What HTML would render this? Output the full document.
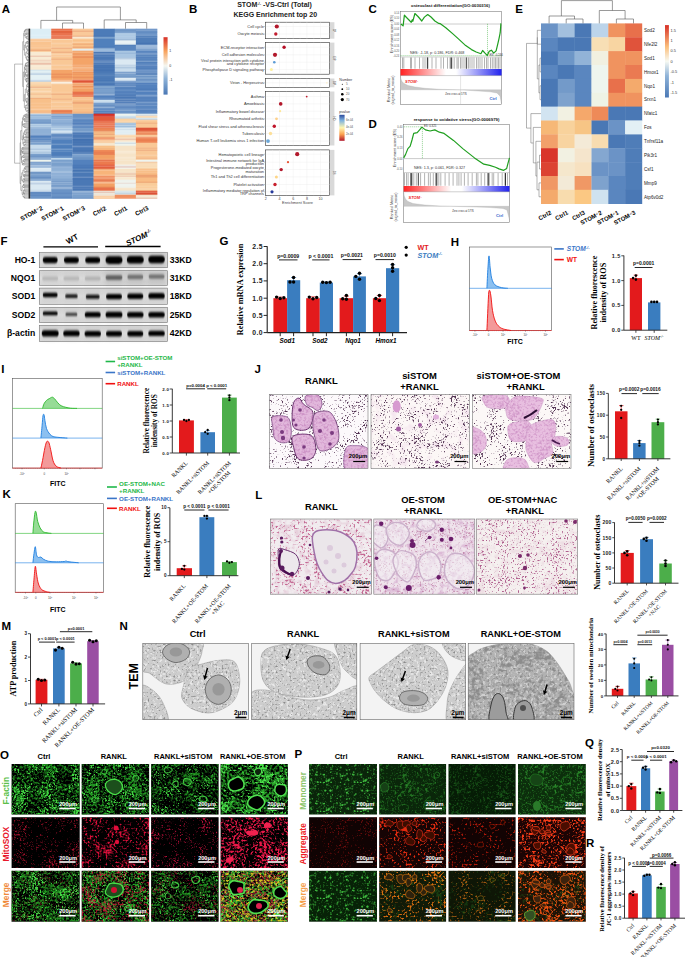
<!DOCTYPE html>
<html><head><meta charset="utf-8"><style>
html,body{margin:0;padding:0;background:#fff;width:685px;height:957px;overflow:hidden}
svg{display:block}
.S{font-family:"Liberation Sans",sans-serif}
.R{font-family:"Liberation Serif",serif}
</style></head><body>
<svg width="685" height="957" viewBox="0 0 685 957">
<rect width="685" height="957" fill="#fff"/>
<rect x="30.2" y="28.7" width="21.4" height="6.3" fill="#dceef6" />
<rect x="30.2" y="34.7" width="21.4" height="1.3" fill="#e3f1f8" />
<rect x="30.2" y="35.7" width="21.4" height="2.3" fill="#dceef6" />
<rect x="30.2" y="37.7" width="21.4" height="1.3" fill="#e1f0f7" />
<rect x="30.2" y="38.7" width="21.4" height="1.3" fill="#fbd2ac" />
<rect x="30.2" y="39.7" width="21.4" height="1.3" fill="#f9c38f" />
<rect x="30.2" y="40.7" width="21.4" height="1.3" fill="#fbd5b0" />
<rect x="30.2" y="41.7" width="21.4" height="3.3" fill="#f9c38f" />
<rect x="30.2" y="44.7" width="21.4" height="1.3" fill="#f9c898" />
<rect x="30.2" y="45.7" width="21.4" height="1.3" fill="#f9c38f" />
<rect x="30.2" y="46.7" width="21.4" height="1.3" fill="#faca9d" />
<rect x="30.2" y="47.7" width="21.4" height="1.3" fill="#fac899" />
<rect x="30.2" y="48.7" width="21.4" height="1.3" fill="#f9c38f" />
<rect x="30.2" y="49.7" width="21.4" height="1.3" fill="#eca479" />
<rect x="30.2" y="50.7" width="21.4" height="1.3" fill="#f9c38f" />
<rect x="30.2" y="51.7" width="21.4" height="4.3" fill="#f8ead3" />
<rect x="30.2" y="55.7" width="21.4" height="1.3" fill="#eabea9" />
<rect x="30.2" y="56.7" width="21.4" height="3.3" fill="#f8ead3" />
<rect x="30.2" y="59.7" width="21.4" height="1.3" fill="#f1d5bf" />
<rect x="30.2" y="60.7" width="21.4" height="1.3" fill="#f3dac4" />
<rect x="30.2" y="61.7" width="21.4" height="1.3" fill="#f8ead3" />
<rect x="30.2" y="62.7" width="21.4" height="1.3" fill="#ebc2ad" />
<rect x="30.2" y="63.7" width="21.4" height="1.3" fill="#eabfaa" />
<rect x="30.2" y="64.7" width="21.4" height="1.3" fill="#f8ead3" />
<rect x="30.2" y="65.7" width="21.4" height="1.3" fill="#f9edd9" />
<rect x="30.2" y="66.7" width="21.4" height="3.3" fill="#f8ead3" />
<rect x="30.2" y="69.7" width="21.4" height="1.3" fill="#d1e2ec" />
<rect x="30.2" y="70.7" width="21.4" height="2.3" fill="#e2f0f4" />
<rect x="30.2" y="72.7" width="21.4" height="1.3" fill="#d1e2ec" />
<rect x="30.2" y="73.7" width="21.4" height="1.3" fill="#b6cbe0" />
<rect x="30.2" y="74.7" width="21.4" height="1.3" fill="#e2f0f4" />
<rect x="30.2" y="75.7" width="21.4" height="1.3" fill="#e6f2f5" />
<rect x="30.2" y="76.7" width="21.4" height="1.3" fill="#e5f1f5" />
<rect x="30.2" y="77.7" width="21.4" height="1.3" fill="#e2f0f4" />
<rect x="30.2" y="78.7" width="21.4" height="1.3" fill="#e8f3f6" />
<rect x="30.2" y="79.7" width="21.4" height="1.3" fill="#cedfeb" />
<rect x="30.2" y="80.7" width="21.4" height="1.3" fill="#b8d2e8" />
<rect x="30.2" y="81.7" width="21.4" height="1.3" fill="#fadbb7" />
<rect x="30.2" y="82.7" width="21.4" height="1.3" fill="#fad9b2" />
<rect x="30.2" y="83.7" width="21.4" height="1.3" fill="#fad7af" />
<rect x="30.2" y="84.7" width="21.4" height="2.3" fill="#f9d1a2" />
<rect x="30.2" y="86.7" width="21.4" height="1.3" fill="#ecae87" />
<rect x="30.2" y="87.7" width="21.4" height="1.3" fill="#fad9b2" />
<rect x="30.2" y="88.7" width="21.4" height="2.3" fill="#f9d1a2" />
<rect x="30.2" y="90.7" width="21.4" height="1.3" fill="#fbdfbe" />
<rect x="30.2" y="91.7" width="21.4" height="1.3" fill="#fad7af" />
<rect x="30.2" y="92.7" width="21.4" height="1.3" fill="#f9d1a2" />
<rect x="30.2" y="93.7" width="21.4" height="1.3" fill="#f2bd92" />
<rect x="30.2" y="94.7" width="21.4" height="1.3" fill="#fad6ab" />
<rect x="30.2" y="95.7" width="21.4" height="1.3" fill="#f9d1a2" />
<rect x="30.2" y="96.7" width="21.4" height="1.3" fill="#fadbb6" />
<rect x="30.2" y="97.7" width="21.4" height="1.3" fill="#efab7b" />
<rect x="30.2" y="98.7" width="21.4" height="4.3" fill="#f8c08a" />
<rect x="30.2" y="102.7" width="21.4" height="1.3" fill="#f9c797" />
<rect x="30.2" y="103.7" width="21.4" height="2.3" fill="#f8c08a" />
<rect x="30.2" y="105.7" width="21.4" height="1.3" fill="#f9c898" />
<rect x="30.2" y="106.7" width="21.4" height="2.3" fill="#f8c08a" />
<rect x="30.2" y="108.7" width="21.4" height="1.3" fill="#fad2ac" />
<rect x="30.2" y="109.7" width="21.4" height="2.3" fill="#f8c08a" />
<rect x="30.2" y="111.7" width="21.4" height="1.3" fill="#f3b381" />
<rect x="30.2" y="112.7" width="21.4" height="1.3" fill="#fad2ac" />
<rect x="30.2" y="113.7" width="21.4" height="1.3" fill="#bdd3e9" />
<rect x="30.2" y="114.7" width="21.4" height="1.3" fill="#8daed3" />
<rect x="30.2" y="115.7" width="21.4" height="1.3" fill="#a9c6e2" />
<rect x="30.2" y="116.7" width="21.4" height="1.3" fill="#9bbadb" />
<rect x="30.2" y="117.7" width="21.4" height="1.3" fill="#a9c6e2" />
<rect x="30.2" y="118.7" width="21.4" height="1.3" fill="#8bacd3" />
<rect x="30.2" y="119.7" width="21.4" height="3.3" fill="#7aa0cc" />
<rect x="30.2" y="122.7" width="21.4" height="1.3" fill="#688fc2" />
<rect x="30.2" y="123.7" width="21.4" height="1.3" fill="#bed6ea" />
<rect x="30.2" y="124.7" width="21.4" height="1.3" fill="#a2bfdd" />
<rect x="30.2" y="125.7" width="21.4" height="1.3" fill="#c0d7eb" />
<rect x="30.2" y="126.7" width="21.4" height="1.3" fill="#9fbddb" />
<rect x="30.2" y="127.7" width="21.4" height="1.3" fill="#a1bddd" />
<rect x="30.2" y="128.7" width="21.4" height="5.3" fill="#8fb0d6" />
<rect x="30.2" y="133.7" width="21.4" height="1.3" fill="#99b7da" />
<rect x="30.2" y="134.7" width="21.4" height="1.3" fill="#83a4cf" />
<rect x="30.2" y="135.7" width="21.4" height="2.3" fill="#5381bd" />
<rect x="30.2" y="137.7" width="21.4" height="1.3" fill="#799dcc" />
<rect x="30.2" y="138.7" width="21.4" height="1.3" fill="#5381bd" />
<rect x="30.2" y="139.7" width="21.4" height="1.3" fill="#7aa0cc" />
<rect x="30.2" y="140.7" width="21.4" height="1.3" fill="#678fc1" />
<rect x="30.2" y="141.7" width="21.4" height="1.3" fill="#95b3d6" />
<rect x="30.2" y="142.7" width="21.4" height="2.3" fill="#7aa0cc" />
<rect x="30.2" y="144.7" width="21.4" height="4.3" fill="#c8dcec" />
<rect x="30.2" y="148.7" width="21.4" height="1.3" fill="#a9c2dd" />
<rect x="30.2" y="149.7" width="21.4" height="2.3" fill="#c8dcec" />
<rect x="30.2" y="151.7" width="21.4" height="1.3" fill="#a7c0dc" />
<rect x="30.2" y="152.7" width="21.4" height="1.3" fill="#c8dcec" />
<rect x="30.2" y="153.7" width="21.4" height="2.3" fill="#7aa0cc" />
<rect x="30.2" y="155.7" width="21.4" height="1.3" fill="#6c93c4" />
<rect x="30.2" y="156.7" width="21.4" height="1.3" fill="#7aa0cc" />
<rect x="30.2" y="157.7" width="21.4" height="1.3" fill="#97b5d7" />
<rect x="30.2" y="158.7" width="21.4" height="1.3" fill="#7aa0cc" />
<rect x="30.2" y="159.7" width="21.4" height="2.3" fill="#eef4ee" />
<rect x="30.2" y="161.7" width="21.4" height="1.3" fill="#7b9ecb" />
<rect x="30.2" y="162.7" width="21.4" height="1.3" fill="#8fb0d6" />
<rect x="30.2" y="163.7" width="21.4" height="1.3" fill="#799dca" />
<rect x="30.2" y="164.7" width="21.4" height="1.3" fill="#aac3e0" />
<rect x="30.2" y="165.7" width="21.4" height="1.3" fill="#a7c1df" />
<rect x="30.2" y="166.7" width="21.4" height="1.3" fill="#8fb0d6" />
<rect x="30.2" y="167.7" width="21.4" height="1.3" fill="#e3eef5" />
<rect x="30.2" y="168.7" width="21.4" height="3.3" fill="#dbe9f2" />
<rect x="30.2" y="171.7" width="21.4" height="1.3" fill="#749ac8" />
<rect x="30.2" y="172.7" width="21.4" height="1.3" fill="#6b92c3" />
<rect x="30.2" y="173.7" width="21.4" height="1.3" fill="#8aabd2" />
<rect x="30.2" y="174.7" width="21.4" height="2.3" fill="#7aa0cc" />
<rect x="30.2" y="176.7" width="21.4" height="1.3" fill="#6890c2" />
<rect x="30.2" y="177.7" width="21.4" height="1.3" fill="#6b92c3" />
<rect x="30.2" y="178.7" width="21.4" height="1.3" fill="#91b1d5" />
<rect x="30.2" y="179.7" width="21.4" height="1.3" fill="#7aa0cc" />
<rect x="30.2" y="180.7" width="21.4" height="2.3" fill="#dbe9f2" />
<rect x="30.2" y="182.7" width="21.4" height="1.3" fill="#bccfe3" />
<rect x="30.2" y="183.7" width="21.4" height="1.3" fill="#c9daea" />
<rect x="30.2" y="184.7" width="21.4" height="5.3" fill="#dbe9f2" />
<rect x="30.2" y="189.7" width="21.4" height="1.3" fill="#c8d9e9" />
<rect x="30.2" y="190.7" width="21.4" height="1.3" fill="#dbe9f2" />
<rect x="30.2" y="191.7" width="21.4" height="1.3" fill="#638cc2" />
<rect x="30.2" y="192.7" width="21.4" height="1.3" fill="#5e88bf" />
<rect x="30.2" y="193.7" width="21.4" height="1.3" fill="#6a93c6" />
<rect x="30.2" y="194.7" width="21.4" height="1.3" fill="#5c86be" />
<rect x="30.2" y="195.7" width="21.4" height="2.3" fill="#6a93c6" />
<rect x="30.2" y="197.7" width="21.4" height="1.1" fill="#779ccb" />
<rect x="51.3" y="28.7" width="21.4" height="1.3" fill="#e8673f" />
<rect x="51.3" y="29.7" width="21.4" height="1.3" fill="#ed8b6c" />
<rect x="51.3" y="30.7" width="21.4" height="1.3" fill="#e8673f" />
<rect x="51.3" y="31.7" width="21.4" height="1.3" fill="#df5d3b" />
<rect x="51.3" y="32.7" width="21.4" height="1.3" fill="#eb7854" />
<rect x="51.3" y="33.7" width="21.4" height="1.3" fill="#e8673f" />
<rect x="51.3" y="34.7" width="21.4" height="1.3" fill="#ee8f71" />
<rect x="51.3" y="35.7" width="21.4" height="1.3" fill="#eb7854" />
<rect x="51.3" y="36.7" width="21.4" height="1.3" fill="#ed8869" />
<rect x="51.3" y="37.7" width="21.4" height="1.3" fill="#e15e3b" />
<rect x="51.3" y="38.7" width="21.4" height="1.3" fill="#f9e0bf" />
<rect x="51.3" y="39.7" width="21.4" height="3.3" fill="#f9c896" />
<rect x="51.3" y="42.7" width="21.4" height="1.3" fill="#fad2a9" />
<rect x="51.3" y="43.7" width="21.4" height="1.3" fill="#f9cd9f" />
<rect x="51.3" y="44.7" width="21.4" height="2.3" fill="#f9c896" />
<rect x="51.3" y="46.7" width="21.4" height="1.3" fill="#fad0a5" />
<rect x="51.3" y="47.7" width="21.4" height="1.3" fill="#eeac81" />
<rect x="51.3" y="48.7" width="21.4" height="3.3" fill="#f9c896" />
<rect x="51.3" y="51.7" width="21.4" height="1.3" fill="#eda97f" />
<rect x="51.3" y="52.7" width="21.4" height="1.3" fill="#f9c896" />
<rect x="51.3" y="53.7" width="21.4" height="1.3" fill="#fbd8b4" />
<rect x="51.3" y="54.7" width="21.4" height="1.3" fill="#f9c896" />
<rect x="51.3" y="55.7" width="21.4" height="1.3" fill="#fad2a9" />
<rect x="51.3" y="56.7" width="21.4" height="2.3" fill="#f9c896" />
<rect x="51.3" y="58.7" width="21.4" height="1.3" fill="#efaf83" />
<rect x="51.3" y="59.7" width="21.4" height="5.3" fill="#f9c896" />
<rect x="51.3" y="64.7" width="21.4" height="1.3" fill="#fad5af" />
<rect x="51.3" y="65.7" width="21.4" height="3.3" fill="#f9c896" />
<rect x="51.3" y="68.7" width="21.4" height="1.3" fill="#fbd7b3" />
<rect x="51.3" y="69.7" width="21.4" height="4.3" fill="#f4a468" />
<rect x="51.3" y="73.7" width="21.4" height="1.3" fill="#e88b5a" />
<rect x="51.3" y="74.7" width="21.4" height="1.3" fill="#f4a468" />
<rect x="51.3" y="75.7" width="21.4" height="1.3" fill="#ef9a62" />
<rect x="51.3" y="76.7" width="21.4" height="1.3" fill="#eb915d" />
<rect x="51.3" y="77.7" width="21.4" height="2.3" fill="#f4a468" />
<rect x="51.3" y="79.7" width="21.4" height="2.3" fill="#f7bb8f" />
<rect x="51.3" y="81.7" width="21.4" height="1.3" fill="#f9f0e1" />
<rect x="51.3" y="82.7" width="21.4" height="1.3" fill="#f8eddc" />
<rect x="51.3" y="83.7" width="21.4" height="1.3" fill="#facea2" />
<rect x="51.3" y="84.7" width="21.4" height="7.3" fill="#f9c896" />
<rect x="51.3" y="91.7" width="21.4" height="1.3" fill="#facfa4" />
<rect x="51.3" y="92.7" width="21.4" height="1.3" fill="#f9c896" />
<rect x="51.3" y="93.7" width="21.4" height="1.3" fill="#edab80" />
<rect x="51.3" y="94.7" width="21.4" height="4.3" fill="#f9c896" />
<rect x="51.3" y="98.7" width="21.4" height="1.3" fill="#f1b387" />
<rect x="51.3" y="99.7" width="21.4" height="2.3" fill="#f9c896" />
<rect x="51.3" y="101.7" width="21.4" height="1.3" fill="#fbd7b2" />
<rect x="51.3" y="102.7" width="21.4" height="3.3" fill="#f9c896" />
<rect x="51.3" y="105.7" width="21.4" height="1.3" fill="#fad3ab" />
<rect x="51.3" y="106.7" width="21.4" height="2.3" fill="#f9c896" />
<rect x="51.3" y="108.7" width="21.4" height="1.3" fill="#fbd8b5" />
<rect x="51.3" y="109.7" width="21.4" height="1.3" fill="#ef8a58" />
<rect x="51.3" y="110.7" width="21.4" height="1.3" fill="#e5784e" />
<rect x="51.3" y="111.7" width="21.4" height="2.3" fill="#ef8a58" />
<rect x="51.3" y="113.7" width="21.4" height="1.3" fill="#8fb0d6" />
<rect x="51.3" y="114.7" width="21.4" height="1.3" fill="#a5c0de" />
<rect x="51.3" y="115.7" width="21.4" height="1.3" fill="#779bc9" />
<rect x="51.3" y="116.7" width="21.4" height="1.3" fill="#8fb0d6" />
<rect x="51.3" y="117.7" width="21.4" height="1.3" fill="#7fa2cd" />
<rect x="51.3" y="118.7" width="21.4" height="1.3" fill="#a3bedd" />
<rect x="51.3" y="119.7" width="21.4" height="3.3" fill="#8fb0d6" />
<rect x="51.3" y="122.7" width="21.4" height="1.3" fill="#84a6d0" />
<rect x="51.3" y="123.7" width="21.4" height="2.3" fill="#8fb0d6" />
<rect x="51.3" y="125.7" width="21.4" height="1.3" fill="#abc4e0" />
<rect x="51.3" y="126.7" width="21.4" height="1.3" fill="#9dbadb" />
<rect x="51.3" y="127.7" width="21.4" height="1.3" fill="#c8dced" />
<rect x="51.3" y="128.7" width="21.4" height="1.3" fill="#a4c1de" />
<rect x="51.3" y="129.7" width="21.4" height="1.3" fill="#b8d2e8" />
<rect x="51.3" y="130.7" width="21.4" height="1.3" fill="#d5e4f1" />
<rect x="51.3" y="131.7" width="21.4" height="1.3" fill="#d3e3f0" />
<rect x="51.3" y="132.7" width="21.4" height="1.3" fill="#b6cde3" />
<rect x="51.3" y="133.7" width="21.4" height="1.3" fill="#6a93c6" />
<rect x="51.3" y="134.7" width="21.4" height="1.3" fill="#618bc1" />
<rect x="51.3" y="135.7" width="21.4" height="1.3" fill="#5f89c0" />
<rect x="51.3" y="136.7" width="21.4" height="1.3" fill="#7da0cd" />
<rect x="51.3" y="137.7" width="21.4" height="2.3" fill="#6a93c6" />
<rect x="51.3" y="139.7" width="21.4" height="4.3" fill="#5080bc" />
<rect x="51.3" y="143.7" width="21.4" height="1.3" fill="#7b9fcc" />
<rect x="51.3" y="144.7" width="21.4" height="2.3" fill="#5080bc" />
<rect x="51.3" y="146.7" width="21.4" height="1.3" fill="#4b7bb8" />
<rect x="51.3" y="147.7" width="21.4" height="1.3" fill="#5080bc" />
<rect x="51.3" y="148.7" width="21.4" height="1.3" fill="#84a6d0" />
<rect x="51.3" y="149.7" width="21.4" height="1.3" fill="#5080bc" />
<rect x="51.3" y="150.7" width="21.4" height="1.3" fill="#6791c5" />
<rect x="51.3" y="151.7" width="21.4" height="1.3" fill="#5080bc" />
<rect x="51.3" y="152.7" width="21.4" height="1.3" fill="#4d7cb9" />
<rect x="51.3" y="153.7" width="21.4" height="1.3" fill="#5080bc" />
<rect x="51.3" y="154.7" width="21.4" height="1.3" fill="#4878b6" />
<rect x="51.3" y="155.7" width="21.4" height="1.3" fill="#6e95c7" />
<rect x="51.3" y="156.7" width="21.4" height="1.3" fill="#5080bc" />
<rect x="51.3" y="157.7" width="21.4" height="1.3" fill="#c1d8eb" />
<rect x="51.3" y="158.7" width="21.4" height="1.3" fill="#b8d2e8" />
<rect x="51.3" y="159.7" width="21.4" height="2.3" fill="#7aa0cc" />
<rect x="51.3" y="161.7" width="21.4" height="1.3" fill="#93b2d6" />
<rect x="51.3" y="162.7" width="21.4" height="3.3" fill="#7aa0cc" />
<rect x="51.3" y="165.7" width="21.4" height="1.3" fill="#87a9d1" />
<rect x="51.3" y="166.7" width="21.4" height="1.3" fill="#99b7da" />
<rect x="51.3" y="167.7" width="21.4" height="3.3" fill="#8fb0d6" />
<rect x="51.3" y="170.7" width="21.4" height="1.3" fill="#9dbadb" />
<rect x="51.3" y="171.7" width="21.4" height="1.3" fill="#adc5e1" />
<rect x="51.3" y="172.7" width="21.4" height="2.3" fill="#8fb0d6" />
<rect x="51.3" y="174.7" width="21.4" height="1.3" fill="#99b7da" />
<rect x="51.3" y="175.7" width="21.4" height="3.3" fill="#8fb0d6" />
<rect x="51.3" y="178.7" width="21.4" height="1.3" fill="#7fa2cd" />
<rect x="51.3" y="179.7" width="21.4" height="1.3" fill="#8fb0d6" />
<rect x="51.3" y="180.7" width="21.4" height="1.3" fill="#6c93c4" />
<rect x="51.3" y="181.7" width="21.4" height="1.3" fill="#99b6d8" />
<rect x="51.3" y="182.7" width="21.4" height="1.3" fill="#7aa0cc" />
<rect x="51.3" y="183.7" width="21.4" height="1.3" fill="#92b1d5" />
<rect x="51.3" y="184.7" width="21.4" height="1.3" fill="#7aa0cc" />
<rect x="51.3" y="185.7" width="21.4" height="1.3" fill="#7198c7" />
<rect x="51.3" y="186.7" width="21.4" height="1.3" fill="#94b2d6" />
<rect x="51.3" y="187.7" width="21.4" height="1.3" fill="#9fbada" />
<rect x="51.3" y="188.7" width="21.4" height="1.3" fill="#7aa0cc" />
<rect x="51.3" y="189.7" width="21.4" height="3.3" fill="#6a93c6" />
<rect x="51.3" y="192.7" width="21.4" height="1.3" fill="#5f89bf" />
<rect x="51.3" y="193.7" width="21.4" height="3.3" fill="#6a93c6" />
<rect x="51.3" y="196.7" width="21.4" height="1.3" fill="#5b86bd" />
<rect x="51.3" y="197.7" width="21.4" height="1.1" fill="#6a93c6" />
<rect x="72.5" y="28.7" width="21.4" height="2.3" fill="#f9c99a" />
<rect x="72.5" y="30.7" width="21.4" height="1.3" fill="#eca880" />
<rect x="72.5" y="31.7" width="21.4" height="4.3" fill="#f9c99a" />
<rect x="72.5" y="35.7" width="21.4" height="1.3" fill="#edac83" />
<rect x="72.5" y="36.7" width="21.4" height="1.3" fill="#f9ead4" />
<rect x="72.5" y="37.7" width="21.4" height="1.3" fill="#f8e6cc" />
<rect x="72.5" y="38.7" width="21.4" height="1.3" fill="#facc9d" />
<rect x="72.5" y="39.7" width="21.4" height="2.3" fill="#f9c28a" />
<rect x="72.5" y="41.7" width="21.4" height="1.3" fill="#fbd4ac" />
<rect x="72.5" y="42.7" width="21.4" height="1.3" fill="#f9c28a" />
<rect x="72.5" y="43.7" width="21.4" height="1.3" fill="#eea878" />
<rect x="72.5" y="44.7" width="21.4" height="2.3" fill="#f9c28a" />
<rect x="72.5" y="46.7" width="21.4" height="1.3" fill="#eba072" />
<rect x="72.5" y="47.7" width="21.4" height="1.3" fill="#f9c28a" />
<rect x="72.5" y="48.7" width="21.4" height="2.3" fill="#e6eef0" />
<rect x="72.5" y="50.7" width="21.4" height="1.3" fill="#f4a468" />
<rect x="72.5" y="51.7" width="21.4" height="1.3" fill="#f6b889" />
<rect x="72.5" y="52.7" width="21.4" height="1.3" fill="#f4a468" />
<rect x="72.5" y="53.7" width="21.4" height="1.3" fill="#ec945f" />
<rect x="72.5" y="54.7" width="21.4" height="1.3" fill="#f5af7b" />
<rect x="72.5" y="55.7" width="21.4" height="1.3" fill="#ef9a62" />
<rect x="72.5" y="56.7" width="21.4" height="1.3" fill="#e88b5a" />
<rect x="72.5" y="57.7" width="21.4" height="7.3" fill="#f4a468" />
<rect x="72.5" y="64.7" width="21.4" height="1.3" fill="#f6b788" />
<rect x="72.5" y="65.7" width="21.4" height="1.3" fill="#f4a468" />
<rect x="72.5" y="66.7" width="21.4" height="1.3" fill="#f7be93" />
<rect x="72.5" y="67.7" width="21.4" height="1.3" fill="#f6b584" />
<rect x="72.5" y="68.7" width="21.4" height="1.3" fill="#f6b585" />
<rect x="72.5" y="69.7" width="21.4" height="1.3" fill="#f4a468" />
<rect x="72.5" y="70.7" width="21.4" height="1.3" fill="#f7be93" />
<rect x="72.5" y="71.7" width="21.4" height="1.3" fill="#eb925e" />
<rect x="72.5" y="72.7" width="21.4" height="1.3" fill="#f4a468" />
<rect x="72.5" y="73.7" width="21.4" height="1.3" fill="#ed9660" />
<rect x="72.5" y="74.7" width="21.4" height="2.3" fill="#f4a468" />
<rect x="72.5" y="76.7" width="21.4" height="1.3" fill="#ea8e5c" />
<rect x="72.5" y="77.7" width="21.4" height="1.3" fill="#f09b63" />
<rect x="72.5" y="78.7" width="21.4" height="1.3" fill="#f5ac76" />
<rect x="72.5" y="79.7" width="21.4" height="1.3" fill="#ea836a" />
<rect x="72.5" y="80.7" width="21.4" height="1.3" fill="#db5237" />
<rect x="72.5" y="81.7" width="21.4" height="1.3" fill="#e35a3a" />
<rect x="72.5" y="82.7" width="21.4" height="1.3" fill="#f7bc92" />
<rect x="72.5" y="83.7" width="21.4" height="1.3" fill="#f3a064" />
<rect x="72.5" y="84.7" width="21.4" height="1.3" fill="#f6bb8f" />
<rect x="72.5" y="85.7" width="21.4" height="1.3" fill="#eb8f5b" />
<rect x="72.5" y="86.7" width="21.4" height="1.3" fill="#f3a064" />
<rect x="72.5" y="87.7" width="21.4" height="1.3" fill="#f5b382" />
<rect x="72.5" y="88.7" width="21.4" height="3.3" fill="#f3a064" />
<rect x="72.5" y="91.7" width="21.4" height="3.3" fill="#e8704a" />
<rect x="72.5" y="94.7" width="21.4" height="1.3" fill="#ed8f71" />
<rect x="72.5" y="95.7" width="21.4" height="1.3" fill="#e8704a" />
<rect x="72.5" y="96.7" width="21.4" height="1.3" fill="#f9c695" />
<rect x="72.5" y="97.7" width="21.4" height="1.3" fill="#f8c08a" />
<rect x="72.5" y="98.7" width="21.4" height="1.3" fill="#f9cb9f" />
<rect x="72.5" y="99.7" width="21.4" height="2.3" fill="#f8c08a" />
<rect x="72.5" y="101.7" width="21.4" height="1.3" fill="#eea879" />
<rect x="72.5" y="102.7" width="21.4" height="1.3" fill="#eca376" />
<rect x="72.5" y="103.7" width="21.4" height="4.3" fill="#f8c08a" />
<rect x="72.5" y="107.7" width="21.4" height="1.3" fill="#f9c796" />
<rect x="72.5" y="108.7" width="21.4" height="3.3" fill="#f8c08a" />
<rect x="72.5" y="111.7" width="21.4" height="1.3" fill="#f1af7e" />
<rect x="72.5" y="112.7" width="21.4" height="1.3" fill="#f8c08a" />
<rect x="72.5" y="113.7" width="21.4" height="4.3" fill="#6a93c6" />
<rect x="72.5" y="117.7" width="21.4" height="1.3" fill="#7ea2ce" />
<rect x="72.5" y="118.7" width="21.4" height="1.3" fill="#6a93c6" />
<rect x="72.5" y="119.7" width="21.4" height="2.3" fill="#5a86bf" />
<rect x="72.5" y="121.7" width="21.4" height="1.3" fill="#6991c5" />
<rect x="72.5" y="122.7" width="21.4" height="1.3" fill="#537fba" />
<rect x="72.5" y="123.7" width="21.4" height="1.3" fill="#5a86bf" />
<rect x="72.5" y="124.7" width="21.4" height="1.3" fill="#7b9ecc" />
<rect x="72.5" y="125.7" width="21.4" height="1.3" fill="#6a92c5" />
<rect x="72.5" y="126.7" width="21.4" height="1.3" fill="#5a86bf" />
<rect x="72.5" y="127.7" width="21.4" height="2.3" fill="#7aa0cc" />
<rect x="72.5" y="129.7" width="21.4" height="1.3" fill="#6d95c5" />
<rect x="72.5" y="130.7" width="21.4" height="1.3" fill="#8fafd4" />
<rect x="72.5" y="131.7" width="21.4" height="1.3" fill="#7aa0cc" />
<rect x="72.5" y="132.7" width="21.4" height="1.3" fill="#4a78b5" />
<rect x="72.5" y="133.7" width="21.4" height="1.3" fill="#5d86bd" />
<rect x="72.5" y="134.7" width="21.4" height="3.3" fill="#4a78b5" />
<rect x="72.5" y="137.7" width="21.4" height="1.3" fill="#698fc2" />
<rect x="72.5" y="138.7" width="21.4" height="1.3" fill="#4371b0" />
<rect x="72.5" y="139.7" width="21.4" height="1.3" fill="#4472b1" />
<rect x="72.5" y="140.7" width="21.4" height="1.3" fill="#4a78b5" />
<rect x="72.5" y="141.7" width="21.4" height="1.3" fill="#4573b1" />
<rect x="72.5" y="142.7" width="21.4" height="2.3" fill="#4a78b5" />
<rect x="72.5" y="144.7" width="21.4" height="1.3" fill="#4674b2" />
<rect x="72.5" y="145.7" width="21.4" height="1.3" fill="#7b9dc9" />
<rect x="72.5" y="146.7" width="21.4" height="1.3" fill="#5c85bc" />
<rect x="72.5" y="147.7" width="21.4" height="3.3" fill="#4a78b5" />
<rect x="72.5" y="150.7" width="21.4" height="1.3" fill="#4472b1" />
<rect x="72.5" y="151.7" width="21.4" height="1.3" fill="#6189be" />
<rect x="72.5" y="152.7" width="21.4" height="1.3" fill="#4a78b5" />
<rect x="72.5" y="153.7" width="21.4" height="1.3" fill="#8eaed3" />
<rect x="72.5" y="154.7" width="21.4" height="2.3" fill="#7aa0cc" />
<rect x="72.5" y="156.7" width="21.4" height="1.3" fill="#7299c7" />
<rect x="72.5" y="157.7" width="21.4" height="1.3" fill="#6a92c3" />
<rect x="72.5" y="158.7" width="21.4" height="1.3" fill="#7299c8" />
<rect x="72.5" y="159.7" width="21.4" height="5.3" fill="#5381bd" />
<rect x="72.5" y="164.7" width="21.4" height="1.3" fill="#4b79b7" />
<rect x="72.5" y="165.7" width="21.4" height="1.3" fill="#4e7cb9" />
<rect x="72.5" y="166.7" width="21.4" height="1.3" fill="#4a78b6" />
<rect x="72.5" y="167.7" width="21.4" height="1.3" fill="#4a78b5" />
<rect x="72.5" y="168.7" width="21.4" height="1.3" fill="#678ec1" />
<rect x="72.5" y="169.7" width="21.4" height="2.3" fill="#4674b2" />
<rect x="72.5" y="171.7" width="21.4" height="1.3" fill="#6f94c4" />
<rect x="72.5" y="172.7" width="21.4" height="4.3" fill="#4a78b5" />
<rect x="72.5" y="176.7" width="21.4" height="1.3" fill="#7799c7" />
<rect x="72.5" y="177.7" width="21.4" height="1.3" fill="#4a78b5" />
<rect x="72.5" y="178.7" width="21.4" height="1.3" fill="#4775b3" />
<rect x="72.5" y="179.7" width="21.4" height="6.3" fill="#4a78b5" />
<rect x="72.5" y="185.7" width="21.4" height="1.3" fill="#6e93c4" />
<rect x="72.5" y="186.7" width="21.4" height="1.3" fill="#4a78b5" />
<rect x="72.5" y="187.7" width="21.4" height="1.3" fill="#5c85bc" />
<rect x="72.5" y="188.7" width="21.4" height="2.3" fill="#4a78b5" />
<rect x="72.5" y="190.7" width="21.4" height="1.3" fill="#97b5d7" />
<rect x="72.5" y="191.7" width="21.4" height="1.3" fill="#9ab7d8" />
<rect x="72.5" y="192.7" width="21.4" height="1.3" fill="#7aa0cc" />
<rect x="72.5" y="193.7" width="21.4" height="1.3" fill="#8bacd3" />
<rect x="72.5" y="194.7" width="21.4" height="3.3" fill="#7aa0cc" />
<rect x="72.5" y="197.7" width="21.4" height="1.1" fill="#6f96c6" />
<rect x="93.6" y="28.7" width="21.4" height="7.3" fill="#4c7bb8" />
<rect x="93.6" y="35.7" width="21.4" height="1.3" fill="#4574b3" />
<rect x="93.6" y="36.7" width="21.4" height="2.3" fill="#7aa0cc" />
<rect x="93.6" y="38.7" width="21.4" height="8.3" fill="#5080bc" />
<rect x="93.6" y="46.7" width="21.4" height="1.3" fill="#4b7ab8" />
<rect x="93.6" y="47.7" width="21.4" height="1.3" fill="#7b9fcc" />
<rect x="93.6" y="48.7" width="21.4" height="1.3" fill="#a0bfdf" />
<rect x="93.6" y="49.7" width="21.4" height="1.3" fill="#93b4d8" />
<rect x="93.6" y="50.7" width="21.4" height="1.3" fill="#b0cae5" />
<rect x="93.6" y="51.7" width="21.4" height="1.3" fill="#4371b0" />
<rect x="93.6" y="52.7" width="21.4" height="1.3" fill="#658cc0" />
<rect x="93.6" y="53.7" width="21.4" height="1.3" fill="#7296c5" />
<rect x="93.6" y="54.7" width="21.4" height="1.3" fill="#4a78b5" />
<rect x="93.6" y="55.7" width="21.4" height="1.3" fill="#5b85bc" />
<rect x="93.6" y="56.7" width="21.4" height="3.3" fill="#4a78b5" />
<rect x="93.6" y="59.7" width="21.4" height="1.3" fill="#5d86bd" />
<rect x="93.6" y="60.7" width="21.4" height="1.3" fill="#6189be" />
<rect x="93.6" y="61.7" width="21.4" height="1.3" fill="#7598c7" />
<rect x="93.6" y="62.7" width="21.4" height="1.3" fill="#4a78b5" />
<rect x="93.6" y="63.7" width="21.4" height="1.3" fill="#6088be" />
<rect x="93.6" y="64.7" width="21.4" height="1.3" fill="#4775b3" />
<rect x="93.6" y="65.7" width="21.4" height="1.3" fill="#4a78b5" />
<rect x="93.6" y="66.7" width="21.4" height="1.3" fill="#4573b1" />
<rect x="93.6" y="67.7" width="21.4" height="2.3" fill="#4a78b5" />
<rect x="93.6" y="69.7" width="21.4" height="1.3" fill="#4371b0" />
<rect x="93.6" y="70.7" width="21.4" height="1.3" fill="#4a78b5" />
<rect x="93.6" y="71.7" width="21.4" height="1.3" fill="#4977b4" />
<rect x="93.6" y="72.7" width="21.4" height="2.3" fill="#4f7db8" />
<rect x="93.6" y="74.7" width="21.4" height="1.3" fill="#5f89be" />
<rect x="93.6" y="75.7" width="21.4" height="2.3" fill="#4f7db8" />
<rect x="93.6" y="77.7" width="21.4" height="1.3" fill="#4977b4" />
<rect x="93.6" y="78.7" width="21.4" height="1.3" fill="#4f7db8" />
<rect x="93.6" y="79.7" width="21.4" height="1.3" fill="#4674b2" />
<rect x="93.6" y="80.7" width="21.4" height="1.3" fill="#4f7db8" />
<rect x="93.6" y="81.7" width="21.4" height="1.3" fill="#5e88be" />
<rect x="93.6" y="82.7" width="21.4" height="1.3" fill="#4f7db8" />
<rect x="93.6" y="83.7" width="21.4" height="1.3" fill="#4775b3" />
<rect x="93.6" y="84.7" width="21.4" height="1.3" fill="#4f7db8" />
<rect x="93.6" y="85.7" width="21.4" height="1.3" fill="#7aa0cc" />
<rect x="93.6" y="86.7" width="21.4" height="1.3" fill="#89abd2" />
<rect x="93.6" y="87.7" width="21.4" height="1.3" fill="#7097c7" />
<rect x="93.6" y="88.7" width="21.4" height="4.3" fill="#7aa0cc" />
<rect x="93.6" y="92.7" width="21.4" height="1.3" fill="#6d94c4" />
<rect x="93.6" y="93.7" width="21.4" height="1.3" fill="#9bb8d9" />
<rect x="93.6" y="94.7" width="21.4" height="1.3" fill="#80a2ce" />
<rect x="93.6" y="95.7" width="21.4" height="2.3" fill="#5381bd" />
<rect x="93.6" y="97.7" width="21.4" height="1.3" fill="#6b93c6" />
<rect x="93.6" y="98.7" width="21.4" height="1.3" fill="#5381bd" />
<rect x="93.6" y="99.7" width="21.4" height="1.3" fill="#d2e2f0" />
<rect x="93.6" y="100.7" width="21.4" height="2.3" fill="#c8dcec" />
<rect x="93.6" y="102.7" width="21.4" height="2.3" fill="#7aa0cc" />
<rect x="93.6" y="104.7" width="21.4" height="1.3" fill="#6991c3" />
<rect x="93.6" y="105.7" width="21.4" height="1.3" fill="#688fc2" />
<rect x="93.6" y="106.7" width="21.4" height="1.3" fill="#9db9d9" />
<rect x="93.6" y="107.7" width="21.4" height="1.3" fill="#759aca" />
<rect x="93.6" y="108.7" width="21.4" height="1.3" fill="#5381bd" />
<rect x="93.6" y="109.7" width="21.4" height="1.3" fill="#80a2ce" />
<rect x="93.6" y="110.7" width="21.4" height="1.3" fill="#4e7cb9" />
<rect x="93.6" y="111.7" width="21.4" height="1.3" fill="#6c94c7" />
<rect x="93.6" y="112.7" width="21.4" height="1.3" fill="#5381bd" />
<rect x="93.6" y="113.7" width="21.4" height="1.3" fill="#d73027" />
<rect x="93.6" y="114.7" width="21.4" height="1.3" fill="#d23228" />
<rect x="93.6" y="115.7" width="21.4" height="1.3" fill="#de534b" />
<rect x="93.6" y="116.7" width="21.4" height="4.3" fill="#e35a3a" />
<rect x="93.6" y="120.7" width="21.4" height="1.3" fill="#e8755a" />
<rect x="93.6" y="121.7" width="21.4" height="1.3" fill="#e8704a" />
<rect x="93.6" y="122.7" width="21.4" height="1.3" fill="#ed8d6f" />
<rect x="93.6" y="123.7" width="21.4" height="1.3" fill="#e8704a" />
<rect x="93.6" y="124.7" width="21.4" height="1.3" fill="#ef9b80" />
<rect x="93.6" y="125.7" width="21.4" height="1.3" fill="#e8704a" />
<rect x="93.6" y="126.7" width="21.4" height="1.3" fill="#ed8f71" />
<rect x="93.6" y="127.7" width="21.4" height="1.3" fill="#e87e52" />
<rect x="93.6" y="128.7" width="21.4" height="1.3" fill="#ef8a58" />
<rect x="93.6" y="129.7" width="21.4" height="1.3" fill="#e97f52" />
<rect x="93.6" y="130.7" width="21.4" height="1.3" fill="#eea879" />
<rect x="93.6" y="131.7" width="21.4" height="1.3" fill="#f3b381" />
<rect x="93.6" y="132.7" width="21.4" height="1.3" fill="#f9c38c" />
<rect x="93.6" y="133.7" width="21.4" height="1.3" fill="#eba275" />
<rect x="93.6" y="134.7" width="21.4" height="2.3" fill="#f9c38c" />
<rect x="93.6" y="136.7" width="21.4" height="1.3" fill="#eca577" />
<rect x="93.6" y="137.7" width="21.4" height="1.3" fill="#f1976b" />
<rect x="93.6" y="138.7" width="21.4" height="1.3" fill="#f3a57e" />
<rect x="93.6" y="139.7" width="21.4" height="1.3" fill="#f9c898" />
<rect x="93.6" y="140.7" width="21.4" height="1.3" fill="#fad1a9" />
<rect x="93.6" y="141.7" width="21.4" height="1.3" fill="#f9c898" />
<rect x="93.6" y="142.7" width="21.4" height="1.3" fill="#f6e4c8" />
<rect x="93.6" y="143.7" width="21.4" height="1.3" fill="#f7e8cf" />
<rect x="93.6" y="144.7" width="21.4" height="1.3" fill="#f7e7ce" />
<rect x="93.6" y="145.7" width="21.4" height="1.3" fill="#f6bc85" />
<rect x="93.6" y="146.7" width="21.4" height="1.3" fill="#fbc98e" />
<rect x="93.6" y="147.7" width="21.4" height="1.3" fill="#f1b17d" />
<rect x="93.6" y="148.7" width="21.4" height="1.3" fill="#fbc98e" />
<rect x="93.6" y="149.7" width="21.4" height="2.3" fill="#ef8a58" />
<rect x="93.6" y="151.7" width="21.4" height="1.3" fill="#e97f52" />
<rect x="93.6" y="152.7" width="21.4" height="1.3" fill="#eb8354" />
<rect x="93.6" y="153.7" width="21.4" height="1.3" fill="#e67a4f" />
<rect x="93.6" y="154.7" width="21.4" height="4.3" fill="#f3a064" />
<rect x="93.6" y="158.7" width="21.4" height="1.3" fill="#f5af7c" />
<rect x="93.6" y="159.7" width="21.4" height="1.3" fill="#e46e47" />
<rect x="93.6" y="160.7" width="21.4" height="1.3" fill="#ef906b" />
<rect x="93.6" y="161.7" width="21.4" height="3.3" fill="#ec7a4e" />
<rect x="93.6" y="164.7" width="21.4" height="1.3" fill="#e35e3e" />
<rect x="93.6" y="165.7" width="21.4" height="1.3" fill="#ea866e" />
<rect x="93.6" y="166.7" width="21.4" height="2.3" fill="#e35e3e" />
<rect x="93.6" y="168.7" width="21.4" height="1.3" fill="#efa06d" />
<rect x="93.6" y="169.7" width="21.4" height="1.3" fill="#fac69a" />
<rect x="93.6" y="170.7" width="21.4" height="4.3" fill="#f8b47a" />
<rect x="93.6" y="174.7" width="21.4" height="1.3" fill="#facaa0" />
<rect x="93.6" y="175.7" width="21.4" height="1.3" fill="#f09060" />
<rect x="93.6" y="176.7" width="21.4" height="1.3" fill="#f19b70" />
<rect x="93.6" y="177.7" width="21.4" height="1.3" fill="#f3a781" />
<rect x="93.6" y="178.7" width="21.4" height="1.3" fill="#f09060" />
<rect x="93.6" y="179.7" width="21.4" height="1.3" fill="#e57b53" />
<rect x="93.6" y="180.7" width="21.4" height="1.3" fill="#e88258" />
<rect x="93.6" y="181.7" width="21.4" height="1.3" fill="#f7bc92" />
<rect x="93.6" y="182.7" width="21.4" height="1.3" fill="#f6ba8f" />
<rect x="93.6" y="183.7" width="21.4" height="3.3" fill="#f3a064" />
<rect x="93.6" y="186.7" width="21.4" height="1.3" fill="#e78857" />
<rect x="93.6" y="187.7" width="21.4" height="3.3" fill="#e8704a" />
<rect x="93.6" y="190.7" width="21.4" height="1.3" fill="#f1ebdf" />
<rect x="93.6" y="191.7" width="21.4" height="1.3" fill="#e2bcad" />
<rect x="93.6" y="192.7" width="21.4" height="1.3" fill="#f0eadd" />
<rect x="93.6" y="193.7" width="21.4" height="1.3" fill="#ece4d4" />
<rect x="93.6" y="194.7" width="21.4" height="1.3" fill="#f0e9dd" />
<rect x="93.6" y="195.7" width="21.4" height="1.3" fill="#facd9f" />
<rect x="93.6" y="196.7" width="21.4" height="1.3" fill="#fbd8b5" />
<rect x="93.6" y="197.7" width="21.4" height="1.1" fill="#f9c896" />
<rect x="114.8" y="28.7" width="21.4" height="1.3" fill="#7aa0cc" />
<rect x="114.8" y="29.7" width="21.4" height="1.3" fill="#6b92c3" />
<rect x="114.8" y="30.7" width="21.4" height="1.3" fill="#7aa0cc" />
<rect x="114.8" y="31.7" width="21.4" height="1.3" fill="#6c93c4" />
<rect x="114.8" y="32.7" width="21.4" height="1.3" fill="#a9c6e2" />
<rect x="114.8" y="33.7" width="21.4" height="1.3" fill="#b4cde6" />
<rect x="114.8" y="34.7" width="21.4" height="1.3" fill="#a9c6e2" />
<rect x="114.8" y="35.7" width="21.4" height="1.3" fill="#b7cfe7" />
<rect x="114.8" y="36.7" width="21.4" height="1.3" fill="#a9c6e2" />
<rect x="114.8" y="37.7" width="21.4" height="1.3" fill="#bad1e8" />
<rect x="114.8" y="38.7" width="21.4" height="1.3" fill="#93b3d6" />
<rect x="114.8" y="39.7" width="21.4" height="1.3" fill="#c1d2e2" />
<rect x="114.8" y="40.7" width="21.4" height="1.3" fill="#eaf2f5" />
<rect x="114.8" y="41.7" width="21.4" height="1.3" fill="#ecf3f6" />
<rect x="114.8" y="42.7" width="21.4" height="2.3" fill="#e4eef2" />
<rect x="114.8" y="44.7" width="21.4" height="1.3" fill="#517eb9" />
<rect x="114.8" y="45.7" width="21.4" height="5.3" fill="#5a86bf" />
<rect x="114.8" y="50.7" width="21.4" height="2.3" fill="#a9c6e2" />
<rect x="114.8" y="52.7" width="21.4" height="1.3" fill="#96b5d8" />
<rect x="114.8" y="53.7" width="21.4" height="4.3" fill="#a9c6e2" />
<rect x="114.8" y="57.7" width="21.4" height="1.3" fill="#b2c8df" />
<rect x="114.8" y="58.7" width="21.4" height="1.3" fill="#cbdceb" />
<rect x="114.8" y="59.7" width="21.4" height="5.3" fill="#dbe9f2" />
<rect x="114.8" y="64.7" width="21.4" height="1.3" fill="#bbcfe3" />
<rect x="114.8" y="65.7" width="21.4" height="1.3" fill="#cee0ee" />
<rect x="114.8" y="66.7" width="21.4" height="1.3" fill="#aec6df" />
<rect x="114.8" y="67.7" width="21.4" height="1.3" fill="#bad0e5" />
<rect x="114.8" y="68.7" width="21.4" height="2.3" fill="#c8dcec" />
<rect x="114.8" y="70.7" width="21.4" height="1.3" fill="#d0e1ef" />
<rect x="114.8" y="71.7" width="21.4" height="1.3" fill="#7198c7" />
<rect x="114.8" y="72.7" width="21.4" height="1.3" fill="#9fbbda" />
<rect x="114.8" y="73.7" width="21.4" height="3.3" fill="#7aa0cc" />
<rect x="114.8" y="76.7" width="21.4" height="1.3" fill="#6991c2" />
<rect x="114.8" y="77.7" width="21.4" height="1.3" fill="#e4eef5" />
<rect x="114.8" y="78.7" width="21.4" height="2.3" fill="#dbe9f2" />
<rect x="114.8" y="80.7" width="21.4" height="1.3" fill="#84a5cf" />
<rect x="114.8" y="81.7" width="21.4" height="1.3" fill="#7b9ecc" />
<rect x="114.8" y="82.7" width="21.4" height="1.3" fill="#5a86bf" />
<rect x="114.8" y="83.7" width="21.4" height="1.3" fill="#7096c8" />
<rect x="114.8" y="84.7" width="21.4" height="1.3" fill="#5480bb" />
<rect x="114.8" y="85.7" width="21.4" height="1.3" fill="#88a8d1" />
<rect x="114.8" y="86.7" width="21.4" height="1.3" fill="#5a86bf" />
<rect x="114.8" y="87.7" width="21.4" height="1.3" fill="#5480bb" />
<rect x="114.8" y="88.7" width="21.4" height="1.3" fill="#5a86bf" />
<rect x="114.8" y="89.7" width="21.4" height="1.3" fill="#6891c5" />
<rect x="114.8" y="90.7" width="21.4" height="1.3" fill="#5a86bf" />
<rect x="114.8" y="91.7" width="21.4" height="1.3" fill="#527fba" />
<rect x="114.8" y="92.7" width="21.4" height="2.3" fill="#5a86bf" />
<rect x="114.8" y="94.7" width="21.4" height="1.3" fill="#4a78b5" />
<rect x="114.8" y="95.7" width="21.4" height="1.3" fill="#648cc0" />
<rect x="114.8" y="96.7" width="21.4" height="2.3" fill="#4a78b5" />
<rect x="114.8" y="98.7" width="21.4" height="1.3" fill="#7a9cc9" />
<rect x="114.8" y="99.7" width="21.4" height="1.3" fill="#4573b2" />
<rect x="114.8" y="100.7" width="21.4" height="1.3" fill="#7c9dc9" />
<rect x="114.8" y="101.7" width="21.4" height="1.3" fill="#4a78b5" />
<rect x="114.8" y="102.7" width="21.4" height="1.3" fill="#7296c5" />
<rect x="114.8" y="103.7" width="21.4" height="1.3" fill="#7c9dc9" />
<rect x="114.8" y="104.7" width="21.4" height="1.3" fill="#799ecc" />
<rect x="114.8" y="105.7" width="21.4" height="1.3" fill="#6a93c6" />
<rect x="114.8" y="106.7" width="21.4" height="1.3" fill="#5c86bd" />
<rect x="114.8" y="107.7" width="21.4" height="2.3" fill="#6a93c6" />
<rect x="114.8" y="109.7" width="21.4" height="1.3" fill="#8dacd3" />
<rect x="114.8" y="110.7" width="21.4" height="1.3" fill="#6a93c6" />
<rect x="114.8" y="111.7" width="21.4" height="1.3" fill="#648ec2" />
<rect x="114.8" y="112.7" width="21.4" height="1.3" fill="#80a3ce" />
<rect x="114.8" y="113.7" width="21.4" height="1.3" fill="#eef4ee" />
<rect x="114.8" y="114.7" width="21.4" height="1.3" fill="#f0f5f0" />
<rect x="114.8" y="115.7" width="21.4" height="1.3" fill="#d4e4f0" />
<rect x="114.8" y="116.7" width="21.4" height="1.3" fill="#c8dcec" />
<rect x="114.8" y="117.7" width="21.4" height="1.3" fill="#c9d6df" />
<rect x="114.8" y="118.7" width="21.4" height="2.3" fill="#fad2a2" />
<rect x="114.8" y="120.7" width="21.4" height="1.3" fill="#fbd9b0" />
<rect x="114.8" y="121.7" width="21.4" height="1.3" fill="#fad2a2" />
<rect x="114.8" y="122.7" width="21.4" height="1.3" fill="#b0cce4" />
<rect x="114.8" y="123.7" width="21.4" height="1.3" fill="#97b6d7" />
<rect x="114.8" y="124.7" width="21.4" height="1.3" fill="#c7dbec" />
<rect x="114.8" y="125.7" width="21.4" height="1.3" fill="#9ab9d8" />
<rect x="114.8" y="126.7" width="21.4" height="1.3" fill="#b0cce4" />
<rect x="114.8" y="127.7" width="21.4" height="1.3" fill="#e7f1f5" />
<rect x="114.8" y="128.7" width="21.4" height="1.3" fill="#cadbe8" />
<rect x="114.8" y="129.7" width="21.4" height="1.3" fill="#e0edf2" />
<rect x="114.8" y="130.7" width="21.4" height="1.3" fill="#e4f0f4" />
<rect x="114.8" y="131.7" width="21.4" height="1.3" fill="#e0edf2" />
<rect x="114.8" y="132.7" width="21.4" height="1.3" fill="#e4f0f4" />
<rect x="114.8" y="133.7" width="21.4" height="1.3" fill="#e0edf2" />
<rect x="114.8" y="134.7" width="21.4" height="1.3" fill="#fbe0c0" />
<rect x="114.8" y="135.7" width="21.4" height="1.3" fill="#f9d4a8" />
<rect x="114.8" y="136.7" width="21.4" height="1.3" fill="#fadcb8" />
<rect x="114.8" y="137.7" width="21.4" height="1.3" fill="#f8e4c8" />
<rect x="114.8" y="138.7" width="21.4" height="1.3" fill="#ebbba3" />
<rect x="114.8" y="139.7" width="21.4" height="1.3" fill="#f8e4c8" />
<rect x="114.8" y="140.7" width="21.4" height="1.3" fill="#f9e9d3" />
<rect x="114.8" y="141.7" width="21.4" height="1.3" fill="#eef4ee" />
<rect x="114.8" y="142.7" width="21.4" height="1.3" fill="#c9d6df" />
<rect x="114.8" y="143.7" width="21.4" height="2.3" fill="#eef4ee" />
<rect x="114.8" y="145.7" width="21.4" height="5.3" fill="#f6e4c8" />
<rect x="114.8" y="150.7" width="21.4" height="1.3" fill="#f8ebd6" />
<rect x="114.8" y="151.7" width="21.4" height="1.3" fill="#f8ead4" />
<rect x="114.8" y="152.7" width="21.4" height="1.3" fill="#f8e9d2" />
<rect x="114.8" y="153.7" width="21.4" height="3.3" fill="#f6e4c8" />
<rect x="114.8" y="156.7" width="21.4" height="1.3" fill="#f8e9d2" />
<rect x="114.8" y="157.7" width="21.4" height="1.3" fill="#f8ead3" />
<rect x="114.8" y="158.7" width="21.4" height="1.3" fill="#f6e4c8" />
<rect x="114.8" y="159.7" width="21.4" height="1.3" fill="#f8ead4" />
<rect x="114.8" y="160.7" width="21.4" height="3.3" fill="#f6e4c8" />
<rect x="114.8" y="163.7" width="21.4" height="1.3" fill="#f7e7ce" />
<rect x="114.8" y="164.7" width="21.4" height="1.3" fill="#f3f6f1" />
<rect x="114.8" y="165.7" width="21.4" height="1.3" fill="#e9d7d0" />
<rect x="114.8" y="166.7" width="21.4" height="1.3" fill="#e6ccc4" />
<rect x="114.8" y="167.7" width="21.4" height="1.3" fill="#f4f7f3" />
<rect x="114.8" y="168.7" width="21.4" height="3.3" fill="#f6e4c8" />
<rect x="114.8" y="171.7" width="21.4" height="1.3" fill="#f7e7ce" />
<rect x="114.8" y="172.7" width="21.4" height="1.3" fill="#f1d5ba" />
<rect x="114.8" y="173.7" width="21.4" height="1.3" fill="#ecc4ab" />
<rect x="114.8" y="174.7" width="21.4" height="1.3" fill="#f6e4c8" />
<rect x="114.8" y="175.7" width="21.4" height="1.3" fill="#ecc5ac" />
<rect x="114.8" y="176.7" width="21.4" height="1.3" fill="#f8ebd6" />
<rect x="114.8" y="177.7" width="21.4" height="1.3" fill="#f7e8cf" />
<rect x="114.8" y="178.7" width="21.4" height="1.3" fill="#f8ead5" />
<rect x="114.8" y="179.7" width="21.4" height="2.3" fill="#eef2ec" />
<rect x="114.8" y="181.7" width="21.4" height="1.3" fill="#f1f4ef" />
<rect x="114.8" y="182.7" width="21.4" height="1.3" fill="#e9dcd5" />
<rect x="114.8" y="183.7" width="21.4" height="1.3" fill="#eef2ec" />
<rect x="114.8" y="184.7" width="21.4" height="1.3" fill="#f1f4f0" />
<rect x="114.8" y="185.7" width="21.4" height="2.3" fill="#eef2ec" />
<rect x="114.8" y="187.7" width="21.4" height="1.3" fill="#f8e9d2" />
<rect x="114.8" y="188.7" width="21.4" height="1.3" fill="#f6e4c8" />
<rect x="114.8" y="189.7" width="21.4" height="1.3" fill="#f7e8cf" />
<rect x="114.8" y="190.7" width="21.4" height="1.3" fill="#d8e6ea" />
<rect x="114.8" y="191.7" width="21.4" height="1.3" fill="#deeaed" />
<rect x="114.8" y="192.7" width="21.4" height="1.3" fill="#bed1df" />
<rect x="114.8" y="193.7" width="21.4" height="1.3" fill="#dbe8ec" />
<rect x="114.8" y="194.7" width="21.4" height="3.3" fill="#f09060" />
<rect x="114.8" y="197.7" width="21.4" height="1.1" fill="#f29f76" />
<rect x="135.9" y="28.7" width="21.4" height="1.3" fill="#6a93c6" />
<rect x="135.9" y="29.7" width="21.4" height="1.3" fill="#85a7d0" />
<rect x="135.9" y="30.7" width="21.4" height="1.3" fill="#6a93c6" />
<rect x="135.9" y="31.7" width="21.4" height="1.3" fill="#618bc1" />
<rect x="135.9" y="32.7" width="21.4" height="2.3" fill="#6a93c6" />
<rect x="135.9" y="34.7" width="21.4" height="1.3" fill="#83a5d0" />
<rect x="135.9" y="35.7" width="21.4" height="1.3" fill="#4f7db8" />
<rect x="135.9" y="36.7" width="21.4" height="1.3" fill="#6a91c3" />
<rect x="135.9" y="37.7" width="21.4" height="5.3" fill="#4f7db8" />
<rect x="135.9" y="42.7" width="21.4" height="1.3" fill="#4775b3" />
<rect x="135.9" y="43.7" width="21.4" height="1.3" fill="#4876b3" />
<rect x="135.9" y="44.7" width="21.4" height="1.3" fill="#9bb8da" />
<rect x="135.9" y="45.7" width="21.4" height="1.3" fill="#a1bcdc" />
<rect x="135.9" y="46.7" width="21.4" height="1.3" fill="#98b5d8" />
<rect x="135.9" y="47.7" width="21.4" height="1.3" fill="#9fbadb" />
<rect x="135.9" y="48.7" width="21.4" height="1.3" fill="#7a9ecb" />
<rect x="135.9" y="49.7" width="21.4" height="1.3" fill="#89abd3" />
<rect x="135.9" y="50.7" width="21.4" height="2.3" fill="#5a86bf" />
<rect x="135.9" y="52.7" width="21.4" height="1.3" fill="#759aca" />
<rect x="135.9" y="53.7" width="21.4" height="1.3" fill="#80a2ce" />
<rect x="135.9" y="54.7" width="21.4" height="1.3" fill="#5480bb" />
<rect x="135.9" y="55.7" width="21.4" height="1.3" fill="#6e95c7" />
<rect x="135.9" y="56.7" width="21.4" height="1.3" fill="#5380ba" />
<rect x="135.9" y="57.7" width="21.4" height="2.3" fill="#5a86bf" />
<rect x="135.9" y="59.7" width="21.4" height="1.3" fill="#5380bb" />
<rect x="135.9" y="60.7" width="21.4" height="1.3" fill="#89a9d1" />
<rect x="135.9" y="61.7" width="21.4" height="1.3" fill="#507db8" />
<rect x="135.9" y="62.7" width="21.4" height="2.3" fill="#5a86bf" />
<rect x="135.9" y="64.7" width="21.4" height="1.3" fill="#7398c9" />
<rect x="135.9" y="65.7" width="21.4" height="1.3" fill="#5682bc" />
<rect x="135.9" y="66.7" width="21.4" height="1.3" fill="#5a86bf" />
<rect x="135.9" y="67.7" width="21.4" height="1.3" fill="#507db8" />
<rect x="135.9" y="68.7" width="21.4" height="1.3" fill="#5a86bf" />
<rect x="135.9" y="69.7" width="21.4" height="1.3" fill="#769aca" />
<rect x="135.9" y="70.7" width="21.4" height="1.3" fill="#6991c5" />
<rect x="135.9" y="71.7" width="21.4" height="1.3" fill="#7498c7" />
<rect x="135.9" y="72.7" width="21.4" height="1.3" fill="#6990c3" />
<rect x="135.9" y="73.7" width="21.4" height="1.3" fill="#4977b4" />
<rect x="135.9" y="74.7" width="21.4" height="1.3" fill="#99b6d8" />
<rect x="135.9" y="75.7" width="21.4" height="1.3" fill="#6a92c3" />
<rect x="135.9" y="76.7" width="21.4" height="1.3" fill="#7aa0cc" />
<rect x="135.9" y="77.7" width="21.4" height="1.3" fill="#8bacd2" />
<rect x="135.9" y="78.7" width="21.4" height="1.3" fill="#6a92c3" />
<rect x="135.9" y="79.7" width="21.4" height="1.3" fill="#6f96c6" />
<rect x="135.9" y="80.7" width="21.4" height="1.3" fill="#7aa0cc" />
<rect x="135.9" y="81.7" width="21.4" height="1.3" fill="#8daed3" />
<rect x="135.9" y="82.7" width="21.4" height="1.3" fill="#4e7cba" />
<rect x="135.9" y="83.7" width="21.4" height="1.3" fill="#628cc3" />
<rect x="135.9" y="84.7" width="21.4" height="4.3" fill="#5381bd" />
<rect x="135.9" y="88.7" width="21.4" height="1.3" fill="#4b79b7" />
<rect x="135.9" y="89.7" width="21.4" height="1.3" fill="#5381bd" />
<rect x="135.9" y="90.7" width="21.4" height="1.3" fill="#7b9ecc" />
<rect x="135.9" y="91.7" width="21.4" height="3.3" fill="#5381bd" />
<rect x="135.9" y="94.7" width="21.4" height="1.3" fill="#7ea1cd" />
<rect x="135.9" y="95.7" width="21.4" height="1.3" fill="#779bca" />
<rect x="135.9" y="96.7" width="21.4" height="1.3" fill="#5682bc" />
<rect x="135.9" y="97.7" width="21.4" height="1.3" fill="#5480bb" />
<rect x="135.9" y="98.7" width="21.4" height="1.3" fill="#5a86bf" />
<rect x="135.9" y="99.7" width="21.4" height="1.3" fill="#5581bc" />
<rect x="135.9" y="100.7" width="21.4" height="1.3" fill="#537fba" />
<rect x="135.9" y="101.7" width="21.4" height="1.3" fill="#7fa1cd" />
<rect x="135.9" y="102.7" width="21.4" height="1.3" fill="#6b92c5" />
<rect x="135.9" y="103.7" width="21.4" height="1.3" fill="#537fba" />
<rect x="135.9" y="104.7" width="21.4" height="1.3" fill="#7c9fcc" />
<rect x="135.9" y="105.7" width="21.4" height="3.3" fill="#5a86bf" />
<rect x="135.9" y="108.7" width="21.4" height="1.3" fill="#759aca" />
<rect x="135.9" y="109.7" width="21.4" height="2.3" fill="#5682bc" />
<rect x="135.9" y="111.7" width="21.4" height="2.3" fill="#5a86bf" />
<rect x="135.9" y="113.7" width="21.4" height="1.3" fill="#e2ecf0" />
<rect x="135.9" y="114.7" width="21.4" height="1.3" fill="#ccdae6" />
<rect x="135.9" y="115.7" width="21.4" height="1.3" fill="#fbdebc" />
<rect x="135.9" y="116.7" width="21.4" height="1.3" fill="#fad8b0" />
<rect x="135.9" y="117.7" width="21.4" height="1.3" fill="#e0edf2" />
<rect x="135.9" y="118.7" width="21.4" height="1.3" fill="#bdd1e2" />
<rect x="135.9" y="119.7" width="21.4" height="1.3" fill="#fad2a9" />
<rect x="135.9" y="120.7" width="21.4" height="2.3" fill="#f9c896" />
<rect x="135.9" y="122.7" width="21.4" height="1.3" fill="#efaf83" />
<rect x="135.9" y="123.7" width="21.4" height="4.3" fill="#f9c896" />
<rect x="135.9" y="127.7" width="21.4" height="1.3" fill="#de5538" />
<rect x="135.9" y="128.7" width="21.4" height="1.3" fill="#db5337" />
<rect x="135.9" y="129.7" width="21.4" height="1.3" fill="#e35a3a" />
<rect x="135.9" y="130.7" width="21.4" height="1.3" fill="#e57c54" />
<rect x="135.9" y="131.7" width="21.4" height="1.3" fill="#f29c71" />
<rect x="135.9" y="132.7" width="21.4" height="1.3" fill="#f09060" />
<rect x="135.9" y="133.7" width="21.4" height="1.3" fill="#e98459" />
<rect x="135.9" y="134.7" width="21.4" height="1.3" fill="#f9c896" />
<rect x="135.9" y="135.7" width="21.4" height="1.3" fill="#facfa3" />
<rect x="135.9" y="136.7" width="21.4" height="1.3" fill="#f2a17c" />
<rect x="135.9" y="137.7" width="21.4" height="1.3" fill="#ef8f63" />
<rect x="135.9" y="138.7" width="21.4" height="1.3" fill="#ee8555" />
<rect x="135.9" y="139.7" width="21.4" height="1.3" fill="#e87c50" />
<rect x="135.9" y="140.7" width="21.4" height="2.3" fill="#ee8555" />
<rect x="135.9" y="142.7" width="21.4" height="5.3" fill="#f9c896" />
<rect x="135.9" y="147.7" width="21.4" height="1.3" fill="#f1b487" />
<rect x="135.9" y="148.7" width="21.4" height="1.3" fill="#f9c896" />
<rect x="135.9" y="149.7" width="21.4" height="1.3" fill="#eeab80" />
<rect x="135.9" y="150.7" width="21.4" height="4.3" fill="#f9c896" />
<rect x="135.9" y="154.7" width="21.4" height="1.3" fill="#fad4ad" />
<rect x="135.9" y="155.7" width="21.4" height="2.3" fill="#f9c896" />
<rect x="135.9" y="157.7" width="21.4" height="1.3" fill="#f2b688" />
<rect x="135.9" y="158.7" width="21.4" height="1.3" fill="#f9c896" />
<rect x="135.9" y="159.7" width="21.4" height="1.3" fill="#eef4ee" />
<rect x="135.9" y="160.7" width="21.4" height="1.3" fill="#f0f5f0" />
<rect x="135.9" y="161.7" width="21.4" height="1.3" fill="#f2c8a5" />
<rect x="135.9" y="162.7" width="21.4" height="1.3" fill="#f8dab4" />
<rect x="135.9" y="163.7" width="21.4" height="1.3" fill="#f9ddbb" />
<rect x="135.9" y="164.7" width="21.4" height="1.3" fill="#f9debc" />
<rect x="135.9" y="165.7" width="21.4" height="1.3" fill="#f8dab4" />
<rect x="135.9" y="166.7" width="21.4" height="1.3" fill="#f9e1c1" />
<rect x="135.9" y="167.7" width="21.4" height="1.3" fill="#f8dab4" />
<rect x="135.9" y="168.7" width="21.4" height="1.3" fill="#f8bc84" />
<rect x="135.9" y="169.7" width="21.4" height="1.3" fill="#facea5" />
<rect x="135.9" y="170.7" width="21.4" height="1.3" fill="#f8bc84" />
<rect x="135.9" y="171.7" width="21.4" height="1.3" fill="#f9c595" />
<rect x="135.9" y="172.7" width="21.4" height="2.3" fill="#f8bc84" />
<rect x="135.9" y="174.7" width="21.4" height="2.3" fill="#eda272" />
<rect x="135.9" y="176.7" width="21.4" height="1.3" fill="#f0aa78" />
<rect x="135.9" y="177.7" width="21.4" height="4.3" fill="#f8bc84" />
<rect x="135.9" y="181.7" width="21.4" height="1.3" fill="#eda272" />
<rect x="135.9" y="182.7" width="21.4" height="3.3" fill="#f9cc9a" />
<rect x="135.9" y="185.7" width="21.4" height="1.3" fill="#fad4aa" />
<rect x="135.9" y="186.7" width="21.4" height="1.3" fill="#f9cc9a" />
<rect x="135.9" y="187.7" width="21.4" height="1.3" fill="#fad2a6" />
<rect x="135.9" y="188.7" width="21.4" height="1.3" fill="#fad7af" />
<rect x="135.9" y="189.7" width="21.4" height="1.3" fill="#f9cc9a" />
<rect x="135.9" y="190.7" width="21.4" height="1.3" fill="#e35a3a" />
<rect x="135.9" y="191.7" width="21.4" height="1.3" fill="#e98068" />
<rect x="135.9" y="192.7" width="21.4" height="1.3" fill="#dc5437" />
<rect x="135.9" y="193.7" width="21.4" height="1.3" fill="#db5236" />
<rect x="135.9" y="194.7" width="21.4" height="1.3" fill="#f3e4cc" />
<rect x="135.9" y="195.7" width="21.4" height="1.3" fill="#f6ead8" />
<rect x="135.9" y="196.7" width="21.4" height="1.3" fill="#f4e6d1" />
<rect x="135.9" y="197.7" width="21.4" height="1.1" fill="#e9c1ab" />
<path d="M40.9 28.7V20.4H72.7V23M62.5 28.7V23H83.5V28.7M56.6 20.4V7H120.4V19.9M104.2 28.7V19.9H136.2V22.5M125.5 28.7V22.5H146.7V28.7" fill="none" stroke="#555" stroke-width="0.6"/>
<path d="M26.3 29.1H30M26.3 29.8H30M26.3 29.1V29.8M25.5 29.4H26.3M25.5 30.8H30M25.5 29.4V30.8M24.7 30.1H25.5M24.7 32H30M24.7 30.1V32M24.2 31.1H24.7M25.9 33.1H30M26.4 33.8H30M26.4 34.8H30M26.4 33.8V34.8M25.9 34.3H26.4M25.9 33.1V34.3M25.3 33.7H25.9M27 36H30M27 37.1H30M27 36V37.1M26.5 36.5H27M27.8 38.2H30M28.8 39H30M28.8 39.8H30M28.8 39V39.8M27.8 39.4H28.8M27.8 38.2V39.4M26.5 38.8H27.8M26.5 36.5V38.8M25.3 37.7H26.5M25.3 33.7V37.7M24.2 35.7H25.3M24.2 31.1V35.7M23.7 33.4H24.2M27.5 41H30M27.5 42H30M27.5 41V42M26.6 41.5H27.5M26.9 42.8H30M26.9 43.8H30M26.9 42.8V43.8M26.6 43.3H26.9M26.6 41.5V43.3M25.6 42.4H26.6M27.7 45.2H30M28.7 46.5H30M28.7 47.7H30M28.7 46.5V47.7M27.7 47.1H28.7M27.7 45.2V47.1M26.4 46.1H27.7M27 48.8H30M27 49.7H30M27 48.8V49.7M26.4 49.2H27M26.4 46.1V49.2M25.6 47.7H26.4M25.6 42.4V47.7M24.6 45H25.6M27.9 50.3H30M27.9 51.2H30M27.9 50.3V51.2M26.9 50.7H27.9M28.8 52.4H30M28.8 53.4H30M28.8 52.4V53.4M28.1 52.9H28.8M28.6 54H30M28.6 54.7H30M28.6 54V54.7M28.1 54.4H28.6M28.1 52.9V54.4M26.9 53.7H28.1M26.9 50.7V53.7M25.8 52.2H26.9M27.8 55.7H30M28.8 56.9H30M28.8 58H30M28.8 56.9V58M27.8 57.4H28.8M27.8 55.7V57.4M26.6 56.6H27.8M27.2 59.2H30M27.8 60.1H30M27.8 61.1H30M27.8 60.1V61.1M27.2 60.6H27.8M27.2 59.2V60.6M26.6 59.9H27.2M26.6 56.6V59.9M25.8 58.2H26.6M25.8 52.2V58.2M24.6 55.2H25.8M24.6 45V55.2M23.7 50.1H24.6M23.7 33.4V50.1M22.7 41.7H23.7M27.8 62.1H30M27.8 62.9H30M27.8 62.1V62.9M26.7 62.5H27.8M26.7 64H30M26.7 62.5V64M25.5 63.2H26.7M26.4 65H30M26.4 65.7H30M26.4 65V65.7M25.8 65.4H26.4M26.5 66.4H30M26.5 67.3H30M26.5 66.4V67.3M25.8 66.9H26.5M25.8 65.4V66.9M25.5 66.1H25.8M25.5 63.2V66.1M25 64.7H25.5M25.7 68.6H30M26.4 69.7H30M26.4 70.7H30M26.4 69.7V70.7M25.7 70.2H26.4M25.7 68.6V70.2M25 69.4H25.7M25 64.7V69.4M24.5 67H25M26.3 71.6H30M26.3 72.6H30M26.3 71.6V72.6M25.5 72.1H26.3M27.6 73.7H30M27.6 74.6H30M27.6 73.7V74.6M26.6 74.2H27.6M27.4 75.3H30M27.4 76.1H30M27.4 75.3V76.1M27 75.7H27.4M27 77H30M27 75.7V77M26.6 76.4H27M26.6 74.2V76.4M25.5 75.3H26.6M25.5 72.1V75.3M25.1 73.7H25.5M26.9 77.9H30M26.9 78.6H30M26.9 77.9V78.6M26.6 78.2H26.9M26.6 79.3H30M26.6 78.2V79.3M26 78.8H26.6M26.8 80.4H30M26.8 81.3H30M26.8 80.4V81.3M26.5 80.9H26.8M26.5 82.2H30M26.5 80.9V82.2M26 81.5H26.5M26 78.8V81.5M25.1 80.1H26M25.1 73.7V80.1M24.5 76.9H25.1M24.5 67V76.9M23.4 72H24.5M28.2 83.1H30M28.2 83.8H30M28.2 83.1V83.8M27.8 83.4H28.2M27.8 84.7H30M27.8 83.4V84.7M27 84.1H27.8M27.9 85.8H30M28.3 86.7H30M28.3 87.7H30M28.3 86.7V87.7M27.9 87.2H28.3M27.9 85.8V87.2M27 86.5H27.9M27 84.1V86.5M26.6 85.3H27M28.8 88.7H30M28.8 90H30M28.8 88.7V90M28.4 89.4H28.8M28.8 91.1H30M28.8 92H30M28.8 91.1V92M28.4 91.5H28.8M28.4 89.4V91.5M27.6 90.4H28.4M28.8 93.2H30M28.8 94.3H30M28.8 93.2V94.3M28 93.8H28.8M28.4 95.5H30M28.4 96.8H30M28.4 95.5V96.8M28 96.1H28.4M28 93.8V96.1M27.6 94.9H28M27.6 90.4V94.9M26.6 92.7H27.6M26.6 85.3V92.7M25.3 89H26.6M27.3 97.8H30M28.1 98.9H30M28.1 99.8H30M28.1 98.9V99.8M27.3 99.3H28.1M27.3 97.8V99.3M26.1 98.6H27.3M27.4 100.6H30M27.4 101.6H30M27.4 100.6V101.6M26.6 101.1H27.4M27.5 102.7H30M27.5 103.4H30M27.5 102.7V103.4M26.6 103H27.5M26.6 101.1V103M26.1 102.1H26.6M26.1 98.6V102.1M25.3 100.3H26.1M25.3 89V100.3M24.4 94.6H25.3M27.7 104.3H30M27.7 105.3H30M27.7 104.3V105.3M26.4 104.8H27.7M26.4 106.1H30M26.4 104.8V106.1M25.4 105.5H26.4M27.2 107.3H30M27.2 108.6H30M27.2 107.3V108.6M26 107.9H27.2M28 109.8H30M28 110.7H30M28 109.8V110.7M27.2 110.3H28M28.5 111.7H30M28.5 112.8H30M28.5 111.7V112.8M27.2 112.2H28.5M27.2 110.3V112.2M26 111.2H27.2M26 107.9V111.2M25.4 109.6H26M25.4 105.5V109.6M24.4 107.5H25.4M24.4 94.6V107.5M23.4 101.1H24.4M23.4 72V101.1M22.7 86.5H23.4M22.7 41.7V86.5M21.4 64.1H22.7M26.3 113.8H30M26.3 114.7H30M26.3 113.8V114.7M25.4 114.3H26.3M25.4 115.4H30M25.4 114.3V115.4M24.4 114.8H25.4M25.1 116.2H30M25.1 116.9H30M25.1 116.2V116.9M24.4 116.5H25.1M24.4 114.8V116.5M23.4 115.7H24.4M25.8 117.6H30M25.8 118.4H30M25.8 117.6V118.4M24.8 118H25.8M24.8 119.5H30M24.8 118V119.5M24.2 118.8H24.8M24.9 120.6H30M26.1 121.5H30M26.1 122.3H30M26.1 121.5V122.3M24.9 121.9H26.1M24.9 120.6V121.9M24.2 121.2H24.9M24.2 118.8V121.2M23.4 120H24.2M23.4 115.7V120M22.5 117.8H23.4M23.9 123.5H30M23.9 124.6H30M23.9 123.5V124.6M23.1 124.1H23.9M24.2 125.7H30M24.9 126.8H30M24.9 127.7H30M24.9 126.8V127.7M24.2 127.3H24.9M24.2 125.7V127.3M23.1 126.5H24.2M23.1 124.1V126.5M22.5 125.3H23.1M22.5 117.8V125.3M21.9 121.6H22.5M27.1 128.7H30M27.1 129.6H30M27.1 128.7V129.6M26.1 129.1H27.1M26.1 130.7H30M26.1 129.1V130.7M25.1 129.9H26.1M26.3 131.8H30M26.3 132.6H30M26.3 131.8V132.6M25.1 132.2H26.3M25.1 129.9V132.2M24.4 131H25.1M26.4 133.3H30M26.4 134.3H30M26.4 133.3V134.3M25.5 133.8H26.4M25.5 135.3H30M25.5 133.8V135.3M24.4 134.6H25.5M24.4 131V134.6M23.5 132.8H24.4M26.3 136.3H30M26.3 137H30M26.3 136.3V137M25 136.6H26.3M26 137.5H30M26 138.2H30M26 137.5V138.2M25 137.8H26M25 136.6V137.8M23.9 137.2H25M24.8 139.4H30M24.8 140.5H30M24.8 139.4V140.5M23.9 140H24.8M23.9 137.2V140M23.5 138.6H23.9M23.5 132.8V138.6M22.9 135.7H23.5M25.1 141.3H30M25.1 142.2H30M25.1 141.3V142.2M24.4 141.8H25.1M24.4 142.9H30M24.4 141.8V142.9M23.3 142.3H24.4M25.3 144H30M25.3 145H30M25.3 144V145M24.4 144.5H25.3M24.4 146H30M24.4 144.5V146M23.3 145.3H24.4M23.3 142.3V145.3M22.9 143.8H23.3M22.9 135.7V143.8M21.9 139.8H22.9M21.9 121.6V139.8M20.6 130.7H21.9M22.9 147.2H30M22.9 148.1H30M22.9 147.2V148.1M22.2 147.6H22.9M22.8 148.8H30M22.8 149.7H30M22.8 148.8V149.7M22.2 149.2H22.8M22.2 147.6V149.2M21.8 148.4H22.2M22.9 150.9H30M22.9 151.9H30M22.9 150.9V151.9M22.5 151.4H22.9M23.1 152.8H30M24.2 153.5H30M24.2 154.3H30M24.2 153.5V154.3M23.1 153.9H24.2M23.1 152.8V153.9M22.5 153.3H23.1M22.5 151.4V153.3M21.8 152.4H22.5M21.8 148.4V152.4M21.2 150.4H21.8M23.4 155.3H30M23.4 156.3H30M23.4 155.3V156.3M22.6 155.8H23.4M23.8 157.1H30M23.8 157.9H30M23.8 157.1V157.9M22.6 157.5H23.8M22.6 155.8V157.5M21.5 156.7H22.6M25.4 158.7H30M25.4 159.5H30M25.4 158.7V159.5M24.8 159.1H25.4M24.8 160.3H30M24.8 159.1V160.3M23.6 159.7H24.8M24 161.1H30M24 162.1H30M24 161.1V162.1M23.6 161.6H24M23.6 159.7V161.6M22.3 160.7H23.6M23.6 163.2H30M23.6 164.1H30M23.6 163.2V164.1M22.7 163.7H23.6M22.7 165H30M22.7 163.7V165M22.3 164.3H22.7M22.3 160.7V164.3M21.5 162.5H22.3M21.5 156.7V162.5M21.2 159.6H21.5M21.2 150.4V159.6M20.6 155H21.2M20.6 130.7V155M20.1 142.8H20.6M26.7 165.9H30M26.7 166.6H30M26.7 165.9V166.6M25.7 166.2H26.7M25.7 167.4H30M25.7 166.2V167.4M24.9 166.8H25.7M25.3 168.4H30M25.3 169.6H30M25.3 168.4V169.6M24.9 169H25.3M24.9 166.8V169M24.2 167.9H24.9M26.4 170.7H30M26.4 171.4H30M26.4 170.7V171.4M25.8 171H26.4M25.8 172H30M25.8 171V172M25 171.5H25.8M25 172.9H30M25 171.5V172.9M24.2 172.2H25M24.2 167.9V172.2M22.9 170.1H24.2M24.9 174H30M24.9 174.8H30M24.9 174V174.8M23.7 174.4H24.9M24.5 175.5H30M24.5 176.2H30M24.5 175.5V176.2M24.2 175.8H24.5M24.2 177.1H30M24.2 175.8V177.1M23.7 176.5H24.2M23.7 174.4V176.5M22.9 175.4H23.7M22.9 170.1V175.4M21.7 172.8H22.9M23.9 178.3H30M24.4 179.2H30M24.4 180H30M24.4 179.2V180M23.9 179.6H24.4M23.9 178.3V179.6M22.9 178.9H23.9M24.2 180.6H30M24.2 181.6H30M24.2 180.6V181.6M23.3 181.1H24.2M23.3 182.8H30M23.3 181.1V182.8M22.9 182H23.3M22.9 178.9V182M21.7 180.5H22.9M21.7 172.8V180.5M20.8 176.6H21.7M23.8 184.1H30M23.8 185H30M23.8 184.1V185M23.4 184.5H23.8M23.4 185.6H30M23.4 184.5V185.6M23 185.1H23.4M24.6 186.5H30M24.6 187.3H30M24.6 186.5V187.3M24 186.9H24.6M24 188.1H30M24 186.9V188.1M23 187.5H24M23 185.1V187.5M22.1 186.3H23M24.2 189.4H30M24.8 190.5H30M24.8 191.5H30M24.8 190.5V191.5M24.2 191H24.8M24.2 189.4V191M23.5 190.2H24.2M24.5 192.6H30M24.5 193.6H30M24.5 192.6V193.6M24.2 193.1H24.5M24.2 194.7H30M24.2 193.1V194.7M23.5 193.9H24.2M23.5 190.2V193.9M23 192.1H23.5M24 195.9H30M24.6 197.1H30M24.6 198.2H30M24.6 197.1V198.2M24 197.7H24.6M24 195.9V197.7M23 196.8H24M23 192.1V196.8M22.1 194.4H23M22.1 186.3V194.4M20.8 190.4H22.1M20.8 176.6V190.4M20.1 183.5H20.8M20.1 142.8V183.5M19.5 163.2H20.1M14.6 64.1V163.2M14.6 64.1H21.4M14.6 163.2H19.5" fill="none" stroke="#555" stroke-width="0.4"/>
<rect x="28.6" y="28.7" width="1.6" height="169.8" fill="#222" />
<defs><linearGradient id="gA" x1="0" y1="0" x2="0" y2="1"><stop offset="0" stop-color="#d73027"/><stop offset="0.25" stop-color="#f8a560"/><stop offset="0.5" stop-color="#f4f7f2"/><stop offset="0.72" stop-color="#8fb3d8"/><stop offset="1" stop-color="#4a78b5"/></linearGradient></defs>
<rect x="163.5" y="37.2" width="4.1" height="57.4" fill="url(#gA)" />
<text class="S" x="169.3" y="52.3" font-size="3.5" fill="#333" >1</text>
<text class="S" x="169.3" y="67" font-size="3.5" fill="#333" >0</text>
<text class="S" x="169.3" y="81.3" font-size="3.5" fill="#333" >-1</text>
<text class="S" x="43.3" y="209.5" font-size="6.2" font-weight="bold" text-anchor="end" transform="rotate(-28 43.3 209.5)">STOM<tspan font-size="3.4" dy="-2">-/-</tspan><tspan dy="2">2</tspan></text>
<text class="S" x="64.4" y="209.5" font-size="6.2" font-weight="bold" text-anchor="end" transform="rotate(-28 64.4 209.5)">STOM<tspan font-size="3.4" dy="-2">-/-</tspan><tspan dy="2">1</tspan></text>
<text class="S" x="85.6" y="209.5" font-size="6.2" font-weight="bold" text-anchor="end" transform="rotate(-28 85.6 209.5)">STOM<tspan font-size="3.4" dy="-2">-/-</tspan><tspan dy="2">3</tspan></text>
<text class="S" x="106.7" y="209.5" font-size="6.2" font-weight="bold" text-anchor="end" transform="rotate(-28 106.7 209.5)">Ctrl2</text>
<text class="S" x="127.9" y="209.5" font-size="6.2" font-weight="bold" text-anchor="end" transform="rotate(-28 127.9 209.5)">Ctrl1</text>
<text class="S" x="149" y="209.5" font-size="6.2" font-weight="bold" text-anchor="end" transform="rotate(-28 149 209.5)">Ctrl3</text>
<text class="S" x="1.8" y="12.8" font-size="11.5" font-weight="bold" >A</text>
<text class="S" x="189" y="12.8" font-size="11.5" font-weight="bold" >B</text>
<text class="S" x="274.5" y="7" font-size="7" fill="#222" font-weight="bold" text-anchor="middle" >STOM<tspan font-size="4" dy="-2.5">-/-</tspan><tspan dy="2.5"> -VS-Ctrl (Total)</tspan></text>
<text class="S" x="275.3" y="16.6" font-size="7" fill="#222" font-weight="bold" text-anchor="middle" >KEGG Enrichment top 20</text>
<rect x="265.4" y="22.2" width="64.2" height="16.5" fill="#fff" stroke="#333" stroke-width="0.6"/>
<line x1="279.5" y1="22.2" x2="279.5" y2="38.7" stroke="#ececec" stroke-width="0.4" />
<line x1="293.2" y1="22.2" x2="293.2" y2="38.7" stroke="#ececec" stroke-width="0.4" />
<line x1="306.9" y1="22.2" x2="306.9" y2="38.7" stroke="#ececec" stroke-width="0.4" />
<line x1="320.6" y1="22.2" x2="320.6" y2="38.7" stroke="#ececec" stroke-width="0.4" />
<line x1="272.7" y1="22.2" x2="272.7" y2="38.7" stroke="#f4f4f4" stroke-width="0.3" />
<line x1="286.4" y1="22.2" x2="286.4" y2="38.7" stroke="#f4f4f4" stroke-width="0.3" />
<line x1="300.1" y1="22.2" x2="300.1" y2="38.7" stroke="#f4f4f4" stroke-width="0.3" />
<line x1="313.8" y1="22.2" x2="313.8" y2="38.7" stroke="#f4f4f4" stroke-width="0.3" />
<line x1="265.4" y1="26.5" x2="329.6" y2="26.5" stroke="#ececec" stroke-width="0.4" />
<line x1="264.4" y1="26.5" x2="265.4" y2="26.5" stroke="#333" stroke-width="0.4" />
<line x1="265.4" y1="34" x2="329.6" y2="34" stroke="#ececec" stroke-width="0.4" />
<line x1="264.4" y1="34" x2="265.4" y2="34" stroke="#333" stroke-width="0.4" />
<rect x="330" y="22.2" width="4.4" height="16.5" fill="#d9d9d9" />
<text class="S" x="333.2" y="30.5" font-size="2.6" fill="#444" text-anchor="middle" transform="rotate(90 333.2 30.5)">CP</text>
<text class="S" x="264" y="27.8" font-size="3.9" fill="#333" text-anchor="end" >Cell cycle</text>
<text class="S" x="264" y="35.3" font-size="3.9" fill="#333" text-anchor="end" >Oocyte meiosis</text>
<rect x="265.4" y="42.6" width="64.2" height="31.6" fill="#fff" stroke="#333" stroke-width="0.6"/>
<line x1="279.5" y1="42.6" x2="279.5" y2="74.2" stroke="#ececec" stroke-width="0.4" />
<line x1="293.2" y1="42.6" x2="293.2" y2="74.2" stroke="#ececec" stroke-width="0.4" />
<line x1="306.9" y1="42.6" x2="306.9" y2="74.2" stroke="#ececec" stroke-width="0.4" />
<line x1="320.6" y1="42.6" x2="320.6" y2="74.2" stroke="#ececec" stroke-width="0.4" />
<line x1="272.7" y1="42.6" x2="272.7" y2="74.2" stroke="#f4f4f4" stroke-width="0.3" />
<line x1="286.4" y1="42.6" x2="286.4" y2="74.2" stroke="#f4f4f4" stroke-width="0.3" />
<line x1="300.1" y1="42.6" x2="300.1" y2="74.2" stroke="#f4f4f4" stroke-width="0.3" />
<line x1="313.8" y1="42.6" x2="313.8" y2="74.2" stroke="#f4f4f4" stroke-width="0.3" />
<line x1="265.4" y1="47.2" x2="329.6" y2="47.2" stroke="#ececec" stroke-width="0.4" />
<line x1="264.4" y1="47.2" x2="265.4" y2="47.2" stroke="#333" stroke-width="0.4" />
<line x1="265.4" y1="54.8" x2="329.6" y2="54.8" stroke="#ececec" stroke-width="0.4" />
<line x1="264.4" y1="54.8" x2="265.4" y2="54.8" stroke="#333" stroke-width="0.4" />
<line x1="265.4" y1="62.2" x2="329.6" y2="62.2" stroke="#ececec" stroke-width="0.4" />
<line x1="264.4" y1="62.2" x2="265.4" y2="62.2" stroke="#333" stroke-width="0.4" />
<line x1="265.4" y1="69.6" x2="329.6" y2="69.6" stroke="#ececec" stroke-width="0.4" />
<line x1="264.4" y1="69.6" x2="265.4" y2="69.6" stroke="#333" stroke-width="0.4" />
<rect x="330" y="42.6" width="4.4" height="31.6" fill="#d9d9d9" />
<text class="S" x="333.2" y="58.4" font-size="2.6" fill="#444" text-anchor="middle" transform="rotate(90 333.2 58.4)">EIP</text>
<text class="S" x="264" y="48.5" font-size="3.9" fill="#333" text-anchor="end" >ECM-receptor interaction</text>
<text class="S" x="264" y="56.1" font-size="3.9" fill="#333" text-anchor="end" >Cell adhesion molecules</text>
<text class="S" x="264" y="61.9" font-size="3.9" fill="#333" text-anchor="end" >Viral protein interaction with cytokine</text>
<text class="S" x="264" y="65.1" font-size="3.9" fill="#333" text-anchor="end" >and cytokine receptor</text>
<text class="S" x="264" y="70.9" font-size="3.9" fill="#333" text-anchor="end" >Phospholipase D signaling pathway</text>
<rect x="265.4" y="78.5" width="64.2" height="8.8" fill="#fff" stroke="#333" stroke-width="0.6"/>
<line x1="279.5" y1="78.5" x2="279.5" y2="87.3" stroke="#ececec" stroke-width="0.4" />
<line x1="293.2" y1="78.5" x2="293.2" y2="87.3" stroke="#ececec" stroke-width="0.4" />
<line x1="306.9" y1="78.5" x2="306.9" y2="87.3" stroke="#ececec" stroke-width="0.4" />
<line x1="320.6" y1="78.5" x2="320.6" y2="87.3" stroke="#ececec" stroke-width="0.4" />
<line x1="272.7" y1="78.5" x2="272.7" y2="87.3" stroke="#f4f4f4" stroke-width="0.3" />
<line x1="286.4" y1="78.5" x2="286.4" y2="87.3" stroke="#f4f4f4" stroke-width="0.3" />
<line x1="300.1" y1="78.5" x2="300.1" y2="87.3" stroke="#f4f4f4" stroke-width="0.3" />
<line x1="313.8" y1="78.5" x2="313.8" y2="87.3" stroke="#f4f4f4" stroke-width="0.3" />
<line x1="265.4" y1="82.8" x2="329.6" y2="82.8" stroke="#ececec" stroke-width="0.4" />
<line x1="264.4" y1="82.8" x2="265.4" y2="82.8" stroke="#333" stroke-width="0.4" />
<rect x="330" y="78.5" width="4.4" height="8.8" fill="#d9d9d9" />
<text class="S" x="333.2" y="82.9" font-size="2.6" fill="#444" text-anchor="middle" transform="rotate(90 333.2 82.9)">GIP</text>
<text class="S" x="264" y="84.1" font-size="3.9" fill="#333" text-anchor="end" >Virion - Herpesvirus</text>
<rect x="265.4" y="91.5" width="64.2" height="54" fill="#fff" stroke="#333" stroke-width="0.6"/>
<line x1="279.5" y1="91.5" x2="279.5" y2="145.5" stroke="#ececec" stroke-width="0.4" />
<line x1="293.2" y1="91.5" x2="293.2" y2="145.5" stroke="#ececec" stroke-width="0.4" />
<line x1="306.9" y1="91.5" x2="306.9" y2="145.5" stroke="#ececec" stroke-width="0.4" />
<line x1="320.6" y1="91.5" x2="320.6" y2="145.5" stroke="#ececec" stroke-width="0.4" />
<line x1="272.7" y1="91.5" x2="272.7" y2="145.5" stroke="#f4f4f4" stroke-width="0.3" />
<line x1="286.4" y1="91.5" x2="286.4" y2="145.5" stroke="#f4f4f4" stroke-width="0.3" />
<line x1="300.1" y1="91.5" x2="300.1" y2="145.5" stroke="#f4f4f4" stroke-width="0.3" />
<line x1="313.8" y1="91.5" x2="313.8" y2="145.5" stroke="#f4f4f4" stroke-width="0.3" />
<line x1="265.4" y1="96.6" x2="329.6" y2="96.6" stroke="#ececec" stroke-width="0.4" />
<line x1="264.4" y1="96.6" x2="265.4" y2="96.6" stroke="#333" stroke-width="0.4" />
<line x1="265.4" y1="103.9" x2="329.6" y2="103.9" stroke="#ececec" stroke-width="0.4" />
<line x1="264.4" y1="103.9" x2="265.4" y2="103.9" stroke="#333" stroke-width="0.4" />
<line x1="265.4" y1="111.2" x2="329.6" y2="111.2" stroke="#ececec" stroke-width="0.4" />
<line x1="264.4" y1="111.2" x2="265.4" y2="111.2" stroke="#333" stroke-width="0.4" />
<line x1="265.4" y1="118.8" x2="329.6" y2="118.8" stroke="#ececec" stroke-width="0.4" />
<line x1="264.4" y1="118.8" x2="265.4" y2="118.8" stroke="#333" stroke-width="0.4" />
<line x1="265.4" y1="126.2" x2="329.6" y2="126.2" stroke="#ececec" stroke-width="0.4" />
<line x1="264.4" y1="126.2" x2="265.4" y2="126.2" stroke="#333" stroke-width="0.4" />
<line x1="265.4" y1="133.5" x2="329.6" y2="133.5" stroke="#ececec" stroke-width="0.4" />
<line x1="264.4" y1="133.5" x2="265.4" y2="133.5" stroke="#333" stroke-width="0.4" />
<line x1="265.4" y1="141.1" x2="329.6" y2="141.1" stroke="#ececec" stroke-width="0.4" />
<line x1="264.4" y1="141.1" x2="265.4" y2="141.1" stroke="#333" stroke-width="0.4" />
<rect x="330" y="91.5" width="4.4" height="54" fill="#d9d9d9" />
<text class="S" x="333.2" y="118.5" font-size="2.6" fill="#444" text-anchor="middle" transform="rotate(90 333.2 118.5)">HD</text>
<text class="S" x="264" y="97.9" font-size="3.9" fill="#333" text-anchor="end" >Asthma</text>
<text class="S" x="264" y="105.2" font-size="3.9" fill="#333" text-anchor="end" >Amoebiasis</text>
<text class="S" x="264" y="112.5" font-size="3.9" fill="#333" text-anchor="end" >Inflammatory bowel disease</text>
<text class="S" x="264" y="120.1" font-size="3.9" fill="#333" text-anchor="end" >Rheumatoid arthritis</text>
<text class="S" x="264" y="127.5" font-size="3.9" fill="#333" text-anchor="end" >Fluid shear stress and atherosclerosis</text>
<text class="S" x="264" y="134.8" font-size="3.9" fill="#333" text-anchor="end" >Tuberculosis</text>
<text class="S" x="264" y="142.4" font-size="3.9" fill="#333" text-anchor="end" >Human T-cell leukemia virus 1 infection</text>
<rect x="265.4" y="149.9" width="64.2" height="45.5" fill="#fff" stroke="#333" stroke-width="0.6"/>
<line x1="279.5" y1="149.9" x2="279.5" y2="195.4" stroke="#ececec" stroke-width="0.4" />
<line x1="293.2" y1="149.9" x2="293.2" y2="195.4" stroke="#ececec" stroke-width="0.4" />
<line x1="306.9" y1="149.9" x2="306.9" y2="195.4" stroke="#ececec" stroke-width="0.4" />
<line x1="320.6" y1="149.9" x2="320.6" y2="195.4" stroke="#ececec" stroke-width="0.4" />
<line x1="272.7" y1="149.9" x2="272.7" y2="195.4" stroke="#f4f4f4" stroke-width="0.3" />
<line x1="286.4" y1="149.9" x2="286.4" y2="195.4" stroke="#f4f4f4" stroke-width="0.3" />
<line x1="300.1" y1="149.9" x2="300.1" y2="195.4" stroke="#f4f4f4" stroke-width="0.3" />
<line x1="313.8" y1="149.9" x2="313.8" y2="195.4" stroke="#f4f4f4" stroke-width="0.3" />
<line x1="265.4" y1="154.2" x2="329.6" y2="154.2" stroke="#ececec" stroke-width="0.4" />
<line x1="264.4" y1="154.2" x2="265.4" y2="154.2" stroke="#333" stroke-width="0.4" />
<line x1="265.4" y1="162.2" x2="329.6" y2="162.2" stroke="#ececec" stroke-width="0.4" />
<line x1="264.4" y1="162.2" x2="265.4" y2="162.2" stroke="#333" stroke-width="0.4" />
<line x1="265.4" y1="169.6" x2="329.6" y2="169.6" stroke="#ececec" stroke-width="0.4" />
<line x1="264.4" y1="169.6" x2="265.4" y2="169.6" stroke="#333" stroke-width="0.4" />
<line x1="265.4" y1="176.9" x2="329.6" y2="176.9" stroke="#ececec" stroke-width="0.4" />
<line x1="264.4" y1="176.9" x2="265.4" y2="176.9" stroke="#333" stroke-width="0.4" />
<line x1="265.4" y1="184.5" x2="329.6" y2="184.5" stroke="#ececec" stroke-width="0.4" />
<line x1="264.4" y1="184.5" x2="265.4" y2="184.5" stroke="#333" stroke-width="0.4" />
<line x1="265.4" y1="191.8" x2="329.6" y2="191.8" stroke="#ececec" stroke-width="0.4" />
<line x1="264.4" y1="191.8" x2="265.4" y2="191.8" stroke="#333" stroke-width="0.4" />
<rect x="330" y="149.9" width="4.4" height="45.5" fill="#d9d9d9" />
<text class="S" x="333.2" y="172.7" font-size="2.6" fill="#444" text-anchor="middle" transform="rotate(90 333.2 172.7)">OS</text>
<text class="S" x="264" y="155.5" font-size="3.9" fill="#333" text-anchor="end" >Hematopoietic cell lineage</text>
<text class="S" x="264" y="161.9" font-size="3.9" fill="#333" text-anchor="end" >Intestinal immune network for IgA</text>
<text class="S" x="264" y="165.1" font-size="3.9" fill="#333" text-anchor="end" >production</text>
<text class="S" x="264" y="169.3" font-size="3.9" fill="#333" text-anchor="end" >Progesterone-mediated oocyte</text>
<text class="S" x="264" y="172.5" font-size="3.9" fill="#333" text-anchor="end" >maturation</text>
<text class="S" x="264" y="178.2" font-size="3.9" fill="#333" text-anchor="end" >Th1 and Th2 cell differentiation</text>
<text class="S" x="264" y="185.8" font-size="3.9" fill="#333" text-anchor="end" >Platelet activation</text>
<text class="S" x="264" y="191.5" font-size="3.9" fill="#333" text-anchor="end" >Inflammatory mediator regulation of</text>
<text class="S" x="264" y="194.7" font-size="3.9" fill="#333" text-anchor="end" >TRP channels</text>
<circle cx="276.8" cy="26.5" r="2.1" fill="#b2182b"/>
<circle cx="275.8" cy="34" r="1.7" fill="#c21d2e"/>
<circle cx="284.1" cy="47.2" r="1.7" fill="#b50f26"/>
<circle cx="275" cy="54.8" r="2.1" fill="#b2182b"/>
<circle cx="274.3" cy="62.2" r="1.3" fill="#5b9bd5"/>
<circle cx="271.4" cy="69.6" r="1.5" fill="#fdf0a0"/>
<circle cx="326.9" cy="82.8" r="0.6" fill="#fee8a0"/>
<circle cx="306.7" cy="96.6" r="0.9" fill="#c01a2c"/>
<circle cx="280.7" cy="103.9" r="1.8" fill="#b2182b"/>
<circle cx="280.1" cy="111.2" r="1.1" fill="#fee79b"/>
<circle cx="276.5" cy="118.8" r="1.4" fill="#fdd08a"/>
<circle cx="274.3" cy="126.2" r="1.7" fill="#c0152a"/>
<circle cx="270.5" cy="133.5" r="1.7" fill="#fde09a"/>
<circle cx="268" cy="141.1" r="1.9" fill="#6aa6d8"/>
<circle cx="297.2" cy="154.2" r="2.1" fill="#b2182b"/>
<circle cx="288" cy="162.2" r="1.1" fill="#e8502e"/>
<circle cx="281.2" cy="169.6" r="1.7" fill="#b2182b"/>
<circle cx="276.4" cy="176.9" r="1.5" fill="#fdd586"/>
<circle cx="275" cy="184.5" r="1.7" fill="#c8202d"/>
<circle cx="272" cy="191.8" r="1.6" fill="#25389a"/>
<line x1="265.8" y1="195.4" x2="265.8" y2="196.4" stroke="#333" stroke-width="0.4" />
<text class="S" x="265.8" y="199.6" font-size="3.6" fill="#444" text-anchor="middle" >2</text>
<line x1="279.5" y1="195.4" x2="279.5" y2="196.4" stroke="#333" stroke-width="0.4" />
<text class="S" x="279.5" y="199.6" font-size="3.6" fill="#444" text-anchor="middle" >4</text>
<line x1="293.2" y1="195.4" x2="293.2" y2="196.4" stroke="#333" stroke-width="0.4" />
<text class="S" x="293.2" y="199.6" font-size="3.6" fill="#444" text-anchor="middle" >6</text>
<line x1="306.9" y1="195.4" x2="306.9" y2="196.4" stroke="#333" stroke-width="0.4" />
<text class="S" x="306.9" y="199.6" font-size="3.6" fill="#444" text-anchor="middle" >8</text>
<line x1="320.6" y1="195.4" x2="320.6" y2="196.4" stroke="#333" stroke-width="0.4" />
<text class="S" x="320.6" y="199.6" font-size="3.6" fill="#444" text-anchor="middle" >10</text>
<text class="S" x="297.5" y="204.3" font-size="3.9" fill="#444" text-anchor="middle" >Enrichment Score</text>
<text class="S" x="339.3" y="80.5" font-size="3.6" fill="#333" >Number</text>
<circle cx="342.3" cy="84.3" r="0.5" fill="#000"/>
<text class="S" x="346" y="85.4" font-size="3" fill="#555" >5</text>
<circle cx="342.3" cy="89.2" r="0.9" fill="#000"/>
<text class="S" x="346" y="90.3" font-size="3" fill="#555" >10</text>
<circle cx="342.3" cy="94.3" r="1.3" fill="#000"/>
<text class="S" x="346" y="95.4" font-size="3" fill="#555" >20</text>
<circle cx="342.3" cy="99.6" r="1.6" fill="#000"/>
<text class="S" x="346" y="100.7" font-size="3" fill="#555" >70</text>
<text class="S" x="339.3" y="112.5" font-size="3.6" fill="#333" >pvalue</text>
<defs><linearGradient id="gB" x1="0" y1="0" x2="0" y2="1"><stop offset="0" stop-color="#2c4a9e"/><stop offset="0.22" stop-color="#7fb3de"/><stop offset="0.5" stop-color="#fff7b0"/><stop offset="0.75" stop-color="#fba04e"/><stop offset="1" stop-color="#b2182b"/></linearGradient></defs>
<rect x="339.3" y="114.8" width="5.3" height="26" fill="url(#gB)" />
<text class="S" x="346" y="121.3" font-size="2.8" fill="#555" >6e-04</text>
<text class="S" x="346" y="128.2" font-size="2.8" fill="#555" >4e-04</text>
<text class="S" x="346" y="135.1" font-size="2.8" fill="#555" >2e-04</text>
<text class="S" x="368.6" y="13.2" font-size="11.5" font-weight="bold" >C</text>
<text class="S" x="450.5" y="7.3" font-size="4.3" fill="#111" font-weight="bold" text-anchor="middle" >osteoclast differentiation(GO:0030316)</text>
<rect x="400.5" y="11.4" width="101.1" height="93.2" fill="#fff" stroke="#666" stroke-width="0.5"/>
<line x1="400.5" y1="24" x2="501.6" y2="24" stroke="#ccc" stroke-width="1.0" />
<path d="M487.5 23.8V55.7" fill="none" stroke="#3a3" stroke-width="0.45" stroke-dasharray="1.2 0.8"/>
<path d="M400.5 55.7H501.6" fill="none" stroke="#3a3" stroke-width="0.45" stroke-dasharray="1.2 0.8"/>
<polyline points="400.8,24 403.1,25.9 404.4,15.1 406.5,17.5 409,20 411.2,22.3 412.3,19.7 412.8,21.3 414.9,13.5 418,16.5 421.8,21 424.4,17.1 427.7,14.5 431,17 434.9,21 438.8,23.4 440,23.6 445.8,27.7 452.9,33.9 458.7,39.1 465.7,45.6 471.5,49.6 476.2,52 480.9,53.7 482.6,50.5 485,53.2 487.3,55.5 489.1,51.4 491.4,50.2 493.7,53.2 496.1,50.8 497.8,43.8 499,38.6 500.2,32.7 500.9,23.4" fill="none" stroke="#1f9f1f" stroke-width="1.2" stroke-linejoin="round"/>
<line x1="400.5" y1="57" x2="501.6" y2="57" stroke="#888" stroke-width="0.4" />
<text class="S" x="410" y="53.8" font-size="3.7" fill="#333" >NES: -1.18, p: 0.186, FDR: 0.468</text>
<path d="M402.5 57.5V68.7M403.8 57.5V68.7M410.5 57.5V68.7M411.5 57.5V68.7M415 57.5V68.7M419.5 57.5V68.7M423 57.5V68.7M425 57.5V68.7M427.5 57.5V68.7M432 57.5V68.7M436 57.5V68.7M441 57.5V68.7M443.5 57.5V68.7M447.5 57.5V68.7M450 57.5V68.7M452 57.5V68.7M454.2 57.5V68.7M457 57.5V68.7M458.3 57.5V68.7M460.5 57.5V68.7M462 57.5V68.7M464 57.5V68.7M466 57.5V68.7M468.5 57.5V68.7M470 57.5V68.7M472 57.5V68.7M474 57.5V68.7M476.5 57.5V68.7M478.2 57.5V68.7M480 57.5V68.7M482 57.5V68.7M484.5 57.5V68.7M486.5 57.5V68.7M488 57.5V68.7M490.5 57.5V68.7M492.3 57.5V68.7M494 57.5V68.7M495.5 57.5V68.7M497 57.5V68.7M498.5 57.5V68.7M500 57.5V68.7M427.2 57.5V68.7M450.8 57.5V68.7M466.4 57.5V68.7" stroke="#222" stroke-width="0.35" fill="none"/>
<rect x="427.2" y="57.5" width="1" height="11.2" fill="#333" />
<rect x="450.8" y="57.5" width="1" height="11.2" fill="#333" />
<rect x="466.4" y="57.5" width="0.7" height="11.2" fill="#333" />
<defs><linearGradient id="rb400" x1="0" x2="1" y1="0" y2="0"><stop offset="0" stop-color="#f22"/><stop offset="0.45" stop-color="#fff"/><stop offset="0.55" stop-color="#fff"/><stop offset="1" stop-color="#22e"/></linearGradient></defs>
<rect x="400.5" y="69" width="101.1" height="6.6" fill="url(#rb400)" />
<line x1="400.5" y1="75.6" x2="501.6" y2="75.6" stroke="#888" stroke-width="0.4" />
<polygon points="400.5,76.5 401,79 402,81.5 404,83.5 408,85.5 415,87 425,88.3 440,89.3 460.6,89.8 475,90.8 490,91.8 497,93 500,96 501.4,103 501.4,89.8 400.5,89.8" fill="#c8c8c8" stroke="#aaa" stroke-width="0.3"/>
<line x1="460.6" y1="75.6" x2="460.6" y2="104.6" stroke="#bbb" stroke-width="0.4" />
<text class="S" x="405" y="83.3" font-size="4" fill="#e22" font-weight="bold" font-style="italic" >STOM<tspan font-size="2.4" dy="-1.5">-/-</tspan></text>
<text class="S" x="489.5" y="100" font-size="4.2" fill="#3366cc" font-weight="bold" >Ctrl</text>
<text class="S" x="456" y="95" font-size="2.6" fill="#333" text-anchor="middle" >Zero cross at 5776</text>
<text class="S" x="399.2" y="14" font-size="2.6" fill="#555" text-anchor="end" >0.14</text>
<text class="S" x="399.2" y="19.4" font-size="2.6" fill="#555" text-anchor="end" >0.10</text>
<text class="S" x="399.2" y="24.9" font-size="2.6" fill="#555" text-anchor="end" >0.00</text>
<text class="S" x="399.2" y="30.3" font-size="2.6" fill="#555" text-anchor="end" >-0.04</text>
<text class="S" x="399.2" y="35.7" font-size="2.6" fill="#555" text-anchor="end" >-0.08</text>
<text class="S" x="399.2" y="41.1" font-size="2.6" fill="#555" text-anchor="end" >-0.12</text>
<text class="S" x="399.2" y="46.5" font-size="2.6" fill="#555" text-anchor="end" >-0.16</text>
<text class="S" x="399.2" y="51.9" font-size="2.6" fill="#555" text-anchor="end" >-0.20</text>
<text class="S" x="399.2" y="57.1" font-size="2.6" fill="#555" text-anchor="end" >-0.24</text>
<text class="S" x="393" y="34" font-size="3.8" fill="#333" text-anchor="middle" transform="rotate(-90 393 34)">Enrichment score (ES)</text>
<text class="S" x="389.5" y="90" font-size="3.8" fill="#333" text-anchor="middle" transform="rotate(-90 389.5 90)">Ranked Metric</text>
<text class="S" x="393.5" y="90" font-size="3.8" fill="#333" text-anchor="middle" transform="rotate(-90 393.5 90)">(signal_to_noise)</text>
<text class="S" x="489.5" y="55.5" font-size="2.8" fill="#333" >ES: -0.246</text>
<text class="S" x="368.6" y="128.3" font-size="11.5" font-weight="bold" >D</text>
<text class="S" x="456.5" y="120.5" font-size="4.3" fill="#111" font-weight="bold" text-anchor="middle" >response to oxidative stress(GO:0006979)</text>
<rect x="403.7" y="124.5" width="105.8" height="98.1" fill="#fff" stroke="#666" stroke-width="0.5"/>
<line x1="403.7" y1="158.6" x2="509.5" y2="158.6" stroke="#ccc" stroke-width="1.0" />
<path d="M422.4 127V158.6" fill="none" stroke="#3a3" stroke-width="0.45" stroke-dasharray="1.2 0.8"/>
<path d="M403.7 126.8H422.4" fill="none" stroke="#3a3" stroke-width="0.45" stroke-dasharray="1.2 0.8"/>
<polyline points="403.7,157.9 405.6,154.4 407.9,148.6 410.2,146.2 412,140 413.7,133.4 417.2,132.7 419.6,129.9 421.9,127.1 425.4,129.9 430.1,131 434.8,129.9 439.4,132.2 444.1,133.4 453.5,140.4 462.8,148.6 474.5,157.9 483.8,164.2 489.7,165.4 495.5,167.2 499,168.9 503.7,170.3 506.7,168.4 507.9,163.7 509.5,157.9" fill="none" stroke="#1f9f1f" stroke-width="1.2" stroke-linejoin="round"/>
<line x1="403.7" y1="172.6" x2="509.5" y2="172.6" stroke="#888" stroke-width="0.4" />
<text class="S" x="414" y="168.5" font-size="3.7" fill="#333" >NES: 1.3, p: 0.061, FDR: 0.327</text>
<path d="M404.5 173.1V185.7M406.5 173.1V185.7M408.1 173.1V185.7M410.6 173.1V185.7M412.3 173.1V185.7M413.8 173.1V185.7M416.3 173.1V185.7M420.6 173.1V185.7M424.6 173.1V185.7M428.4 173.1V185.7M430.3 173.1V185.7M433.3 173.1V185.7M435.5 173.1V185.7M437.3 173.1V185.7M438.8 173.1V185.7M440.8 173.1V185.7M445.1 173.1V185.7M449.1 173.1V185.7M453.1 173.1V185.7M457 173.1V185.7M458.9 173.1V185.7M461.1 173.1V185.7M464.4 173.1V185.7M468.1 173.1V185.7M472.2 173.1V185.7M476.4 173.1V185.7M477.9 173.1V185.7M481.2 173.1V185.7M484.7 173.1V185.7M487.6 173.1V185.7M489.4 173.1V185.7M492.2 173.1V185.7M493.7 173.1V185.7M498.1 173.1V185.7M502.2 173.1V185.7M505.3 173.1V185.7M507.5 173.1V185.7M410.8 173.1V185.7M418 173.1V185.7M436.3 173.1V185.7M488 173.1V185.7M505 173.1V185.7" stroke="#222" stroke-width="0.35" fill="none"/>
<rect x="410.8" y="173.1" width="1" height="12.6" fill="#333" />
<rect x="418" y="173.1" width="0.7" height="12.6" fill="#333" />
<rect x="436.3" y="173.1" width="0.7" height="12.6" fill="#333" />
<rect x="488" y="173.1" width="0.7" height="12.6" fill="#333" />
<rect x="505" y="173.1" width="1" height="12.6" fill="#333" />
<defs><linearGradient id="rb403" x1="0" x2="1" y1="0" y2="0"><stop offset="0" stop-color="#f22"/><stop offset="0.45" stop-color="#fff"/><stop offset="0.55" stop-color="#fff"/><stop offset="1" stop-color="#22e"/></linearGradient></defs>
<rect x="403.7" y="186" width="105.8" height="5.8" fill="url(#rb403)" />
<line x1="403.7" y1="191.8" x2="509.5" y2="191.8" stroke="#888" stroke-width="0.4" />
<polygon points="403.7,193 404.2,196 405.5,199 408,201.5 413,203.5 425,205 440,206 470,206.8 490,207.5 503,208.5 507,210 509.5,220 509.5,206.3 403.7,206.3" fill="#c8c8c8" stroke="#aaa" stroke-width="0.3"/>
<text class="S" x="408.5" y="199.3" font-size="4" fill="#e22" font-weight="bold" font-style="italic" >STOM<tspan font-size="2.4" dy="-1.5">-/-</tspan></text>
<text class="S" x="496" y="217.3" font-size="4.2" fill="#3366cc" font-weight="bold" >Ctrl</text>
<text class="S" x="463" y="212" font-size="2.6" fill="#333" text-anchor="middle" >Zero cross at 5776</text>
<text class="S" x="402.4" y="127.9" font-size="2.6" fill="#555" text-anchor="end" >0.40</text>
<text class="S" x="402.4" y="138.4" font-size="2.6" fill="#555" text-anchor="end" >0.26</text>
<text class="S" x="402.4" y="148.9" font-size="2.6" fill="#555" text-anchor="end" >0.13</text>
<text class="S" x="402.4" y="159.5" font-size="2.6" fill="#555" text-anchor="end" >0.00</text>
<text class="S" x="402.4" y="169.7" font-size="2.6" fill="#555" text-anchor="end" >-0.10</text>
<text class="S" x="396.2" y="148" font-size="3.8" fill="#333" text-anchor="middle" transform="rotate(-90 396.2 148)">Enrichment score (ES)</text>
<text class="S" x="392.7" y="207" font-size="3.8" fill="#333" text-anchor="middle" transform="rotate(-90 392.7 207)">Ranked Metric</text>
<text class="S" x="396.7" y="207" font-size="3.8" fill="#333" text-anchor="middle" transform="rotate(-90 396.7 207)">(signal_to_noise)</text>
<text class="S" x="424" y="127.3" font-size="2.8" fill="#333" >ES: 0.325</text>
<rect x="541" y="23.4" width="17.1" height="14.2" fill="#6b93c6" />
<rect x="557.8" y="23.4" width="17.1" height="14.2" fill="#a3c0de" />
<rect x="574.6" y="23.4" width="17.1" height="14.2" fill="#4a78b5" />
<rect x="591.5" y="23.4" width="17.1" height="14.2" fill="#bcd4ea" />
<rect x="608.3" y="23.4" width="17.1" height="14.2" fill="#f0935f" />
<rect x="625.1" y="23.4" width="17.1" height="14.2" fill="#e8704b" />
<rect x="541" y="37.3" width="17.1" height="14.2" fill="#5a86bf" />
<rect x="557.8" y="37.3" width="17.1" height="14.2" fill="#4a78b5" />
<rect x="574.6" y="37.3" width="17.1" height="14.2" fill="#4a78b5" />
<rect x="591.5" y="37.3" width="17.1" height="14.2" fill="#f7dfb5" />
<rect x="608.3" y="37.3" width="17.1" height="14.2" fill="#f8d5a2" />
<rect x="625.1" y="37.3" width="17.1" height="14.2" fill="#e0533b" />
<rect x="541" y="51.1" width="17.1" height="14.2" fill="#4a78b5" />
<rect x="557.8" y="51.1" width="17.1" height="14.2" fill="#6d96c7" />
<rect x="574.6" y="51.1" width="17.1" height="14.2" fill="#92b3d7" />
<rect x="591.5" y="51.1" width="17.1" height="14.2" fill="#f1f0e0" />
<rect x="608.3" y="51.1" width="17.1" height="14.2" fill="#f0935f" />
<rect x="625.1" y="51.1" width="17.1" height="14.2" fill="#f0935f" />
<rect x="541" y="65" width="17.1" height="14.2" fill="#5a86bf" />
<rect x="557.8" y="65" width="17.1" height="14.2" fill="#4a78b5" />
<rect x="574.6" y="65" width="17.1" height="14.2" fill="#5a86bf" />
<rect x="591.5" y="65" width="17.1" height="14.2" fill="#eef5ee" />
<rect x="608.3" y="65" width="17.1" height="14.2" fill="#f0935f" />
<rect x="625.1" y="65" width="17.1" height="14.2" fill="#ea7a52" />
<rect x="541" y="78.9" width="17.1" height="14.2" fill="#4a78b5" />
<rect x="557.8" y="78.9" width="17.1" height="14.2" fill="#739ac9" />
<rect x="574.6" y="78.9" width="17.1" height="14.2" fill="#5a86bf" />
<rect x="591.5" y="78.9" width="17.1" height="14.2" fill="#eef5ee" />
<rect x="608.3" y="78.9" width="17.1" height="14.2" fill="#e8704b" />
<rect x="625.1" y="78.9" width="17.1" height="14.2" fill="#f4aa6c" />
<rect x="541" y="92.8" width="17.1" height="14.2" fill="#4a78b5" />
<rect x="557.8" y="92.8" width="17.1" height="14.2" fill="#7ea2cd" />
<rect x="574.6" y="92.8" width="17.1" height="14.2" fill="#5a86bf" />
<rect x="591.5" y="92.8" width="17.1" height="14.2" fill="#eef3e5" />
<rect x="608.3" y="92.8" width="17.1" height="14.2" fill="#f0935f" />
<rect x="625.1" y="92.8" width="17.1" height="14.2" fill="#f0935f" />
<rect x="541" y="106.6" width="17.1" height="14.2" fill="#d2e4f1" />
<rect x="557.8" y="106.6" width="17.1" height="14.2" fill="#f2f1e2" />
<rect x="574.6" y="106.6" width="17.1" height="14.2" fill="#f5a86b" />
<rect x="591.5" y="106.6" width="17.1" height="14.2" fill="#ee8a58" />
<rect x="608.3" y="106.6" width="17.1" height="14.2" fill="#4a78b5" />
<rect x="625.1" y="106.6" width="17.1" height="14.2" fill="#4a78b5" />
<rect x="541" y="120.5" width="17.1" height="14.2" fill="#f6b877" />
<rect x="557.8" y="120.5" width="17.1" height="14.2" fill="#f8d29c" />
<rect x="574.6" y="120.5" width="17.1" height="14.2" fill="#f7c585" />
<rect x="591.5" y="120.5" width="17.1" height="14.2" fill="#4a78b5" />
<rect x="608.3" y="120.5" width="17.1" height="14.2" fill="#6b93c6" />
<rect x="625.1" y="120.5" width="17.1" height="14.2" fill="#e3f0f5" />
<rect x="541" y="134.4" width="17.1" height="14.2" fill="#f2a06b" />
<rect x="557.8" y="134.4" width="17.1" height="14.2" fill="#f8d4a1" />
<rect x="574.6" y="134.4" width="17.1" height="14.2" fill="#f4ead7" />
<rect x="591.5" y="134.4" width="17.1" height="14.2" fill="#f8dcb0" />
<rect x="608.3" y="134.4" width="17.1" height="14.2" fill="#4a78b5" />
<rect x="625.1" y="134.4" width="17.1" height="14.2" fill="#4f7db8" />
<rect x="541" y="148.2" width="17.1" height="14.2" fill="#d9352a" />
<rect x="557.8" y="148.2" width="17.1" height="14.2" fill="#f2f1e2" />
<rect x="574.6" y="148.2" width="17.1" height="14.2" fill="#f5e5cc" />
<rect x="591.5" y="148.2" width="17.1" height="14.2" fill="#84a7d0" />
<rect x="608.3" y="148.2" width="17.1" height="14.2" fill="#6b93c6" />
<rect x="625.1" y="148.2" width="17.1" height="14.2" fill="#4f7db8" />
<rect x="541" y="162.1" width="17.1" height="14.2" fill="#dc4332" />
<rect x="557.8" y="162.1" width="17.1" height="14.2" fill="#f5e7cc" />
<rect x="574.6" y="162.1" width="17.1" height="14.2" fill="#f7e1c0" />
<rect x="591.5" y="162.1" width="17.1" height="14.2" fill="#6b93c6" />
<rect x="608.3" y="162.1" width="17.1" height="14.2" fill="#6b93c6" />
<rect x="625.1" y="162.1" width="17.1" height="14.2" fill="#4f7db8" />
<rect x="541" y="176" width="17.1" height="14.2" fill="#f09865" />
<rect x="557.8" y="176" width="17.1" height="14.2" fill="#f3ead7" />
<rect x="574.6" y="176" width="17.1" height="14.2" fill="#f09865" />
<rect x="591.5" y="176" width="17.1" height="14.2" fill="#7ea2cd" />
<rect x="608.3" y="176" width="17.1" height="14.2" fill="#5a86bf" />
<rect x="625.1" y="176" width="17.1" height="14.2" fill="#4f7db8" />
<rect x="541" y="189.8" width="17.1" height="14.2" fill="#f4aa6c" />
<rect x="557.8" y="189.8" width="17.1" height="14.2" fill="#f8dcae" />
<rect x="574.6" y="189.8" width="17.1" height="14.2" fill="#fbc883" />
<rect x="591.5" y="189.8" width="17.1" height="14.2" fill="#cfe2ef" />
<rect x="608.3" y="189.8" width="17.1" height="14.2" fill="#5a86bf" />
<rect x="625.1" y="189.8" width="17.1" height="14.2" fill="#4a78b5" />
<text class="S" x="644" y="32" font-size="4.6" fill="#222" >Sod2</text>
<text class="S" x="644" y="45.9" font-size="4.6" fill="#222" >Nfe2l2</text>
<text class="S" x="644" y="59.8" font-size="4.6" fill="#222" >Sod1</text>
<text class="S" x="644" y="73.6" font-size="4.6" fill="#222" >Hmox1</text>
<text class="S" x="644" y="87.5" font-size="4.6" fill="#222" >Nqo1</text>
<text class="S" x="644" y="101.4" font-size="4.6" fill="#222" >Srxn1</text>
<text class="S" x="644" y="115.3" font-size="4.6" fill="#222" >Nfatc1</text>
<text class="S" x="644" y="129.1" font-size="4.6" fill="#222" >Fos</text>
<text class="S" x="644" y="143" font-size="4.6" fill="#222" >Tnfrsf11a</text>
<text class="S" x="644" y="156.9" font-size="4.6" fill="#222" >Pik3r1</text>
<text class="S" x="644" y="170.7" font-size="4.6" fill="#222" >Csf1</text>
<text class="S" x="644" y="184.6" font-size="4.6" fill="#222" >Mmp9</text>
<text class="S" x="644" y="198.5" font-size="4.6" fill="#222" >Atp6v0d2</text>
<path d="M561.4 16V0.6H612.4V10.5M549.1 23.4V16H574.5V19M566.2 23.4V19H583V23.4M599.3 23.4V10.5H625.1V19M616.4 23.4V19H633.5V23.4" fill="none" stroke="#555" stroke-width="0.6"/>
<path d="M541 30.3H537.3V44.2H541M541 58.1H540V71.9H541M541 85.8H540V99.7H541M540 65H538.9V92.8H540M538.9 78.9H537.3M537.3 37.3V78.9M537.3 43.4H526.5V128.1H530.9M530.9 113.6V143H533.3M530.9 113.6H541M533.3 127.4V162.9H535.9M533.3 127.4H541M535.9 141.3V176M535.9 141.3H541M535.9 176H537M537 162.1V189.8M539.5 155.2V169M539.5 155.2H541M539.5 169H541M537 162.1H539.5M539 182.9V196.8M539 182.9H541M539 196.8H541M537 189.8H539" fill="none" stroke="#666" stroke-width="0.5"/>
<defs><linearGradient id="gE" x1="0" y1="0" x2="0" y2="1"><stop offset="0" stop-color="#d73027"/><stop offset="0.3" stop-color="#fbbf7c"/><stop offset="0.5" stop-color="#f7f9f2"/><stop offset="0.7" stop-color="#8fb3d8"/><stop offset="1" stop-color="#4a78b5"/></linearGradient></defs>
<rect x="665" y="25.1" width="3.9" height="72.4" fill="url(#gE)" />
<text class="S" x="670.5" y="31.6" font-size="3.9" fill="#333" >1.5</text>
<text class="S" x="670.5" y="41.8" font-size="3.9" fill="#333" >1</text>
<text class="S" x="670.5" y="52.2" font-size="3.9" fill="#333" >0.5</text>
<text class="S" x="670.5" y="62.7" font-size="3.9" fill="#333" >0</text>
<text class="S" x="670.5" y="72.9" font-size="3.9" fill="#333" >-0.5</text>
<text class="S" x="670.5" y="83.6" font-size="3.9" fill="#333" >-1</text>
<text class="S" x="670.5" y="93.8" font-size="3.9" fill="#333" >-1.5</text>
<text class="S" x="551.9" y="214" font-size="6.0" font-weight="bold" text-anchor="end" transform="rotate(-28 551.9 214)">Ctrl2</text>
<text class="S" x="568.7" y="214" font-size="6.0" font-weight="bold" text-anchor="end" transform="rotate(-28 568.7 214)">Ctrl1</text>
<text class="S" x="585.5" y="214" font-size="6.0" font-weight="bold" text-anchor="end" transform="rotate(-28 585.5 214)">Ctrl3</text>
<text class="S" x="602.4" y="214" font-size="6.0" font-weight="bold" text-anchor="end" transform="rotate(-28 602.4 214)">STOM<tspan font-size="3" dy="-1.6">-/-</tspan><tspan dy="1.6">2</tspan></text>
<text class="S" x="619.2" y="214" font-size="6.0" font-weight="bold" text-anchor="end" transform="rotate(-28 619.2 214)">STOM<tspan font-size="3" dy="-1.6">-/-</tspan><tspan dy="1.6">1</tspan></text>
<text class="S" x="636" y="214" font-size="6.0" font-weight="bold" text-anchor="end" transform="rotate(-28 636 214)">STOM<tspan font-size="3" dy="-1.6">-/-</tspan><tspan dy="1.6">3</tspan></text>
<text class="S" x="515.3" y="13" font-size="11.5" font-weight="bold" >E</text>
<defs><filter id="bl1" x="-30%" y="-80%" width="160%" height="260%"><feGaussianBlur stdDeviation="0.7 0.8"/></filter><filter id="bl2" x="-20%" y="-20%" width="140%" height="140%"><feGaussianBlur stdDeviation="2"/></filter><linearGradient id="gF" x1="0" x2="0" y1="0" y2="1"><stop offset="0" stop-color="#d8d8d8"/><stop offset="0.5" stop-color="#e6e6e6"/><stop offset="1" stop-color="#dcdcdc"/></linearGradient></defs>
<text class="S" x="0.5" y="244.5" font-size="11.5" font-weight="bold" >F</text>
<rect x="39.4" y="252.6" width="128.1" height="15.1" fill="url(#gF)" stroke="#777" stroke-width="0.6"/>
<rect x="40.2" y="253.1" width="20" height="14.1" fill="#000" opacity="0.06" filter="url(#bl2)"/>
<rect x="61.4" y="253.1" width="20" height="14.1" fill="#000" opacity="0.06" filter="url(#bl2)"/>
<rect x="82.7" y="253.1" width="20" height="14.1" fill="#000" opacity="0.06" filter="url(#bl2)"/>
<rect x="104" y="253.1" width="20" height="14.1" fill="#000" opacity="0.12" filter="url(#bl2)"/>
<rect x="125.3" y="253.1" width="20" height="14.1" fill="#000" opacity="0.12" filter="url(#bl2)"/>
<rect x="146.6" y="253.1" width="20" height="14.1" fill="#000" opacity="0.12" filter="url(#bl2)"/>
<rect x="42.7" y="257" width="15" height="6.2" rx="3.1" fill="#000000" filter="url(#bl1)"/>
<rect x="63.9" y="257" width="15" height="6.2" rx="3.1" fill="#000000" filter="url(#bl1)"/>
<rect x="85.2" y="256.9" width="15" height="6.4" rx="3.2" fill="#000000" filter="url(#bl1)"/>
<rect x="105.5" y="256.3" width="17" height="7.6" rx="3.8" fill="#000000" filter="url(#bl1)"/>
<rect x="126.8" y="256" width="17" height="7.6" rx="3.8" fill="#000000" filter="url(#bl1)"/>
<rect x="148.3" y="255.8" width="16.5" height="7.4" rx="3.7" fill="#000000" filter="url(#bl1)"/>
<text class="S" x="35.2" y="263.1" font-size="8.6" font-weight="bold" text-anchor="end" >HO-1</text>
<text class="S" x="169.8" y="263.1" font-size="8.6" font-weight="bold" >33KD</text>
<rect x="39.4" y="270.7" width="128.1" height="14.7" fill="url(#gF)" stroke="#777" stroke-width="0.6"/>
<rect x="40.2" y="271.2" width="20" height="13.7" fill="#000" opacity="0.06" filter="url(#bl2)"/>
<rect x="61.4" y="271.2" width="20" height="13.7" fill="#000" opacity="0.06" filter="url(#bl2)"/>
<rect x="82.7" y="271.2" width="20" height="13.7" fill="#000" opacity="0.06" filter="url(#bl2)"/>
<rect x="104" y="271.2" width="20" height="13.7" fill="#000" opacity="0.12" filter="url(#bl2)"/>
<rect x="125.3" y="271.2" width="20" height="13.7" fill="#000" opacity="0.12" filter="url(#bl2)"/>
<rect x="146.6" y="271.2" width="20" height="13.7" fill="#000" opacity="0.12" filter="url(#bl2)"/>
<rect x="42.2" y="276.4" width="16" height="4" rx="2" fill="#b7b7b7" filter="url(#bl1)"/>
<rect x="63.4" y="276.4" width="16" height="4" rx="2" fill="#b7b7b7" filter="url(#bl1)"/>
<rect x="84.7" y="276.4" width="16" height="4" rx="2" fill="#b2b2b2" filter="url(#bl1)"/>
<rect x="105.5" y="275.3" width="17" height="4.6" rx="2.3" fill="#606060" filter="url(#bl1)"/>
<rect x="127.3" y="274.8" width="16" height="4.4" rx="2.2" fill="#727272" filter="url(#bl1)"/>
<rect x="148.6" y="274.4" width="16" height="4.4" rx="2.2" fill="#727272" filter="url(#bl1)"/>
<text class="S" x="35.2" y="281" font-size="8.6" font-weight="bold" text-anchor="end" >NQO1</text>
<text class="S" x="169.8" y="281" font-size="8.6" font-weight="bold" >31KD</text>
<rect x="39.4" y="288.1" width="128.1" height="16.2" fill="url(#gF)" stroke="#777" stroke-width="0.6"/>
<rect x="40.2" y="288.6" width="20" height="15.2" fill="#000" opacity="0.06" filter="url(#bl2)"/>
<rect x="61.4" y="288.6" width="20" height="15.2" fill="#000" opacity="0.06" filter="url(#bl2)"/>
<rect x="82.7" y="288.6" width="20" height="15.2" fill="#000" opacity="0.06" filter="url(#bl2)"/>
<rect x="104" y="288.6" width="20" height="15.2" fill="#000" opacity="0.06" filter="url(#bl2)"/>
<rect x="125.3" y="288.6" width="20" height="15.2" fill="#000" opacity="0.06" filter="url(#bl2)"/>
<rect x="146.6" y="288.6" width="20" height="15.2" fill="#000" opacity="0.06" filter="url(#bl2)"/>
<rect x="42.7" y="292.7" width="15" height="4.6" rx="2.3" fill="#000000" filter="url(#bl1)"/>
<rect x="65.2" y="294.3" width="12.5" height="3.8" rx="1.9" fill="#191919" filter="url(#bl1)"/>
<rect x="85.7" y="294.8" width="14" height="4" rx="2" fill="#0c0c0c" filter="url(#bl1)"/>
<rect x="106" y="294" width="16" height="5.2" rx="2.6" fill="#000000" filter="url(#bl1)"/>
<rect x="127.3" y="293.5" width="16" height="5.4" rx="2.7" fill="#000000" filter="url(#bl1)"/>
<rect x="148.3" y="293" width="16.5" height="5.8" rx="2.9" fill="#000000" filter="url(#bl1)"/>
<text class="S" x="35.2" y="299.2" font-size="8.6" font-weight="bold" text-anchor="end" >SOD1</text>
<text class="S" x="169.8" y="299.2" font-size="8.6" font-weight="bold" >18KD</text>
<rect x="39.4" y="307.3" width="128.1" height="15.4" fill="url(#gF)" stroke="#777" stroke-width="0.6"/>
<rect x="40.2" y="307.8" width="20" height="14.4" fill="#000" opacity="0.06" filter="url(#bl2)"/>
<rect x="61.4" y="307.8" width="20" height="14.4" fill="#000" opacity="0.06" filter="url(#bl2)"/>
<rect x="82.7" y="307.8" width="20" height="14.4" fill="#000" opacity="0.06" filter="url(#bl2)"/>
<rect x="104" y="307.8" width="20" height="14.4" fill="#000" opacity="0.06" filter="url(#bl2)"/>
<rect x="125.3" y="307.8" width="20" height="14.4" fill="#000" opacity="0.06" filter="url(#bl2)"/>
<rect x="146.6" y="307.8" width="20" height="14.4" fill="#000" opacity="0.06" filter="url(#bl2)"/>
<rect x="42.7" y="311.5" width="15" height="3.8" rx="1.9" fill="#000000" filter="url(#bl1)"/>
<rect x="65.4" y="312.8" width="12" height="3.2" rx="1.6" fill="#3f3f3f" filter="url(#bl1)"/>
<rect x="84.7" y="312.1" width="16" height="5.2" rx="2.6" fill="#000000" filter="url(#bl1)"/>
<rect x="105.5" y="311.8" width="17" height="5.8" rx="2.9" fill="#000000" filter="url(#bl1)"/>
<rect x="127.1" y="311.9" width="16.5" height="5.6" rx="2.8" fill="#000000" filter="url(#bl1)"/>
<rect x="148.3" y="311.9" width="16.5" height="5.6" rx="2.8" fill="#000000" filter="url(#bl1)"/>
<text class="S" x="35.2" y="318" font-size="8.6" font-weight="bold" text-anchor="end" >SOD2</text>
<text class="S" x="169.8" y="318" font-size="8.6" font-weight="bold" >25KD</text>
<rect x="39.4" y="325.3" width="128.1" height="16.2" fill="url(#gF)" stroke="#777" stroke-width="0.6"/>
<rect x="40.2" y="325.8" width="20" height="15.2" fill="#000" opacity="0.06" filter="url(#bl2)"/>
<rect x="61.4" y="325.8" width="20" height="15.2" fill="#000" opacity="0.06" filter="url(#bl2)"/>
<rect x="82.7" y="325.8" width="20" height="15.2" fill="#000" opacity="0.06" filter="url(#bl2)"/>
<rect x="104" y="325.8" width="20" height="15.2" fill="#000" opacity="0.06" filter="url(#bl2)"/>
<rect x="125.3" y="325.8" width="20" height="15.2" fill="#000" opacity="0.06" filter="url(#bl2)"/>
<rect x="146.6" y="325.8" width="20" height="15.2" fill="#000" opacity="0.06" filter="url(#bl2)"/>
<rect x="41.7" y="330.3" width="17" height="6.2" rx="3.1" fill="#000000" filter="url(#bl1)"/>
<rect x="63.2" y="330.5" width="16.5" height="5.8" rx="2.9" fill="#000000" filter="url(#bl1)"/>
<rect x="84.5" y="330.9" width="16.5" height="5.6" rx="2.8" fill="#000000" filter="url(#bl1)"/>
<rect x="106" y="331.1" width="16" height="5.4" rx="2.7" fill="#000000" filter="url(#bl1)"/>
<rect x="127.3" y="331" width="16" height="5.4" rx="2.7" fill="#000000" filter="url(#bl1)"/>
<rect x="148.3" y="330.7" width="16.5" height="5.4" rx="2.7" fill="#000000" filter="url(#bl1)"/>
<text class="S" x="35.2" y="336.4" font-size="8.6" font-weight="bold" text-anchor="end" >&#946;-actin</text>
<text class="S" x="169.8" y="336.4" font-size="8.6" font-weight="bold" >42KD</text>
<line x1="43.4" y1="246.8" x2="98" y2="246.8" stroke="#000" stroke-width="1.3" />
<line x1="105.2" y1="246.5" x2="160.6" y2="246.5" stroke="#000" stroke-width="1.3" />
<text class="S" x="73.5" y="241.5" font-size="8" font-weight="bold" text-anchor="middle" transform="rotate(-30 73.5 241.5)">WT</text>
<text class="S" x="140" y="240.3" font-size="8" font-weight="bold" text-anchor="middle" font-style="italic" transform="rotate(-25 140 240.3)">STOM<tspan font-size="5" dy="-3">-/-</tspan></text>
<text class="S" x="219.5" y="244.5" font-size="11.5" font-weight="bold" >G</text>
<rect x="273.4" y="298.2" width="13.7" height="34.4" fill="#e31a1c" />
<line x1="280.2" y1="297.1" x2="280.2" y2="298.2" stroke="#e31a1c" stroke-width="0.7" />
<line x1="277.6" y1="297.1" x2="282.9" y2="297.1" stroke="#e31a1c" stroke-width="0.7" />
<circle cx="280.2" cy="298.5" r="1.7" fill="#000"/>
<circle cx="276.6" cy="297.1" r="1.7" fill="#000"/>
<circle cx="283.9" cy="297.8" r="1.7" fill="#000"/>
<rect x="287.1" y="280.2" width="13.1" height="52.4" fill="#3a7dbf" />
<line x1="293.6" y1="277.5" x2="293.6" y2="280.2" stroke="#3a7dbf" stroke-width="0.7" />
<line x1="291" y1="277.5" x2="296.2" y2="277.5" stroke="#3a7dbf" stroke-width="0.7" />
<circle cx="293.6" cy="282" r="1.7" fill="#000"/>
<circle cx="293.6" cy="277.5" r="1.7" fill="#000"/>
<circle cx="290" cy="282" r="1.7" fill="#000"/>
<rect x="306.2" y="298.2" width="13.6" height="34.4" fill="#e31a1c" />
<line x1="313" y1="296.8" x2="313" y2="298.2" stroke="#e31a1c" stroke-width="0.7" />
<line x1="310.4" y1="296.8" x2="315.6" y2="296.8" stroke="#e31a1c" stroke-width="0.7" />
<circle cx="313" cy="298.8" r="1.7" fill="#000"/>
<circle cx="309.3" cy="297.1" r="1.7" fill="#000"/>
<circle cx="316.7" cy="297.5" r="1.7" fill="#000"/>
<rect x="319.8" y="282.6" width="13.2" height="50" fill="#3a7dbf" />
<line x1="326.4" y1="282" x2="326.4" y2="282.6" stroke="#3a7dbf" stroke-width="0.7" />
<line x1="323.8" y1="282" x2="329" y2="282" stroke="#3a7dbf" stroke-width="0.7" />
<circle cx="326.4" cy="282.6" r="1.7" fill="#000"/>
<circle cx="322.7" cy="282.3" r="1.7" fill="#000"/>
<circle cx="330.1" cy="282.3" r="1.7" fill="#000"/>
<rect x="339.6" y="298.2" width="13.5" height="34.4" fill="#e31a1c" />
<line x1="346.4" y1="296.1" x2="346.4" y2="298.2" stroke="#e31a1c" stroke-width="0.7" />
<line x1="343.8" y1="296.1" x2="349" y2="296.1" stroke="#e31a1c" stroke-width="0.7" />
<circle cx="346.4" cy="299.2" r="1.7" fill="#000"/>
<circle cx="346.4" cy="295.4" r="1.7" fill="#000"/>
<circle cx="342.7" cy="298.8" r="1.7" fill="#000"/>
<rect x="353.1" y="276.4" width="12.8" height="56.2" fill="#3a7dbf" />
<line x1="359.5" y1="273.7" x2="359.5" y2="276.4" stroke="#3a7dbf" stroke-width="0.7" />
<line x1="356.9" y1="273.7" x2="362.1" y2="273.7" stroke="#3a7dbf" stroke-width="0.7" />
<circle cx="359.5" cy="279.2" r="1.7" fill="#000"/>
<circle cx="355.8" cy="276.4" r="1.7" fill="#000"/>
<circle cx="359.5" cy="273.3" r="1.7" fill="#000"/>
<rect x="372.9" y="298.2" width="13.1" height="34.4" fill="#e31a1c" />
<line x1="379.4" y1="295.4" x2="379.4" y2="298.2" stroke="#e31a1c" stroke-width="0.7" />
<line x1="376.8" y1="295.4" x2="382.1" y2="295.4" stroke="#e31a1c" stroke-width="0.7" />
<circle cx="379.4" cy="300.6" r="1.7" fill="#000"/>
<circle cx="379.4" cy="295.4" r="1.7" fill="#000"/>
<circle cx="375.8" cy="298.5" r="1.7" fill="#000"/>
<rect x="386" y="268.2" width="13.2" height="64.4" fill="#3a7dbf" />
<line x1="392.6" y1="264.7" x2="392.6" y2="268.2" stroke="#3a7dbf" stroke-width="0.7" />
<line x1="390" y1="264.7" x2="395.2" y2="264.7" stroke="#3a7dbf" stroke-width="0.7" />
<circle cx="392.6" cy="271.3" r="1.7" fill="#000"/>
<circle cx="392.6" cy="267.8" r="1.7" fill="#000"/>
<circle cx="392.6" cy="264.4" r="1.7" fill="#000"/>
<line x1="267.2" y1="332.6" x2="267.2" y2="246.2" stroke="#222" stroke-width="1.1" />
<line x1="267.2" y1="332.6" x2="407" y2="332.6" stroke="#222" stroke-width="1.1" />
<line x1="263.6" y1="332.6" x2="267.2" y2="332.6" stroke="#222" stroke-width="0.9900000000000001" />
<text class="S" x="263" y="335" font-size="6.8" fill="#222" font-weight="bold" text-anchor="end" letter-spacing="0.4">0.0</text>
<line x1="263.6" y1="315.4" x2="267.2" y2="315.4" stroke="#222" stroke-width="0.9900000000000001" />
<text class="S" x="263" y="317.8" font-size="6.8" fill="#222" font-weight="bold" text-anchor="end" letter-spacing="0.4">0.5</text>
<line x1="263.6" y1="298.2" x2="267.2" y2="298.2" stroke="#222" stroke-width="0.9900000000000001" />
<text class="S" x="263" y="300.6" font-size="6.8" fill="#222" font-weight="bold" text-anchor="end" letter-spacing="0.4">1.0</text>
<line x1="263.6" y1="280.9" x2="267.2" y2="280.9" stroke="#222" stroke-width="0.9900000000000001" />
<text class="S" x="263" y="283.4" font-size="6.8" fill="#222" font-weight="bold" text-anchor="end" letter-spacing="0.4">1.5</text>
<line x1="263.6" y1="263.7" x2="267.2" y2="263.7" stroke="#222" stroke-width="0.9900000000000001" />
<text class="S" x="263" y="266.1" font-size="6.8" fill="#222" font-weight="bold" text-anchor="end" letter-spacing="0.4">2.0</text>
<line x1="263.6" y1="246.5" x2="267.2" y2="246.5" stroke="#222" stroke-width="0.9900000000000001" />
<text class="S" x="263" y="248.9" font-size="6.8" fill="#222" font-weight="bold" text-anchor="end" letter-spacing="0.4">2.5</text>
<line x1="280.2" y1="332.6" x2="280.2" y2="336.2" stroke="#222" stroke-width="0.9900000000000001" />
<line x1="293.6" y1="332.6" x2="293.6" y2="336.2" stroke="#222" stroke-width="0.9900000000000001" />
<line x1="313" y1="332.6" x2="313" y2="336.2" stroke="#222" stroke-width="0.9900000000000001" />
<line x1="326.4" y1="332.6" x2="326.4" y2="336.2" stroke="#222" stroke-width="0.9900000000000001" />
<line x1="346.4" y1="332.6" x2="346.4" y2="336.2" stroke="#222" stroke-width="0.9900000000000001" />
<line x1="359.5" y1="332.6" x2="359.5" y2="336.2" stroke="#222" stroke-width="0.9900000000000001" />
<line x1="379.4" y1="332.6" x2="379.4" y2="336.2" stroke="#222" stroke-width="0.9900000000000001" />
<line x1="392.6" y1="332.6" x2="392.6" y2="336.2" stroke="#222" stroke-width="0.9900000000000001" />
<line x1="279" y1="259.9" x2="297.5" y2="259.9" stroke="#111" stroke-width="0.9" />
<text class="S" x="288.2" y="257.5" font-size="5.2" fill="#111" font-weight="bold" text-anchor="middle" >p=0.0009</text>
<line x1="312.2" y1="259.9" x2="329.5" y2="259.9" stroke="#111" stroke-width="0.9" />
<text class="S" x="320.9" y="257.5" font-size="5.2" fill="#111" font-weight="bold" text-anchor="middle" >p &lt; 0.0001</text>
<line x1="342.6" y1="259.6" x2="361.2" y2="259.6" stroke="#111" stroke-width="0.9" />
<text class="S" x="351.9" y="257.3" font-size="5.2" fill="#111" font-weight="bold" text-anchor="middle" >p=0.0021</text>
<line x1="375.5" y1="259.6" x2="394" y2="259.6" stroke="#111" stroke-width="0.9" />
<text class="S" x="384.8" y="257.3" font-size="5.2" fill="#111" font-weight="bold" text-anchor="middle" >p=0.0010</text>
<text class="R" x="242.5" y="289.5" font-size="8.3" font-weight="bold" text-anchor="middle" transform="rotate(-90 242.5 289.5)">Relative mRNA expresion</text>
<text class="S" x="287.2" y="343.3" font-size="6.3" font-weight="bold" text-anchor="middle" font-style="italic" >Sod1</text>
<text class="S" x="319.9" y="343.3" font-size="6.3" font-weight="bold" text-anchor="middle" font-style="italic" >Sod2</text>
<text class="S" x="353" y="343.3" font-size="6.3" font-weight="bold" text-anchor="middle" font-style="italic" >Nqo1</text>
<text class="S" x="386" y="343.3" font-size="6.3" font-weight="bold" text-anchor="middle" font-style="italic" >Hmox1</text>
<circle cx="406.2" cy="247.3" r="1.6" fill="#000"/><circle cx="406.2" cy="255.1" r="1.6" fill="#000"/>
<text class="S" x="417.5" y="249.9" font-size="7.2" fill="#e31a1c" font-weight="bold" >WT</text>
<text class="S" x="417.5" y="257.9" font-size="7.2" fill="#3a7dbf" font-weight="bold" font-style="italic" >STOM<tspan font-size="4.4" dy="-2.8">-/-</tspan></text>
<text class="S" x="450.8" y="245.5" font-size="11.5" font-weight="bold" >H</text>
<rect x="469.3" y="247" width="82.3" height="83.5" fill="#fff" stroke="#555" stroke-width="0.6"/>
<path d="M486.9 288.3C487.1 284.8 487.6 272.5 488 267.1C488.4 261.7 488.6 255.9 489 255.9C489.4 255.9 489.7 263.4 490.1 267.1C490.6 270.8 490.9 275.4 491.7 278.3C492.5 281.2 493.3 283.2 494.9 284.8C496.5 286.4 499.2 287 501.4 287.6C503.5 288.2 506.7 288.2 507.8 288.3Z" fill="#8cc0f0" stroke="none"/>
<line x1="469.3" y1="288.3" x2="551.6" y2="288.3" stroke="#1f7fe0" stroke-width="0.6" />
<path d="M486.9 288.3C487.1 284.8 487.6 272.5 488 267.1C488.4 261.7 488.6 255.9 489 255.9C489.4 255.9 489.7 263.4 490.1 267.1C490.6 270.8 490.9 275.4 491.7 278.3C492.5 281.2 493.3 283.2 494.9 284.8C496.5 286.4 499.2 287 501.4 287.6C503.5 288.2 506.7 288.2 507.8 288.3" fill="none" stroke="#1f7fe0" stroke-width="0.9" stroke-linejoin="round"/>
<path d="M486.9 330.5C487.2 324.8 488.1 302.7 488.5 296C488.9 289.3 489.2 290.4 489.6 290.4C490 290.4 490.4 292.7 490.9 296C491.4 299.3 491.8 306.4 492.5 310.4C493.2 314.4 493.9 317.6 494.9 320.1C495.8 322.7 496.8 324.2 498.2 325.7C499.6 327.2 500.9 328.1 503 328.9C505.1 329.7 509.7 330.2 511 330.5Z" fill="#f39a9a" stroke="none"/>
<line x1="469.3" y1="330.5" x2="551.6" y2="330.5" stroke="#f01010" stroke-width="0.6" />
<path d="M486.9 330.5C487.2 324.8 488.1 302.7 488.5 296C488.9 289.3 489.2 290.4 489.6 290.4C490 290.4 490.4 292.7 490.9 296C491.4 299.3 491.8 306.4 492.5 310.4C493.2 314.4 493.9 317.6 494.9 320.1C495.8 322.7 496.8 324.2 498.2 325.7C499.6 327.2 500.9 328.1 503 328.9C505.1 329.7 509.7 330.2 511 330.5" fill="none" stroke="#f01010" stroke-width="0.9" stroke-linejoin="round"/>
<line x1="475" y1="330.5" x2="475" y2="331.7" stroke="#333" stroke-width="0.4" />
<text class="S" x="475" y="335.5" font-size="2.9" fill="#444" text-anchor="middle" >-10<tspan font-size="1.8" dy="-1">3</tspan></text>
<line x1="488.6" y1="330.5" x2="488.6" y2="331.7" stroke="#333" stroke-width="0.4" />
<text class="S" x="488.6" y="335.5" font-size="2.9" fill="#444" text-anchor="middle" >0</text>
<line x1="503" y1="330.5" x2="503" y2="331.7" stroke="#333" stroke-width="0.4" />
<text class="S" x="503" y="335.5" font-size="2.9" fill="#444" text-anchor="middle" >10<tspan font-size="1.8" dy="-1">3</tspan></text>
<line x1="525.5" y1="330.5" x2="525.5" y2="331.7" stroke="#333" stroke-width="0.4" />
<text class="S" x="525.5" y="335.5" font-size="2.9" fill="#444" text-anchor="middle" >10<tspan font-size="1.8" dy="-1">4</tspan></text>
<line x1="545.5" y1="330.5" x2="545.5" y2="331.7" stroke="#333" stroke-width="0.4" />
<text class="S" x="545.5" y="335.5" font-size="2.9" fill="#444" text-anchor="middle" >10<tspan font-size="1.8" dy="-1">5</tspan></text>
<path d="M472.3 330.5v0.7M474.5 330.5v0.7M476.7 330.5v0.7M478.9 330.5v0.7M481.1 330.5v0.7M483.3 330.5v0.7M485.5 330.5v0.7M487.7 330.5v0.7M489.9 330.5v0.7M492.1 330.5v0.7M494.3 330.5v0.7M496.5 330.5v0.7M498.7 330.5v0.7M500.9 330.5v0.7M503.1 330.5v0.7M505.3 330.5v0.7M507.5 330.5v0.7M509.7 330.5v0.7M511.9 330.5v0.7M514.1 330.5v0.7M516.3 330.5v0.7M518.5 330.5v0.7M520.7 330.5v0.7M522.9 330.5v0.7M525.1 330.5v0.7M527.3 330.5v0.7M529.5 330.5v0.7M531.7 330.5v0.7M533.9 330.5v0.7M536.1 330.5v0.7M538.3 330.5v0.7M540.5 330.5v0.7M542.7 330.5v0.7M544.9 330.5v0.7M547.1 330.5v0.7" stroke="#555" stroke-width="0.3"/>
<text class="S" x="515" y="344.2" font-size="7" font-weight="bold" text-anchor="middle" >FITC</text>
<line x1="554.3" y1="248.9" x2="563.8" y2="248.9" stroke="#3a75c8" stroke-width="1.6" />
<line x1="554.3" y1="259.6" x2="563.8" y2="259.6" stroke="#f01010" stroke-width="1.6" />
<text class="S" x="566.8" y="251.3" font-size="6.6" fill="#3a75c8" font-weight="bold" font-style="italic" >STOM<tspan font-size="4" dy="-2.4">-/-</tspan></text>
<text class="S" x="566.8" y="262" font-size="6.6" fill="#f01010" font-weight="bold" >WT</text>
<rect x="629.8" y="278.1" width="12.2" height="52.1" fill="#e31a1c" />
<line x1="635.9" y1="275.1" x2="635.9" y2="278.1" stroke="#e31a1c" stroke-width="0.7" />
<line x1="633.7" y1="275.1" x2="638.1" y2="275.1" stroke="#e31a1c" stroke-width="0.7" />
<circle cx="635.9" cy="279.6" r="1.3" fill="#000"/>
<circle cx="635.9" cy="275.6" r="1.3" fill="#000"/>
<circle cx="633.1" cy="278.1" r="1.3" fill="#000"/>
<rect x="648" y="302.4" width="12.4" height="27.8" fill="#3a7dbf" />
<line x1="654.2" y1="301.9" x2="654.2" y2="302.4" stroke="#3a7dbf" stroke-width="0.7" />
<line x1="652" y1="301.9" x2="656.4" y2="301.9" stroke="#3a7dbf" stroke-width="0.7" />
<circle cx="654.2" cy="301.9" r="1.3" fill="#000"/>
<circle cx="651.4" cy="301.9" r="1.3" fill="#000"/>
<circle cx="657" cy="301.9" r="1.3" fill="#000"/>
<line x1="623.9" y1="330.2" x2="623.9" y2="255.5" stroke="#222" stroke-width="0.9" />
<line x1="623.9" y1="330.2" x2="667.3" y2="330.2" stroke="#222" stroke-width="0.9" />
<line x1="621.3" y1="330.2" x2="623.9" y2="330.2" stroke="#222" stroke-width="0.81" />
<text class="S" x="620.7" y="332.2" font-size="5.6" fill="#222" font-weight="bold" text-anchor="end" letter-spacing="0.35">0.0</text>
<line x1="621.3" y1="305.4" x2="623.9" y2="305.4" stroke="#222" stroke-width="0.81" />
<text class="S" x="620.7" y="307.4" font-size="5.6" fill="#222" font-weight="bold" text-anchor="end" letter-spacing="0.35">0.5</text>
<line x1="621.3" y1="280.6" x2="623.9" y2="280.6" stroke="#222" stroke-width="0.81" />
<text class="S" x="620.7" y="282.6" font-size="5.6" fill="#222" font-weight="bold" text-anchor="end" letter-spacing="0.35">1.0</text>
<line x1="621.3" y1="255.8" x2="623.9" y2="255.8" stroke="#222" stroke-width="0.81" />
<text class="S" x="620.7" y="257.8" font-size="5.6" fill="#222" font-weight="bold" text-anchor="end" letter-spacing="0.35">1.5</text>
<line x1="635.9" y1="330.2" x2="635.9" y2="332.8" stroke="#222" stroke-width="0.81" />
<line x1="654.2" y1="330.2" x2="654.2" y2="332.8" stroke="#222" stroke-width="0.81" />
<line x1="634.7" y1="267.5" x2="652.5" y2="267.5" stroke="#111" stroke-width="0.9" />
<text class="S" x="643.6" y="265.1" font-size="5.0" fill="#111" font-weight="bold" text-anchor="middle" >p=0.0001</text>
<text class="R" x="597" y="292.6" font-size="8.2" font-weight="bold" text-anchor="middle" transform="rotate(-90 597 292.6)">Relative fluorescence</text>
<text class="R" x="606.3" y="292.6" font-size="8.2" font-weight="bold" text-anchor="middle" transform="rotate(-90 606.3 292.6)">indensity of ROS</text>
<text class="R" x="635.9" y="340" font-size="6" text-anchor="middle" >WT</text>
<text class="R" x="654" y="340" font-size="6" text-anchor="middle" font-style="italic" >STOM<tspan font-size="3.6" dy="-2.4">-/-</tspan></text>
<text class="S" x="1.3" y="372.5" font-size="11.5" font-weight="bold" >I</text>
<rect x="12.5" y="378.4" width="89.7" height="89.7" fill="#fff" stroke="#555" stroke-width="0.6"/>
<path d="M42.5 408.4C42.8 407.6 43.4 404.9 44.1 403.6C44.8 402.3 45.7 401.2 46.5 400.4C47.3 399.6 48 399.3 49 398.8C50 398.3 51.3 397.2 52.2 397.2C53.1 397.2 53.7 397.9 54.6 398.8C55.5 399.7 56.7 401.7 57.8 402.8C58.9 403.9 59.7 404.9 61 405.7C62.3 406.4 64.2 406.9 65.8 407.3C67.4 407.7 68.7 408 70.6 408.2C72.5 408.4 75.9 408.4 77 408.4Z" fill="#96dc96" stroke="none"/>
<line x1="12.5" y1="408.4" x2="102.2" y2="408.4" stroke="#2db82d" stroke-width="0.6" />
<path d="M42.5 408.4C42.8 407.6 43.4 404.9 44.1 403.6C44.8 402.3 45.7 401.2 46.5 400.4C47.3 399.6 48 399.3 49 398.8C50 398.3 51.3 397.2 52.2 397.2C53.1 397.2 53.7 397.9 54.6 398.8C55.5 399.7 56.7 401.7 57.8 402.8C58.9 403.9 59.7 404.9 61 405.7C62.3 406.4 64.2 406.9 65.8 407.3C67.4 407.7 68.7 408 70.6 408.2C72.5 408.4 75.9 408.4 77 408.4" fill="none" stroke="#2db82d" stroke-width="0.9" stroke-linejoin="round"/>
<path d="M40.9 438.1C41.1 436 41.8 429.1 42.1 425.3C42.5 421.6 42.7 417.4 43 415.6C43.3 413.9 43.8 414 44.1 414.8C44.4 415.6 44.5 418.1 44.9 420.4C45.3 422.7 45.7 426.2 46.5 428.5C47.3 430.8 48.7 432.8 49.8 434.1C50.9 435.4 51.7 436 53 436.5C54.3 437 55.4 437 57.8 437.3C60.2 437.6 65.8 438 67.4 438.1Z" fill="#8cc0f0" stroke="none"/>
<line x1="12.5" y1="438.1" x2="102.2" y2="438.1" stroke="#1f7fe0" stroke-width="0.6" />
<path d="M40.9 438.1C41.1 436 41.8 429.1 42.1 425.3C42.5 421.6 42.7 417.4 43 415.6C43.3 413.9 43.8 414 44.1 414.8C44.4 415.6 44.5 418.1 44.9 420.4C45.3 422.7 45.7 426.2 46.5 428.5C47.3 430.8 48.7 432.8 49.8 434.1C50.9 435.4 51.7 436 53 436.5C54.3 437 55.4 437 57.8 437.3C60.2 437.6 65.8 438 67.4 438.1" fill="none" stroke="#1f7fe0" stroke-width="0.9" stroke-linejoin="round"/>
<path d="M40.9 468.1C41.2 466.9 41.8 464 42.5 460.6C43.2 457.2 44.2 450.8 44.9 447.7C45.6 444.6 46 443.2 46.5 442.1C47 441 47.3 441.2 47.7 441.3C48.1 441.4 48.5 441.6 49 442.9C49.5 444.2 49.9 446.4 50.6 449.3C51.3 452.2 52.1 457.8 53 460.6C53.9 463.4 54.9 464.9 56.2 466.2C57.5 467.4 60.2 467.8 61 468.1Z" fill="#f39a9a" stroke="none"/>
<line x1="12.5" y1="468.1" x2="102.2" y2="468.1" stroke="#f01010" stroke-width="0.6" />
<path d="M40.9 468.1C41.2 466.9 41.8 464 42.5 460.6C43.2 457.2 44.2 450.8 44.9 447.7C45.6 444.6 46 443.2 46.5 442.1C47 441 47.3 441.2 47.7 441.3C48.1 441.4 48.5 441.6 49 442.9C49.5 444.2 49.9 446.4 50.6 449.3C51.3 452.2 52.1 457.8 53 460.6C53.9 463.4 54.9 464.9 56.2 466.2C57.5 467.4 60.2 467.8 61 468.1" fill="none" stroke="#f01010" stroke-width="0.9" stroke-linejoin="round"/>
<line x1="22" y1="468.1" x2="22" y2="469.3" stroke="#333" stroke-width="0.4" />
<text class="S" x="22" y="474.8" font-size="2.9" fill="#444" text-anchor="middle" >-10<tspan font-size="1.8" dy="-1">3</tspan></text>
<line x1="44.3" y1="468.1" x2="44.3" y2="469.3" stroke="#333" stroke-width="0.4" />
<text class="S" x="44.3" y="474.8" font-size="2.9" fill="#444" text-anchor="middle" >0</text>
<line x1="66.5" y1="468.1" x2="66.5" y2="469.3" stroke="#333" stroke-width="0.4" />
<text class="S" x="66.5" y="474.8" font-size="2.9" fill="#444" text-anchor="middle" >10<tspan font-size="1.8" dy="-1">3</tspan></text>
<line x1="80" y1="468.1" x2="80" y2="469.3" stroke="#333" stroke-width="0.4" />
<line x1="95" y1="468.1" x2="95" y2="469.3" stroke="#333" stroke-width="0.4" />
<path d="M15.5 468.1v0.7M17.7 468.1v0.7M19.9 468.1v0.7M22.1 468.1v0.7M24.3 468.1v0.7M26.5 468.1v0.7M28.7 468.1v0.7M30.9 468.1v0.7M33.1 468.1v0.7M35.3 468.1v0.7M37.5 468.1v0.7M39.7 468.1v0.7M41.9 468.1v0.7M44.1 468.1v0.7M46.3 468.1v0.7M48.5 468.1v0.7M50.7 468.1v0.7M52.9 468.1v0.7M55.1 468.1v0.7M57.3 468.1v0.7M59.5 468.1v0.7M61.7 468.1v0.7M63.9 468.1v0.7M66.1 468.1v0.7M68.3 468.1v0.7M70.5 468.1v0.7M72.7 468.1v0.7M74.9 468.1v0.7M77.1 468.1v0.7M79.3 468.1v0.7M81.5 468.1v0.7M83.7 468.1v0.7M85.9 468.1v0.7M88.1 468.1v0.7M90.3 468.1v0.7M92.5 468.1v0.7M94.7 468.1v0.7M96.9 468.1v0.7" stroke="#555" stroke-width="0.3"/>
<text class="S" x="57.8" y="486" font-size="7" font-weight="bold" text-anchor="middle" >FITC</text>
<line x1="105.6" y1="361.5" x2="115.1" y2="361.5" stroke="#1fb84a" stroke-width="1.6" />
<text class="S" x="117.2" y="359.8" font-size="6.2" fill="#1fb84a" font-weight="bold" >siSTOM+OE-STOM</text>
<text class="S" x="117.2" y="367.3" font-size="6.2" fill="#1fb84a" font-weight="bold" >+RANKL</text>
<line x1="105.6" y1="372.5" x2="115.1" y2="372.5" stroke="#3a75c8" stroke-width="1.6" />
<text class="S" x="117.2" y="374.7" font-size="6.2" fill="#3a75c8" font-weight="bold" >siSTOM+RANKL</text>
<line x1="105.6" y1="383.7" x2="115.1" y2="383.7" stroke="#f01010" stroke-width="1.6" />
<text class="S" x="117.2" y="386" font-size="6.2" fill="#f01010" font-weight="bold" >RANKL</text>
<rect x="179" y="420.4" width="14.9" height="32.6" fill="#e31a1c" />
<line x1="186.4" y1="419.7" x2="186.4" y2="420.4" stroke="#e31a1c" stroke-width="0.7" />
<line x1="184.2" y1="419.7" x2="188.6" y2="419.7" stroke="#e31a1c" stroke-width="0.7" />
<circle cx="186.4" cy="421" r="1.15" fill="#000"/>
<circle cx="184" cy="420" r="1.15" fill="#000"/>
<circle cx="188.9" cy="420" r="1.15" fill="#000"/>
<rect x="200.4" y="432.2" width="14.6" height="20.8" fill="#3a7dbf" />
<line x1="207.7" y1="430.6" x2="207.7" y2="432.2" stroke="#3a7dbf" stroke-width="0.7" />
<line x1="205.5" y1="430.6" x2="209.9" y2="430.6" stroke="#3a7dbf" stroke-width="0.7" />
<circle cx="207.7" cy="433.8" r="1.15" fill="#000"/>
<circle cx="207.7" cy="430" r="1.15" fill="#000"/>
<circle cx="205.2" cy="432.2" r="1.15" fill="#000"/>
<rect x="222" y="397.6" width="14.8" height="55.4" fill="#4cae4a" />
<line x1="229.4" y1="395.1" x2="229.4" y2="397.6" stroke="#4cae4a" stroke-width="0.7" />
<line x1="227.2" y1="395.1" x2="231.6" y2="395.1" stroke="#4cae4a" stroke-width="0.7" />
<circle cx="229.4" cy="400.2" r="1.15" fill="#000"/>
<circle cx="229.4" cy="395.4" r="1.15" fill="#000"/>
<circle cx="229.4" cy="397.6" r="1.15" fill="#000"/>
<line x1="172.3" y1="453" x2="172.3" y2="388.8" stroke="#222" stroke-width="0.9" />
<line x1="172.3" y1="453" x2="240" y2="453" stroke="#222" stroke-width="0.9" />
<line x1="169.7" y1="453" x2="172.3" y2="453" stroke="#222" stroke-width="0.81" />
<text class="S" x="169.1" y="454.6" font-size="4.4" fill="#222" font-weight="bold" text-anchor="end" letter-spacing="0.25">0.0</text>
<line x1="169.7" y1="437" x2="172.3" y2="437" stroke="#222" stroke-width="0.81" />
<text class="S" x="169.1" y="438.6" font-size="4.4" fill="#222" font-weight="bold" text-anchor="end" letter-spacing="0.25">0.5</text>
<line x1="169.7" y1="421" x2="172.3" y2="421" stroke="#222" stroke-width="0.81" />
<text class="S" x="169.1" y="422.6" font-size="4.4" fill="#222" font-weight="bold" text-anchor="end" letter-spacing="0.25">1.0</text>
<line x1="169.7" y1="405" x2="172.3" y2="405" stroke="#222" stroke-width="0.81" />
<text class="S" x="169.1" y="406.6" font-size="4.4" fill="#222" font-weight="bold" text-anchor="end" letter-spacing="0.25">1.5</text>
<line x1="169.7" y1="389" x2="172.3" y2="389" stroke="#222" stroke-width="0.81" />
<text class="S" x="169.1" y="390.6" font-size="4.4" fill="#222" font-weight="bold" text-anchor="end" letter-spacing="0.25">2.0</text>
<line x1="186.4" y1="453" x2="186.4" y2="455.6" stroke="#222" stroke-width="0.81" />
<line x1="207.7" y1="453" x2="207.7" y2="455.6" stroke="#222" stroke-width="0.81" />
<line x1="229.4" y1="453" x2="229.4" y2="455.6" stroke="#222" stroke-width="0.81" />
<line x1="186.1" y1="388.8" x2="205" y2="388.8" stroke="#111" stroke-width="0.9" />
<text class="S" x="195.6" y="386.9" font-size="4.4" fill="#111" font-weight="bold" text-anchor="middle" >p=0.0004</text>
<line x1="207.2" y1="388.8" x2="226.2" y2="388.8" stroke="#111" stroke-width="0.9" />
<text class="S" x="216.7" y="386.9" font-size="4.4" fill="#111" font-weight="bold" text-anchor="middle" >p &lt; 0.0001</text>
<text class="R" x="149" y="420.7" font-size="7.3" font-weight="bold" text-anchor="middle" transform="rotate(-90 149 420.7)">Relative fluorescence</text>
<text class="R" x="157.5" y="420.7" font-size="7.3" font-weight="bold" text-anchor="middle" transform="rotate(-90 157.5 420.7)">indensity of ROS</text>
<g transform="translate(188.1 463.5) rotate(-45)"><text class="R" x="0" y="0" font-size="5.9" text-anchor="end" >RANKL</text></g>
<g transform="translate(209.4 463.5) rotate(-45)"><text class="R" x="0" y="0" font-size="5.9" text-anchor="end" >RANKL+siSTOM</text></g>
<g transform="translate(231.1 463.5) rotate(-45)"><text class="R" x="0" y="0" font-size="5.9" text-anchor="end" >RANKL+siSTOM</text><text class="R" x="-21.9" y="6.8" font-size="5.9" text-anchor="middle" >+OE-STOM</text></g>
<defs><filter id="spJ" x="0" y="0" width="1" height="1" color-interpolation-filters="sRGB"><feTurbulence type="fractalNoise" baseFrequency="0.55" numOctaves="1" seed="7"/><feColorMatrix type="matrix" values="0 0 0 0 0.290 0 0 0 0 0.165 0 0 0 0 0.314 9 0 0 0 -5.9"/></filter><filter id="spJ2" x="0" y="0" width="1" height="1" color-interpolation-filters="sRGB"><feTurbulence type="fractalNoise" baseFrequency="0.55" numOctaves="2" seed="9"/><feColorMatrix type="matrix" values="1 0 0 0 0 0 1 0 0 0 0 0 1 0 0 0 0 0 0 1" result="a"/><feTurbulence type="fractalNoise" baseFrequency="0.08" numOctaves="2" seed="109"/><feColorMatrix type="matrix" values="1 0 0 0 0 0 1 0 0 0 0 0 1 0 0 0 0 0 0 1" result="b"/><feComposite in="a" in2="b" operator="arithmetic" k1="0" k2="1" k3="0.45" k4="-0.225"/><feColorMatrix type="matrix" values="0 0 0 0 0.333 0 0 0 0 0.208 0 0 0 0 0.333 6 0 0 0 -3.599"/></filter><filter id="spJp" x="0" y="0" width="1" height="1" color-interpolation-filters="sRGB"><feTurbulence type="fractalNoise" baseFrequency="0.12" numOctaves="2" seed="3"/><feColorMatrix type="matrix" values="0 0 0 0 0.812 0 0 0 0 0.549 0 0 0 0 0.784 3 0 0 0 -1.5"/><feComponentTransfer><feFuncA type="linear" slope="0.18"/></feComponentTransfer></filter><filter id="mot" x="0" y="0" width="1" height="1" color-interpolation-filters="sRGB"><feTurbulence type="fractalNoise" baseFrequency="0.45" numOctaves="2" seed="5"/><feColorMatrix type="matrix" values="1 0 0 0 0 0 1 0 0 0 0 0 1 0 0 0 0 0 0 1" result="a"/><feTurbulence type="fractalNoise" baseFrequency="0.1" numOctaves="2" seed="105"/><feColorMatrix type="matrix" values="1 0 0 0 0 0 1 0 0 0 0 0 1 0 0 0 0 0 0 1" result="b"/><feComposite in="a" in2="b" operator="arithmetic" k1="0" k2="1" k3="0.4" k4="-0.2"/><feColorMatrix type="matrix" values="0 0 0 0 0.690 0 0 0 0 0.376 0 0 0 0 0.659 3 0 0 0 -1.253"/><feComponentTransfer><feFuncA type="linear" slope="0.4"/></feComponentTransfer></filter><filter id="bJ" x="-20%" y="-20%" width="140%" height="140%"><feGaussianBlur stdDeviation="0.6"/></filter><clipPath id="cJ1"><rect x="269.3" y="394.5" width="98.7" height="73.9"/></clipPath><clipPath id="cJ2"><rect x="371" y="394.5" width="98.3" height="73.9"/></clipPath><clipPath id="cJ3"><rect x="472.4" y="394.5" width="98.6" height="73.9"/></clipPath></defs>
<rect x="269.3" y="394.5" width="98.7" height="73.9" fill="#fcf9fb" />
<g clip-path="url(#cJ1)">
<rect x="269.3" y="394.5" width="98.7" height="73.9" fill="#000" filter="url(#spJ2)"/>
<defs><clipPath id="cJ1c"><path d="M272.1 417.3C273.5 415.4 278.5 415.6 281.3 415.8C284.1 416.1 287.3 416.1 289 418.8C290.7 421.5 291.3 428.2 291.3 431.9C291.3 435.6 290.7 439.3 289 441.1C287.3 442.9 283.7 443.1 281.3 442.6C278.9 442.1 275.8 440.6 274.4 438C273 435.4 273.3 430.8 272.9 427.3C272.5 423.9 270.7 419.2 272.1 417.3Z"/><path d="M293.6 402.7C294.8 399.6 297.3 397.8 299 398.1C300.7 398.4 301.4 402.2 303.6 404.3C305.8 406.4 310.5 408 312 410.4C313.5 412.8 313.3 415.9 312.8 418.8C312.3 421.7 310.9 426.1 309 428C307.1 429.9 303.9 430.4 301.3 430.3C298.7 430.2 295.1 429.6 293.6 427.3C292.1 425 292.1 420.6 292.1 416.5C292.1 412.4 292.5 405.8 293.6 402.7Z"/><path d="M305.9 395.8C307.8 394.3 315.4 393.7 318.1 395.1C320.8 396.5 322 401.8 322 404.3C322 406.9 319.8 409.9 318.1 410.4C316.4 410.9 313.9 408.3 312 407.3C310.1 406.3 307.6 406.2 306.6 404.3C305.6 402.4 304 397.3 305.9 395.8Z"/><path d="M315.1 413.5C317.5 411.1 324.2 410.7 327.3 411.2C330.4 411.7 331.7 413.6 333.5 416.5C335.3 419.4 337.3 424.7 338.1 428.8C338.9 432.9 339.4 437.8 338.1 441.1C336.8 444.4 333.5 447.2 330.4 448.7C327.3 450.2 322.2 452.1 319.7 450.3C317.1 448.5 316.2 442.1 315.1 438C314 433.9 312.8 429.8 312.8 425.7C312.8 421.6 312.7 415.9 315.1 413.5Z"/><path d="M292.8 436.5C294.9 434.3 302.4 433.9 305.9 434.2C309.3 434.4 311.9 435.3 313.5 438C315.1 440.7 316.1 447 315.8 450.3C315.6 453.6 313.9 456.3 312 458C310.1 459.7 306.7 460.3 304.3 460.3C301.9 460.3 299.2 460.2 297.4 458C295.6 455.8 294.4 450.8 293.6 447.2C292.8 443.6 290.8 438.7 292.8 436.5Z"/><path d="M345.8 448.7C347.3 444.6 351.7 445.9 355 445.7C358.3 445.4 363.4 446.1 365.7 447.2C368 448.2 368.4 448.2 369 452C369.6 455.8 372.9 467 369 470C365.1 473 349.7 473.6 345.8 470C341.9 466.4 344.3 452.8 345.8 448.7Z"/></clipPath></defs>
<path d="M272.1 417.3C273.5 415.4 278.5 415.6 281.3 415.8C284.1 416.1 287.3 416.1 289 418.8C290.7 421.5 291.3 428.2 291.3 431.9C291.3 435.6 290.7 439.3 289 441.1C287.3 442.9 283.7 443.1 281.3 442.6C278.9 442.1 275.8 440.6 274.4 438C273 435.4 273.3 430.8 272.9 427.3C272.5 423.9 270.7 419.2 272.1 417.3Z" fill="#e2b8dc" stroke="#8a5a90" stroke-width="0.9"/>
<path d="M293.6 402.7C294.8 399.6 297.3 397.8 299 398.1C300.7 398.4 301.4 402.2 303.6 404.3C305.8 406.4 310.5 408 312 410.4C313.5 412.8 313.3 415.9 312.8 418.8C312.3 421.7 310.9 426.1 309 428C307.1 429.9 303.9 430.4 301.3 430.3C298.7 430.2 295.1 429.6 293.6 427.3C292.1 425 292.1 420.6 292.1 416.5C292.1 412.4 292.5 405.8 293.6 402.7Z" fill="#e2b8dc" stroke="#5a2060" stroke-width="0.9"/>
<path d="M305.9 395.8C307.8 394.3 315.4 393.7 318.1 395.1C320.8 396.5 322 401.8 322 404.3C322 406.9 319.8 409.9 318.1 410.4C316.4 410.9 313.9 408.3 312 407.3C310.1 406.3 307.6 406.2 306.6 404.3C305.6 402.4 304 397.3 305.9 395.8Z" fill="#e2b8dc" stroke="#8a5a90" stroke-width="0.9"/>
<path d="M315.1 413.5C317.5 411.1 324.2 410.7 327.3 411.2C330.4 411.7 331.7 413.6 333.5 416.5C335.3 419.4 337.3 424.7 338.1 428.8C338.9 432.9 339.4 437.8 338.1 441.1C336.8 444.4 333.5 447.2 330.4 448.7C327.3 450.2 322.2 452.1 319.7 450.3C317.1 448.5 316.2 442.1 315.1 438C314 433.9 312.8 429.8 312.8 425.7C312.8 421.6 312.7 415.9 315.1 413.5Z" fill="#e2b8dc" stroke="#7a4a80" stroke-width="0.9"/>
<path d="M292.8 436.5C294.9 434.3 302.4 433.9 305.9 434.2C309.3 434.4 311.9 435.3 313.5 438C315.1 440.7 316.1 447 315.8 450.3C315.6 453.6 313.9 456.3 312 458C310.1 459.7 306.7 460.3 304.3 460.3C301.9 460.3 299.2 460.2 297.4 458C295.6 455.8 294.4 450.8 293.6 447.2C292.8 443.6 290.8 438.7 292.8 436.5Z" fill="#e2b8dc" stroke="#5a2060" stroke-width="0.9"/>
<path d="M345.8 448.7C347.3 444.6 351.7 445.9 355 445.7C358.3 445.4 363.4 446.1 365.7 447.2C368 448.2 368.4 448.2 369 452C369.6 455.8 372.9 467 369 470C365.1 473 349.7 473.6 345.8 470C341.9 466.4 344.3 452.8 345.8 448.7Z" fill="#e2b8dc" stroke="#9a6aa0" stroke-width="0.9"/>
<g clip-path="url(#cJ1c)"><rect x="269.3" y="394.5" width="98.7" height="73.9" fill="#000" filter="url(#mot)"/></g>
<circle cx="281" cy="420" r="1.8" fill="#7a3a80" filter="url(#bJ)"/>
<circle cx="282" cy="432" r="2" fill="#7a3a80" filter="url(#bJ)"/>
<circle cx="283" cy="438" r="2.2" fill="#7a3a80" filter="url(#bJ)"/>
<circle cx="300" cy="410" r="1.8" fill="#7a3a80" filter="url(#bJ)"/>
<circle cx="296" cy="425" r="1.6" fill="#7a3a80" filter="url(#bJ)"/>
<circle cx="324" cy="420" r="1.8" fill="#7a3a80" filter="url(#bJ)"/>
<circle cx="320" cy="431" r="2" fill="#7a3a80" filter="url(#bJ)"/>
<circle cx="332" cy="433" r="2" fill="#7a3a80" filter="url(#bJ)"/>
<circle cx="330" cy="444" r="1.8" fill="#7a3a80" filter="url(#bJ)"/>
<circle cx="304" cy="447" r="1.8" fill="#7a3a80" filter="url(#bJ)"/>
<circle cx="304" cy="458" r="1.6" fill="#7a3a80" filter="url(#bJ)"/>
<circle cx="293.5" cy="420" r="1.5" fill="#7a3a80" filter="url(#bJ)"/>
</g>
<rect x="371" y="394.5" width="98.3" height="73.9" fill="#fcf7f6" />
<g clip-path="url(#cJ2)">
<rect x="371" y="394.5" width="98.3" height="73.9" fill="#000" filter="url(#spJp)"/>
<rect x="371" y="394.5" width="98.3" height="73.9" fill="#000" filter="url(#spJ2)"/>
<ellipse cx="396.7" cy="406.4" rx="4" ry="6.2" fill="#d79ad0" filter="url(#bJ)"/>
<ellipse cx="398.5" cy="429" rx="2.5" ry="2.5" fill="#a05aa0" filter="url(#bJ)"/>
<ellipse cx="420" cy="425" rx="2" ry="2" fill="#a05aa0" filter="url(#bJ)"/>
<ellipse cx="436" cy="417" rx="3" ry="2.5" fill="#e0b0dc" filter="url(#bJ)"/>
<ellipse cx="437" cy="462" rx="2" ry="1.5" fill="#7a3a7a" filter="url(#bJ)"/>
</g>
<rect x="472.4" y="394.5" width="98.6" height="73.9" fill="#fcf8f7" />
<g clip-path="url(#cJ3)">
<rect x="472.4" y="394.5" width="98.6" height="73.9" fill="#000" filter="url(#spJ2)"/>
<defs><clipPath id="cJ3c"><path d="M483.8 396C487.6 394.8 502.9 393.9 506.8 395.8C510.7 397.7 509.8 405.3 507 407.3C504.2 409.3 493.8 408.7 490 408C486.2 407.3 485 405 484 403C483 401 480 397.2 483.8 396Z"/><path d="M506.8 405.8C508.5 403.2 510.4 397.9 516 396.6C521.6 395.3 536.2 396.8 540.6 398.1C545 399.4 543.1 401 542.1 404.3C541.1 407.6 537.2 415.4 534.4 418.1C531.6 420.8 529.3 420.1 525.2 420.4C521.1 420.6 513.1 421 509.9 419.6C506.7 418.2 506.5 414.3 506 412C505.5 409.7 505.1 408.4 506.8 405.8Z"/><path d="M510 424C513.2 422.2 523.3 420 527 421C530.7 422 532 426.8 532 430C532 433.2 530.3 438.2 527 440C523.7 441.8 515.2 442.3 512 441C508.8 439.7 508.3 434.8 508 432C507.7 429.2 506.8 425.8 510 424Z"/><path d="M528.3 427.3C531.2 423.6 539.2 421.4 543.6 420.4C548 419.4 552.5 418.7 554.4 421.1C556.3 423.5 555.6 431.6 555.1 434.9C554.6 438.2 551.7 438 551.3 441.1C550.9 444.2 553.8 450.5 552.8 453.3C551.8 456.1 548.3 456.4 545.2 458C542.1 459.6 537.5 463.6 534.4 462.6C531.3 461.6 528.1 455.1 526.7 451.8C525.3 448.5 525.7 446.7 526 442.6C526.3 438.5 525.4 431 528.3 427.3Z"/><path d="M551.5 441C551.5 439.4 553.6 437.1 556 436.5C558.4 435.9 563.8 436.6 566 437.5C568.2 438.4 569 440.6 569 442C569 443.4 568.2 445 566 445.7C563.8 446.4 558.4 446.8 556 446C553.6 445.2 551.5 442.6 551.5 441Z"/><path d="M470 429C471.3 425.1 475.5 427.8 478 428.8C480.5 429.8 483.6 432.3 485 435C486.4 437.7 486.8 442.2 486.1 445C485.4 447.8 483.7 450.6 481 451.8C478.3 453 471.8 455.8 470 452C468.2 448.2 468.7 432.9 470 429Z"/><path d="M505.3 462C506.5 459.7 508.9 458.5 512 458C515.1 457.5 521.3 457.7 524 459C526.7 460.3 527.6 463.8 528.3 466C529 468.2 531.9 471 528 472C524.1 473 508.8 473.7 505 472C501.2 470.3 504.1 464.3 505.3 462Z"/></clipPath></defs>
<path d="M483.8 396C487.6 394.8 502.9 393.9 506.8 395.8C510.7 397.7 509.8 405.3 507 407.3C504.2 409.3 493.8 408.7 490 408C486.2 407.3 485 405 484 403C483 401 480 397.2 483.8 396Z" fill="#e8bfe0" stroke="#c898c4" stroke-width="0.5"/>
<path d="M506.8 405.8C508.5 403.2 510.4 397.9 516 396.6C521.6 395.3 536.2 396.8 540.6 398.1C545 399.4 543.1 401 542.1 404.3C541.1 407.6 537.2 415.4 534.4 418.1C531.6 420.8 529.3 420.1 525.2 420.4C521.1 420.6 513.1 421 509.9 419.6C506.7 418.2 506.5 414.3 506 412C505.5 409.7 505.1 408.4 506.8 405.8Z" fill="#e8bfe0" stroke="#c898c4" stroke-width="0.5"/>
<path d="M510 424C513.2 422.2 523.3 420 527 421C530.7 422 532 426.8 532 430C532 433.2 530.3 438.2 527 440C523.7 441.8 515.2 442.3 512 441C508.8 439.7 508.3 434.8 508 432C507.7 429.2 506.8 425.8 510 424Z" fill="#e8bfe0" stroke="#c898c4" stroke-width="0.5"/>
<path d="M528.3 427.3C531.2 423.6 539.2 421.4 543.6 420.4C548 419.4 552.5 418.7 554.4 421.1C556.3 423.5 555.6 431.6 555.1 434.9C554.6 438.2 551.7 438 551.3 441.1C550.9 444.2 553.8 450.5 552.8 453.3C551.8 456.1 548.3 456.4 545.2 458C542.1 459.6 537.5 463.6 534.4 462.6C531.3 461.6 528.1 455.1 526.7 451.8C525.3 448.5 525.7 446.7 526 442.6C526.3 438.5 525.4 431 528.3 427.3Z" fill="#e8bfe0" stroke="#c898c4" stroke-width="0.5"/>
<path d="M551.5 441C551.5 439.4 553.6 437.1 556 436.5C558.4 435.9 563.8 436.6 566 437.5C568.2 438.4 569 440.6 569 442C569 443.4 568.2 445 566 445.7C563.8 446.4 558.4 446.8 556 446C553.6 445.2 551.5 442.6 551.5 441Z" fill="#e8bfe0" stroke="#c898c4" stroke-width="0.5"/>
<path d="M470 429C471.3 425.1 475.5 427.8 478 428.8C480.5 429.8 483.6 432.3 485 435C486.4 437.7 486.8 442.2 486.1 445C485.4 447.8 483.7 450.6 481 451.8C478.3 453 471.8 455.8 470 452C468.2 448.2 468.7 432.9 470 429Z" fill="#e8bfe0" stroke="#c898c4" stroke-width="0.5"/>
<path d="M505.3 462C506.5 459.7 508.9 458.5 512 458C515.1 457.5 521.3 457.7 524 459C526.7 460.3 527.6 463.8 528.3 466C529 468.2 531.9 471 528 472C524.1 473 508.8 473.7 505 472C501.2 470.3 504.1 464.3 505.3 462Z" fill="#e8bfe0" stroke="#c898c4" stroke-width="0.5"/>
<g clip-path="url(#cJ3c)"><rect x="472.4" y="394.5" width="98.6" height="73.9" fill="#000" filter="url(#mot)"/></g>
<path d="M524 418Q531 415 537 410" stroke="#2a0a30" stroke-width="2.2" fill="none" filter="url(#bJ)"/>
<path d="M552 440Q556 443 560 444" stroke="#4a1a50" stroke-width="1.8" fill="none" filter="url(#bJ)"/>
</g>
<rect x="269.3" y="394.5" width="98.7" height="73.9" fill="none" stroke="#777" stroke-width="0.6"/>
<text class="S" x="367.2" y="457.9" font-size="5.8" font-weight="bold" text-anchor="end" >200&#956;m</text>
<line x1="353.2" y1="461.5" x2="365.2" y2="461.5" stroke="#000" stroke-width="1.2" />
<rect x="371" y="394.5" width="98.3" height="73.9" fill="none" stroke="#777" stroke-width="0.6"/>
<text class="S" x="468.5" y="457.9" font-size="5.8" font-weight="bold" text-anchor="end" >200&#956;m</text>
<line x1="454.5" y1="461.5" x2="466.5" y2="461.5" stroke="#000" stroke-width="1.2" />
<rect x="472.4" y="394.5" width="98.6" height="73.9" fill="none" stroke="#777" stroke-width="0.6"/>
<text class="S" x="570.2" y="457.9" font-size="5.8" font-weight="bold" text-anchor="end" >200&#956;m</text>
<line x1="556.2" y1="461.5" x2="568.2" y2="461.5" stroke="#000" stroke-width="1.2" />
<text class="S" x="254.6" y="373" font-size="11.5" font-weight="bold" >J</text>
<text class="S" x="321.4" y="383.7" font-size="9.4" font-weight="bold" text-anchor="middle" >RANKL</text>
<text class="S" x="419.5" y="378.8" font-size="9.4" font-weight="bold" text-anchor="middle" >siSTOM</text>
<text class="S" x="419.5" y="390.3" font-size="9.4" font-weight="bold" text-anchor="middle" >+RANKL</text>
<text class="S" x="518.5" y="378.7" font-size="9.4" font-weight="bold" text-anchor="middle" >siSTOM+OE-STOM</text>
<text class="S" x="525.7" y="390.2" font-size="9.4" font-weight="bold" text-anchor="middle" >+RANKL</text>
<rect x="615" y="411.3" width="12.5" height="47.5" fill="#e31a1c" />
<line x1="621.2" y1="405.6" x2="621.2" y2="411.3" stroke="#e31a1c" stroke-width="0.7" />
<line x1="619" y1="405.6" x2="623.5" y2="405.6" stroke="#e31a1c" stroke-width="0.7" />
<circle cx="621.2" cy="405.8" r="1.15" fill="#000"/>
<circle cx="621.2" cy="409.8" r="1.15" fill="#000"/>
<circle cx="621.2" cy="418" r="1.15" fill="#000"/>
<rect x="633.1" y="443.1" width="12.5" height="15.7" fill="#3a7dbf" />
<line x1="639.4" y1="440.5" x2="639.4" y2="443.1" stroke="#3a7dbf" stroke-width="0.7" />
<line x1="637.1" y1="440.5" x2="641.6" y2="440.5" stroke="#3a7dbf" stroke-width="0.7" />
<circle cx="639.4" cy="440.9" r="1.15" fill="#000"/>
<circle cx="639.4" cy="443.1" r="1.15" fill="#000"/>
<circle cx="639.4" cy="445.7" r="1.15" fill="#000"/>
<rect x="651.5" y="422.2" width="12.8" height="36.6" fill="#4cae4a" />
<line x1="657.9" y1="419.1" x2="657.9" y2="422.2" stroke="#4cae4a" stroke-width="0.7" />
<line x1="655.7" y1="419.1" x2="660.1" y2="419.1" stroke="#4cae4a" stroke-width="0.7" />
<circle cx="657.9" cy="419.6" r="1.15" fill="#000"/>
<circle cx="657.9" cy="422.2" r="1.15" fill="#000"/>
<circle cx="657.9" cy="424.4" r="1.15" fill="#000"/>
<line x1="608.3" y1="458.8" x2="608.3" y2="393.4" stroke="#222" stroke-width="0.9" />
<line x1="608.3" y1="458.8" x2="670.4" y2="458.8" stroke="#222" stroke-width="0.9" />
<line x1="606.1" y1="458.8" x2="608.3" y2="458.8" stroke="#222" stroke-width="0.81" />
<text class="S" x="605.5" y="460.5" font-size="4.6" fill="#222" font-weight="bold" text-anchor="end" letter-spacing="0.35">0</text>
<line x1="606.1" y1="437" x2="608.3" y2="437" stroke="#222" stroke-width="0.81" />
<text class="S" x="605.5" y="438.7" font-size="4.6" fill="#222" font-weight="bold" text-anchor="end" letter-spacing="0.35">50</text>
<line x1="606.1" y1="415.2" x2="608.3" y2="415.2" stroke="#222" stroke-width="0.81" />
<text class="S" x="605.5" y="416.9" font-size="4.6" fill="#222" font-weight="bold" text-anchor="end" letter-spacing="0.35">100</text>
<line x1="606.1" y1="393.4" x2="608.3" y2="393.4" stroke="#222" stroke-width="0.81" />
<text class="S" x="605.5" y="395.1" font-size="4.6" fill="#222" font-weight="bold" text-anchor="end" letter-spacing="0.35">150</text>
<line x1="621.2" y1="458.8" x2="621.2" y2="461" stroke="#222" stroke-width="0.81" />
<line x1="639.4" y1="458.8" x2="639.4" y2="461" stroke="#222" stroke-width="0.81" />
<line x1="657.9" y1="458.8" x2="657.9" y2="461" stroke="#222" stroke-width="0.81" />
<line x1="621.5" y1="393.6" x2="637" y2="393.6" stroke="#111" stroke-width="0.9" />
<text class="S" x="629.2" y="391.1" font-size="4.8" fill="#111" font-weight="bold" text-anchor="middle" >p=0.0002</text>
<line x1="642.3" y1="393.6" x2="658.7" y2="393.6" stroke="#111" stroke-width="0.9" />
<text class="S" x="650.5" y="391.1" font-size="4.8" fill="#111" font-weight="bold" text-anchor="middle" >p=0.0016</text>
<text class="R" x="594.4" y="425.5" font-size="8.9" font-weight="bold" text-anchor="middle" transform="rotate(-90 594.4 425.5)">Number of osteoclasts</text>
<g transform="translate(623 469.1) rotate(-45)"><text class="R" x="0" y="0" font-size="6.0" text-anchor="end" >RANKL</text></g>
<g transform="translate(641.1 469.1) rotate(-45)"><text class="R" x="0" y="0" font-size="6.0" text-anchor="end" >RANKL+siSTOM</text></g>
<g transform="translate(659.6 469.1) rotate(-45)"><text class="R" x="0" y="0" font-size="6.0" text-anchor="end" >RANKL+siSTOM</text><text class="R" x="-22.3" y="6.9" font-size="6.0" text-anchor="middle" >+OE-STOM</text></g>
<text class="S" x="2.5" y="498.2" font-size="11.5" font-weight="bold" >K</text>
<rect x="15.2" y="503.7" width="88.3" height="88.6" fill="#fff" stroke="#555" stroke-width="0.6"/>
<path d="M32.9 533.4C33 531.7 33.4 526.5 33.7 523C34.1 519.5 34.6 514.3 35 512.5C35.4 510.7 35.6 510.7 36.1 512.2C36.6 513.7 37 518.8 37.7 521.4C38.4 524 39.2 526.1 40.1 527.8C41 529.5 41.9 530.9 43.3 531.8C44.6 532.7 46.9 532.7 48.2 533C49.6 533.3 50.9 533.3 51.4 533.4Z" fill="#96dc96" stroke="none"/>
<line x1="15.2" y1="533.4" x2="103.5" y2="533.4" stroke="#2db82d" stroke-width="0.6" />
<path d="M32.9 533.4C33 531.7 33.4 526.5 33.7 523C34.1 519.5 34.6 514.3 35 512.5C35.4 510.7 35.6 510.7 36.1 512.2C36.6 513.7 37 518.8 37.7 521.4C38.4 524 39.2 526.1 40.1 527.8C41 529.5 41.9 530.9 43.3 531.8C44.6 532.7 46.9 532.7 48.2 533C49.6 533.3 50.9 533.3 51.4 533.4" fill="none" stroke="#2db82d" stroke-width="0.9" stroke-linejoin="round"/>
<path d="M32.9 562.8C33.1 561.2 33.6 556.2 34 553.5C34.4 550.8 34.9 546.4 35.3 546.7C35.7 547 36.1 553.3 36.6 555.1C37.1 556.9 37.8 557.2 38.5 557.5C39.2 557.8 40.1 556.7 40.9 557C41.7 557.3 42.1 558.4 43.3 559.1C44.5 559.8 46.1 560.8 48.2 561.2C50.4 561.7 53.5 561.8 56.2 561.8C58.9 561.8 62.6 561.6 64.2 561.5C65.8 561.4 65 561 65.8 561C66.6 561 66.8 561.5 69 561.8C71.2 562.1 77.1 562.6 78.7 562.8Z" fill="#8cc0f0" stroke="none"/>
<line x1="15.2" y1="562.8" x2="103.5" y2="562.8" stroke="#1f7fe0" stroke-width="0.6" />
<path d="M32.9 562.8C33.1 561.2 33.6 556.2 34 553.5C34.4 550.8 34.9 546.4 35.3 546.7C35.7 547 36.1 553.3 36.6 555.1C37.1 556.9 37.8 557.2 38.5 557.5C39.2 557.8 40.1 556.7 40.9 557C41.7 557.3 42.1 558.4 43.3 559.1C44.5 559.8 46.1 560.8 48.2 561.2C50.4 561.7 53.5 561.8 56.2 561.8C58.9 561.8 62.6 561.6 64.2 561.5C65.8 561.4 65 561 65.8 561C66.6 561 66.8 561.5 69 561.8C71.2 562.1 77.1 562.6 78.7 562.8" fill="none" stroke="#1f7fe0" stroke-width="0.9" stroke-linejoin="round"/>
<path d="M32.9 592.3C33.1 590.1 33.6 583.4 34 579.1C34.4 574.8 34.9 567.1 35.3 566.3C35.7 565.5 36.1 571.3 36.6 574.3C37.1 577.2 37.6 581.5 38.5 584C39.4 586.5 40.4 588.3 41.7 589.6C43 590.9 45.1 591.2 46.5 591.7C47.9 592.2 49.2 592.2 49.8 592.3Z" fill="#f39a9a" stroke="none"/>
<line x1="15.2" y1="592.3" x2="103.5" y2="592.3" stroke="#f01010" stroke-width="0.6" />
<path d="M32.9 592.3C33.1 590.1 33.6 583.4 34 579.1C34.4 574.8 34.9 567.1 35.3 566.3C35.7 565.5 36.1 571.3 36.6 574.3C37.1 577.2 37.6 581.5 38.5 584C39.4 586.5 40.4 588.3 41.7 589.6C43 590.9 45.1 591.2 46.5 591.7C47.9 592.2 49.2 592.2 49.8 592.3" fill="none" stroke="#f01010" stroke-width="0.9" stroke-linejoin="round"/>
<line x1="25.5" y1="592.3" x2="25.5" y2="593.5" stroke="#333" stroke-width="0.4" />
<text class="S" x="25.5" y="599.2" font-size="2.9" fill="#444" text-anchor="middle" >-10<tspan font-size="1.8" dy="-1">3</tspan></text>
<line x1="35.8" y1="592.3" x2="35.8" y2="593.5" stroke="#333" stroke-width="0.4" />
<text class="S" x="35.8" y="599.2" font-size="2.9" fill="#444" text-anchor="middle" >0</text>
<line x1="50" y1="592.3" x2="50" y2="593.5" stroke="#333" stroke-width="0.4" />
<text class="S" x="50" y="599.2" font-size="2.9" fill="#444" text-anchor="middle" >10<tspan font-size="1.8" dy="-1">3</tspan></text>
<line x1="74" y1="592.3" x2="74" y2="593.5" stroke="#333" stroke-width="0.4" />
<text class="S" x="74" y="599.2" font-size="2.9" fill="#444" text-anchor="middle" >10<tspan font-size="1.8" dy="-1">4</tspan></text>
<line x1="96" y1="592.3" x2="96" y2="593.5" stroke="#333" stroke-width="0.4" />
<text class="S" x="96" y="599.2" font-size="2.9" fill="#444" text-anchor="middle" >10<tspan font-size="1.8" dy="-1">5</tspan></text>
<path d="M18.2 592.3v0.7M20.4 592.3v0.7M22.6 592.3v0.7M24.8 592.3v0.7M27 592.3v0.7M29.2 592.3v0.7M31.4 592.3v0.7M33.6 592.3v0.7M35.8 592.3v0.7M38 592.3v0.7M40.2 592.3v0.7M42.4 592.3v0.7M44.6 592.3v0.7M46.8 592.3v0.7M49 592.3v0.7M51.2 592.3v0.7M53.4 592.3v0.7M55.6 592.3v0.7M57.8 592.3v0.7M60 592.3v0.7M62.2 592.3v0.7M64.4 592.3v0.7M66.6 592.3v0.7M68.8 592.3v0.7M71 592.3v0.7M73.2 592.3v0.7M75.4 592.3v0.7M77.6 592.3v0.7M79.8 592.3v0.7M82 592.3v0.7M84.2 592.3v0.7M86.4 592.3v0.7M88.6 592.3v0.7M90.8 592.3v0.7M93 592.3v0.7M95.2 592.3v0.7M97.4 592.3v0.7M99.6 592.3v0.7" stroke="#555" stroke-width="0.3"/>
<text class="S" x="57.8" y="612" font-size="7" font-weight="bold" text-anchor="middle" >FITC</text>
<line x1="107" y1="487" x2="116.9" y2="487" stroke="#1fb84a" stroke-width="1.6" />
<text class="S" x="119.1" y="486.1" font-size="6.2" fill="#1fb84a" font-weight="bold" >OE-STOM+NAC</text>
<text class="S" x="119.1" y="493.1" font-size="6.2" fill="#1fb84a" font-weight="bold" >+RANKL</text>
<line x1="107" y1="498.4" x2="116.9" y2="498.4" stroke="#3a75c8" stroke-width="1.6" />
<text class="S" x="119.1" y="500.6" font-size="6.2" fill="#3a75c8" font-weight="bold" >OE-STOM+RANKL</text>
<line x1="107" y1="508.3" x2="116.9" y2="508.3" stroke="#f01010" stroke-width="1.6" />
<text class="S" x="119.1" y="510.6" font-size="6.2" fill="#f01010" font-weight="bold" >RANKL</text>
<rect x="176.7" y="568.2" width="15.3" height="7.5" fill="#e31a1c" />
<line x1="184.3" y1="565.8" x2="184.3" y2="568.2" stroke="#e31a1c" stroke-width="0.7" />
<line x1="182.2" y1="565.8" x2="186.5" y2="565.8" stroke="#e31a1c" stroke-width="0.7" />
<circle cx="184.3" cy="565.8" r="1.15" fill="#000"/>
<circle cx="184.3" cy="569.6" r="1.15" fill="#000"/>
<circle cx="181.9" cy="568.9" r="1.15" fill="#000"/>
<rect x="199.4" y="517.2" width="14.9" height="58.5" fill="#3a7dbf" />
<line x1="206.9" y1="516.2" x2="206.9" y2="517.2" stroke="#3a7dbf" stroke-width="0.7" />
<line x1="204.7" y1="516.2" x2="209.1" y2="516.2" stroke="#3a7dbf" stroke-width="0.7" />
<circle cx="206.9" cy="515.9" r="1.15" fill="#000"/>
<circle cx="206.9" cy="518.6" r="1.15" fill="#000"/>
<circle cx="204.4" cy="515.9" r="1.15" fill="#000"/>
<rect x="222" y="562.1" width="14.9" height="13.6" fill="#4cae4a" />
<line x1="229.4" y1="561.6" x2="229.4" y2="562.1" stroke="#4cae4a" stroke-width="0.7" />
<line x1="227.2" y1="561.6" x2="231.6" y2="561.6" stroke="#4cae4a" stroke-width="0.7" />
<circle cx="229.4" cy="562.8" r="1.15" fill="#000"/>
<circle cx="227" cy="561.4" r="1.15" fill="#000"/>
<circle cx="231.9" cy="562.1" r="1.15" fill="#000"/>
<line x1="169.9" y1="575.7" x2="169.9" y2="507.8" stroke="#222" stroke-width="0.9" />
<line x1="169.9" y1="575.7" x2="238.4" y2="575.7" stroke="#222" stroke-width="0.9" />
<line x1="167.5" y1="575.7" x2="169.9" y2="575.7" stroke="#222" stroke-width="0.81" />
<text class="S" x="166.9" y="577.4" font-size="4.6" fill="#222" font-weight="bold" text-anchor="end" letter-spacing="0.3">0</text>
<line x1="167.5" y1="541.7" x2="169.9" y2="541.7" stroke="#222" stroke-width="0.81" />
<text class="S" x="166.9" y="543.4" font-size="4.6" fill="#222" font-weight="bold" text-anchor="end" letter-spacing="0.3">5</text>
<line x1="167.5" y1="507.7" x2="169.9" y2="507.7" stroke="#222" stroke-width="0.81" />
<text class="S" x="166.9" y="509.4" font-size="4.6" fill="#222" font-weight="bold" text-anchor="end" letter-spacing="0.3">10</text>
<line x1="184.3" y1="575.7" x2="184.3" y2="578.1" stroke="#222" stroke-width="0.81" />
<line x1="206.9" y1="575.7" x2="206.9" y2="578.1" stroke="#222" stroke-width="0.81" />
<line x1="229.4" y1="575.7" x2="229.4" y2="578.1" stroke="#222" stroke-width="0.81" />
<line x1="184.3" y1="510" x2="204.5" y2="510" stroke="#111" stroke-width="0.9" />
<text class="S" x="194.4" y="507.8" font-size="4.7" fill="#111" font-weight="bold" text-anchor="middle" >p &lt; 0.0001</text>
<line x1="208.4" y1="510" x2="228.6" y2="510" stroke="#111" stroke-width="0.9" />
<text class="S" x="218.5" y="507.8" font-size="4.7" fill="#111" font-weight="bold" text-anchor="middle" >p &lt; 0.0001</text>
<text class="R" x="150.2" y="541.8" font-size="8.0" font-weight="bold" text-anchor="middle" transform="rotate(-90 150.2 541.8)">Relative fluorescence</text>
<text class="R" x="159.6" y="541.8" font-size="8.0" font-weight="bold" text-anchor="middle" transform="rotate(-90 159.6 541.8)">indensity of ROS</text>
<g transform="translate(185.9 586.2) rotate(-48)"><text class="R" x="0" y="0" font-size="6.0" text-anchor="end" >RANKL</text></g>
<g transform="translate(208.4 586.2) rotate(-48)"><text class="R" x="0" y="0" font-size="6.0" text-anchor="end" >RANKL+OE-STOM</text></g>
<g transform="translate(231 586.2) rotate(-48)"><text class="R" x="0" y="0" font-size="6.0" text-anchor="end" >RANKL+OE-STOM</text><text class="R" x="-25.3" y="6.9" font-size="6.0" text-anchor="middle" >+NAC</text></g>
<defs><filter id="spL" x="0" y="0" width="1" height="1" color-interpolation-filters="sRGB"><feTurbulence type="fractalNoise" baseFrequency="0.5" numOctaves="2" seed="11"/><feColorMatrix type="matrix" values="1 0 0 0 0 0 1 0 0 0 0 0 1 0 0 0 0 0 0 1" result="a"/><feTurbulence type="fractalNoise" baseFrequency="0.08" numOctaves="2" seed="111"/><feColorMatrix type="matrix" values="1 0 0 0 0 0 1 0 0 0 0 0 1 0 0 0 0 0 0 1" result="b"/><feComposite in="a" in2="b" operator="arithmetic" k1="0" k2="1" k3="0.5" k4="-0.25"/><feColorMatrix type="matrix" values="0 0 0 0 0.769 0 0 0 0 0.416 0 0 0 0 0.580 5 0 0 0 -2.831"/></filter><filter id="spL3" x="0" y="0" width="1" height="1" color-interpolation-filters="sRGB"><feTurbulence type="fractalNoise" baseFrequency="0.55" numOctaves="2" seed="13"/><feColorMatrix type="matrix" values="1 0 0 0 0 0 1 0 0 0 0 0 1 0 0 0 0 0 0 1" result="a"/><feTurbulence type="fractalNoise" baseFrequency="0.08" numOctaves="2" seed="113"/><feColorMatrix type="matrix" values="1 0 0 0 0 0 1 0 0 0 0 0 1 0 0 0 0 0 0 1" result="b"/><feComposite in="a" in2="b" operator="arithmetic" k1="0" k2="1" k3="0.3" k4="-0.15"/><feColorMatrix type="matrix" values="0 0 0 0 0.690 0 0 0 0 0.376 0 0 0 0 0.557 6 0 0 0 -3.521"/></filter><filter id="spLb" x="0" y="0" width="1" height="1" color-interpolation-filters="sRGB"><feTurbulence type="fractalNoise" baseFrequency="0.2" numOctaves="2" seed="15"/><feColorMatrix type="matrix" values="1 0 0 0 0 0 1 0 0 0 0 0 1 0 0 0 0 0 0 1" result="a"/><feTurbulence type="fractalNoise" baseFrequency="0.05" numOctaves="2" seed="115"/><feColorMatrix type="matrix" values="1 0 0 0 0 0 1 0 0 0 0 0 1 0 0 0 0 0 0 1" result="b"/><feComposite in="a" in2="b" operator="arithmetic" k1="0" k2="1" k3="0.5" k4="-0.25"/><feColorMatrix type="matrix" values="0 0 0 0 0.847 0 0 0 0 0.659 0 0 0 0 0.753 3 0 0 0 -1.327"/><feComponentTransfer><feFuncA type="linear" slope="0.4"/></feComponentTransfer></filter><filter id="spLc" x="0" y="0" width="1" height="1" color-interpolation-filters="sRGB"><feTurbulence type="fractalNoise" baseFrequency="0.25" numOctaves="2" seed="16"/><feColorMatrix type="matrix" values="1 0 0 0 0 0 1 0 0 0 0 0 1 0 0 0 0 0 0 1" result="a"/><feTurbulence type="fractalNoise" baseFrequency="0.08" numOctaves="2" seed="116"/><feColorMatrix type="matrix" values="1 0 0 0 0 0 1 0 0 0 0 0 1 0 0 0 0 0 0 1" result="b"/><feComposite in="a" in2="b" operator="arithmetic" k1="0" k2="1" k3="0.5" k4="-0.25"/><feColorMatrix type="matrix" values="0 0 0 0 0.784 0 0 0 0 0.565 0 0 0 0 0.753 3 0 0 0 -1.327"/><feComponentTransfer><feFuncA type="linear" slope="0.5"/></feComponentTransfer></filter><clipPath id="cL1"><rect x="270.4" y="519" width="101.1" height="75.2"/></clipPath><clipPath id="cL2"><rect x="373.8" y="519" width="101" height="75.2"/></clipPath><clipPath id="cL3"><rect x="476.5" y="519" width="101.2" height="75.2"/></clipPath></defs>
<rect x="270.4" y="519" width="101.1" height="75.2" fill="#f1ecef" />
<g clip-path="url(#cL1)">
<rect x="270.4" y="519" width="101.1" height="75.2" fill="#000" filter="url(#spLb)"/>
<rect x="270.4" y="519" width="101.1" height="75.2" fill="#000" filter="url(#spL)"/>
<path d="M312.5 536C313.3 532.5 314.8 531.5 318.6 530.6C322.4 529.7 330.6 529.7 335.5 530.6C340.4 531.5 344.7 534.1 347.8 536C350.9 537.9 352.4 539.3 353.9 542.1C355.4 544.9 356.8 548.7 357 552.8C357.2 556.9 356.4 563 355.4 566.6C354.4 570.2 352.6 572 350.8 574.3C349 576.6 347.2 578.9 344.7 580.4C342.1 581.9 338.3 583.5 335.5 583.5C332.7 583.5 330.1 582.2 327.8 580.4C325.5 578.6 323.5 575.5 321.7 572.7C319.9 569.9 318.4 567.1 317.1 563.5C315.8 559.9 314.8 555.9 314 551.3C313.2 546.7 311.7 539.5 312.5 536Z" fill="#ebe6ea" stroke="#a070a8" stroke-width="1.5"/>
<circle cx="330" cy="548" r="3" fill="#dccbdc" filter="url(#bJ)"/>
<circle cx="338" cy="556" r="3" fill="#dccbdc" filter="url(#bJ)"/>
<circle cx="326" cy="562" r="2.5" fill="#dccbdc" filter="url(#bJ)"/>
<circle cx="344" cy="565" r="2.5" fill="#dccbdc" filter="url(#bJ)"/>
<circle cx="334" cy="571" r="2.5" fill="#dccbdc" filter="url(#bJ)"/>
<path d="M278.7 549C279.8 547.5 282.1 548.8 284.9 549.7C287.7 550.6 293.2 552 295.6 554.3C298 556.6 299.1 560.7 299.4 563.5C299.6 566.3 298.2 569.3 297.1 571.2C296 573.1 294.5 574.8 292.5 575C290.5 575.2 287.1 573.9 284.9 572.7C282.7 571.6 280.6 570.4 279.5 568.1C278.4 565.8 278.5 562.2 278.4 559C278.3 555.8 277.6 550.5 278.7 549Z" fill="#ede8ec" stroke="#6a3070" stroke-width="1"/>
<path d="M281 551Q278 560 280 567Q285 573 292 575" stroke="#4a1050" stroke-width="2.2" fill="none" filter="url(#bJ)"/>
<circle cx="282" cy="568" r="2.5" fill="#5a1a5e" filter="url(#bJ)"/>
<circle cx="292" cy="574" r="2.2" fill="#5a1a5e" filter="url(#bJ)"/>
<circle cx="281" cy="551" r="2" fill="#5a1a5e" filter="url(#bJ)"/>
<circle cx="281.5" cy="538" r="1.6" fill="#5a1a5e" filter="url(#bJ)"/>
<circle cx="281.8" cy="542" r="1.6" fill="#5a1a5e" filter="url(#bJ)"/>
<circle cx="308" cy="578" r="2" fill="#5a1a5e" filter="url(#bJ)"/>
<circle cx="340" cy="589" r="1.8" fill="#5a1a5e" filter="url(#bJ)"/>
<circle cx="329" cy="592" r="1.5" fill="#5a1a5e" filter="url(#bJ)"/>
<circle cx="348" cy="590" r="1.3" fill="#5a1a5e" filter="url(#bJ)"/>
<circle cx="310" cy="545" r="1.3" fill="#5a1a5e" filter="url(#bJ)"/>
</g>
<rect x="373.8" y="519" width="101" height="75.2" fill="#efe4ec" />
<g clip-path="url(#cL2)">
<rect x="373.8" y="519" width="101" height="75.2" fill="#000" filter="url(#spLc)"/>
<rect x="373.8" y="519" width="101" height="75.2" fill="#000" filter="url(#spL3)" opacity="0.55"/>
<path d="M388.2 536C388.2 538.5 387.5 541.4 386.4 543.4C385.3 545.3 383.2 547.6 381.5 547.9C379.8 548.1 377.8 546.2 376.3 544.9C374.7 543.6 372.9 542.1 372.1 539.9C371.4 537.8 371 534.2 371.6 531.8C372.2 529.4 373.9 526.2 375.5 525.3C377.1 524.4 379.4 525.6 381.3 526.2C383.1 526.7 385.3 527 386.4 528.6C387.6 530.2 388.2 533.5 388.2 536Z" fill="#f3eef3" fill-opacity="0.55" stroke="#cbb0cb" stroke-width="1.4" filter="url(#bJ)"/>
<path d="M409.4 533C409.5 535.3 408 538 406.4 540.1C404.9 542.1 402.5 544.9 400.2 545.3C397.8 545.8 394.5 544 392.5 542.6C390.4 541.2 388.9 539 387.8 536.7C386.8 534.4 385.5 531 386.3 528.7C387 526.5 390 524.1 392.3 523.1C394.5 522.1 397.5 522.3 399.8 522.8C402.1 523.4 404.3 524.6 405.9 526.3C407.5 528 409.3 530.7 409.4 533Z" fill="#f3eef3" fill-opacity="0.55" stroke="#cbb0cb" stroke-width="1.4" filter="url(#bJ)"/>
<path d="M398 565C397.7 568.1 395.7 570.8 394.1 573.3C392.6 575.9 390.9 579.3 388.6 580.2C386.3 581.2 382.4 580.6 380.3 578.9C378.2 577.2 376.9 573.3 375.9 570C375 566.8 373.9 562.6 374.6 559.3C375.2 556.1 377.7 551.9 380 550.3C382.3 548.8 385.9 549.2 388.5 550C391.2 550.7 394.2 552.3 395.8 554.8C397.4 557.3 398.3 561.9 398 565Z" fill="#f3eef3" fill-opacity="0.55" stroke="#cbb0cb" stroke-width="1.4" filter="url(#bJ)"/>
<path d="M416.3 565C416.2 567.9 415 570.5 413.7 573.4C412.3 576.2 410.3 581.3 408.1 581.9C405.8 582.5 402.2 579.2 400.1 577.2C398 575.1 396.6 572.7 395.4 569.7C394.2 566.7 392.4 562.4 393.1 559.3C393.7 556.2 396.8 552.3 399.3 551C401.7 549.8 405 551.1 407.5 551.9C410.1 552.7 412.9 553.7 414.4 555.9C415.9 558.1 416.4 562.1 416.3 565Z" fill="#f3eef3" fill-opacity="0.55" stroke="#cbb0cb" stroke-width="1.4" filter="url(#bJ)"/>
<path d="M441.1 566C441.2 569.1 440.1 573.3 438.6 575.6C437 577.8 434.2 578.7 431.8 579.4C429.3 580.2 426 581.3 424 580C421.9 578.6 420.2 574.4 419.4 571.2C418.6 567.9 418.2 563.7 419.1 560.7C419.9 557.8 422.4 554.9 424.6 553.5C426.7 552 429.6 551.5 431.8 552.1C434.1 552.7 436.4 554.8 437.9 557.2C439.4 559.5 441 562.9 441.1 566Z" fill="#f3eef3" fill-opacity="0.55" stroke="#cbb0cb" stroke-width="1.4" filter="url(#bJ)"/>
<path d="M474.4 570C474.6 574.1 472.4 579.9 470 583.1C467.7 586.3 463.5 588.8 460.4 589C457.2 589.3 453.6 586.8 451 584.6C448.5 582.4 446.1 579.2 445.1 575.8C444.1 572.4 444.3 567.8 445.2 564.2C446.1 560.7 448.2 556.2 450.6 554.5C453.1 552.7 457 553.1 460 553.8C462.9 554.5 466 555.9 468.4 558.6C470.8 561.3 474.1 565.9 474.4 570Z" fill="#f3eef3" fill-opacity="0.55" stroke="#cbb0cb" stroke-width="1.4" filter="url(#bJ)"/>
<path d="M435.6 525C435.6 526.2 434.7 527.5 433.5 528.5C432.2 529.5 430.3 530.9 428.3 531.2C426.3 531.5 423.4 530.8 421.6 530.1C419.7 529.4 417.9 528.2 417.2 527C416.5 525.9 416.8 524.3 417.5 523C418.2 521.8 419.6 520.5 421.4 519.7C423.3 519 426.3 518.3 428.4 518.6C430.4 518.9 432.5 520.3 433.7 521.4C434.9 522.4 435.7 523.8 435.6 525Z" fill="#f3eef3" fill-opacity="0.55" stroke="#cbb0cb" stroke-width="1.4" filter="url(#bJ)"/>
<circle cx="381.2" cy="523.7" r="2.2" fill="#6a1f6a" filter="url(#bJ)"/>
<circle cx="412.6" cy="545.1" r="3" fill="#6a1f6a" filter="url(#bJ)"/>
<circle cx="412" cy="541" r="2" fill="#6a1f6a" filter="url(#bJ)"/>
<circle cx="429.5" cy="537.5" r="1.8" fill="#6a1f6a" filter="url(#bJ)"/>
<circle cx="441.8" cy="529.8" r="2.2" fill="#6a1f6a" filter="url(#bJ)"/>
<circle cx="441.8" cy="539.8" r="2" fill="#6a1f6a" filter="url(#bJ)"/>
<circle cx="451" cy="539" r="2.3" fill="#6a1f6a" filter="url(#bJ)"/>
<circle cx="408.8" cy="588.1" r="3" fill="#6a1f6a" filter="url(#bJ)"/>
<circle cx="438.7" cy="577.3" r="2.2" fill="#6a1f6a" filter="url(#bJ)"/>
<circle cx="376.6" cy="558.2" r="1.8" fill="#6a1f6a" filter="url(#bJ)"/>
<circle cx="385.8" cy="587.3" r="2" fill="#6a1f6a" filter="url(#bJ)"/>
<circle cx="451" cy="548" r="1.4" fill="#6a1f6a" filter="url(#bJ)"/>
<path d="M425 541Q428 537 432 537" stroke="#6a1f6a" stroke-width="0.8" fill="none"/>
</g>
<rect x="476.5" y="519" width="101.2" height="75.2" fill="#f5f0ef" />
<g clip-path="url(#cL3)">
<rect x="476.5" y="519" width="101.2" height="75.2" fill="#000" filter="url(#spLb)" opacity="0.6"/>
<rect x="476.5" y="519" width="101.2" height="75.2" fill="#000" filter="url(#spL3)"/>
<circle cx="520" cy="556" r="2" fill="#7a2a6a" filter="url(#bJ)"/>
<circle cx="528" cy="555" r="1.8" fill="#7a2a6a" filter="url(#bJ)"/>
<circle cx="525" cy="568" r="2.2" fill="#7a2a6a" filter="url(#bJ)"/>
<circle cx="566" cy="521" r="1.8" fill="#7a2a6a" filter="url(#bJ)"/>
<circle cx="575" cy="522" r="2" fill="#7a2a6a" filter="url(#bJ)"/>
<circle cx="479" cy="590" r="1.5" fill="#7a2a6a" filter="url(#bJ)"/>
<circle cx="524.5" cy="588" r="1.4" fill="#7a2a6a" filter="url(#bJ)"/>
</g>
<rect x="270.4" y="519" width="101.1" height="75.2" fill="none" stroke="#777" stroke-width="0.6"/>
<text class="S" x="370.7" y="583.7" font-size="5.8" font-weight="bold" text-anchor="end" >200&#956;m</text>
<line x1="356.7" y1="587.3" x2="368.7" y2="587.3" stroke="#000" stroke-width="1.2" />
<rect x="373.8" y="519" width="101" height="75.2" fill="none" stroke="#777" stroke-width="0.6"/>
<text class="S" x="474" y="583.7" font-size="5.8" font-weight="bold" text-anchor="end" >200&#956;m</text>
<line x1="460" y1="587.3" x2="472" y2="587.3" stroke="#000" stroke-width="1.2" />
<rect x="476.5" y="519" width="101.2" height="75.2" fill="none" stroke="#777" stroke-width="0.6"/>
<text class="S" x="576.9" y="583.7" font-size="5.8" font-weight="bold" text-anchor="end" >200&#956;m</text>
<line x1="562.9" y1="587.3" x2="574.9" y2="587.3" stroke="#000" stroke-width="1.2" />
<text class="S" x="255.3" y="498.8" font-size="11.5" font-weight="bold" >L</text>
<text class="S" x="321.3" y="510.2" font-size="9.4" font-weight="bold" text-anchor="middle" >RANKL</text>
<text class="S" x="423.1" y="502.5" font-size="9.4" font-weight="bold" text-anchor="middle" >OE-STOM</text>
<text class="S" x="423.1" y="514" font-size="9.4" font-weight="bold" text-anchor="middle" >+RANKL</text>
<text class="S" x="522.7" y="502.8" font-size="9.4" font-weight="bold" text-anchor="middle" >OE-STOM+NAC</text>
<text class="S" x="524.9" y="513.7" font-size="9.4" font-weight="bold" text-anchor="middle" >+RANKL</text>
<rect x="620.7" y="552.9" width="13.1" height="30.3" fill="#e31a1c" />
<line x1="627.2" y1="550.5" x2="627.2" y2="552.9" stroke="#e31a1c" stroke-width="0.7" />
<line x1="625" y1="550.5" x2="629.5" y2="550.5" stroke="#e31a1c" stroke-width="0.7" />
<circle cx="627.2" cy="551.4" r="1.3" fill="#000"/>
<circle cx="627.2" cy="555.3" r="1.3" fill="#000"/>
<circle cx="624.5" cy="552.9" r="1.3" fill="#000"/>
<rect x="640.1" y="539.2" width="12.9" height="44" fill="#3a7dbf" />
<line x1="646.5" y1="537.4" x2="646.5" y2="539.2" stroke="#3a7dbf" stroke-width="0.7" />
<line x1="644.3" y1="537.4" x2="648.8" y2="537.4" stroke="#3a7dbf" stroke-width="0.7" />
<circle cx="646.5" cy="537.7" r="1.3" fill="#000"/>
<circle cx="646.5" cy="540.8" r="1.3" fill="#000"/>
<circle cx="643.8" cy="538.9" r="1.3" fill="#000"/>
<rect x="659.3" y="563.5" width="12.5" height="19.7" fill="#4cae4a" />
<line x1="665.5" y1="560.5" x2="665.5" y2="563.5" stroke="#4cae4a" stroke-width="0.7" />
<line x1="663.3" y1="560.5" x2="667.8" y2="560.5" stroke="#4cae4a" stroke-width="0.7" />
<circle cx="665.5" cy="560.5" r="1.3" fill="#000"/>
<circle cx="665.5" cy="565.9" r="1.3" fill="#000"/>
<circle cx="665.5" cy="563.5" r="1.3" fill="#000"/>
<line x1="614.5" y1="583.2" x2="614.5" y2="522.4" stroke="#222" stroke-width="0.9" />
<line x1="614.5" y1="583.2" x2="678.5" y2="583.2" stroke="#222" stroke-width="0.9" />
<line x1="612.3" y1="583.2" x2="614.5" y2="583.2" stroke="#222" stroke-width="0.81" />
<text class="S" x="611.7" y="585" font-size="5.0" fill="#222" font-weight="bold" text-anchor="end" letter-spacing="0.3">0</text>
<line x1="612.3" y1="568" x2="614.5" y2="568" stroke="#222" stroke-width="0.81" />
<text class="S" x="611.7" y="569.8" font-size="5.0" fill="#222" font-weight="bold" text-anchor="end" letter-spacing="0.3">50</text>
<line x1="612.3" y1="552.9" x2="614.5" y2="552.9" stroke="#222" stroke-width="0.81" />
<text class="S" x="611.7" y="554.7" font-size="5.0" fill="#222" font-weight="bold" text-anchor="end" letter-spacing="0.3">100</text>
<line x1="612.3" y1="537.7" x2="614.5" y2="537.7" stroke="#222" stroke-width="0.81" />
<text class="S" x="611.7" y="539.5" font-size="5.0" fill="#222" font-weight="bold" text-anchor="end" letter-spacing="0.3">150</text>
<line x1="612.3" y1="522.6" x2="614.5" y2="522.6" stroke="#222" stroke-width="0.81" />
<text class="S" x="611.7" y="524.4" font-size="5.0" fill="#222" font-weight="bold" text-anchor="end" letter-spacing="0.3">200</text>
<line x1="627.2" y1="583.2" x2="627.2" y2="585.4" stroke="#222" stroke-width="0.81" />
<line x1="646.5" y1="583.2" x2="646.5" y2="585.4" stroke="#222" stroke-width="0.81" />
<line x1="665.5" y1="583.2" x2="665.5" y2="585.4" stroke="#222" stroke-width="0.81" />
<line x1="628.3" y1="522.4" x2="642.6" y2="522.4" stroke="#111" stroke-width="0.9" />
<text class="S" x="635.5" y="520.4" font-size="4.6" fill="#111" font-weight="bold" text-anchor="middle" >p=0.0050</text>
<line x1="649.5" y1="522.4" x2="664" y2="522.4" stroke="#111" stroke-width="0.9" />
<text class="S" x="656.8" y="520.4" font-size="4.6" fill="#111" font-weight="bold" text-anchor="middle" >p=0.0002</text>
<text class="R" x="599.7" y="552.2" font-size="8.0" font-weight="bold" text-anchor="middle" transform="rotate(-90 599.7 552.2)">Number of osteoclasts</text>
<g transform="translate(629 591.5) rotate(-45)"><text class="R" x="0" y="0" font-size="5.4" text-anchor="end" >RANKL</text></g>
<g transform="translate(648.2 591.5) rotate(-45)"><text class="R" x="0" y="0" font-size="5.4" text-anchor="end" >RANKL+OE-STOM</text></g>
<g transform="translate(667.2 591.5) rotate(-45)"><text class="R" x="0" y="0" font-size="5.4" text-anchor="end" >RANKL+OE-STOM</text><text class="R" x="-22.8" y="6.2" font-size="5.4" text-anchor="middle" >+NAC</text></g>
<text class="S" x="1.4" y="629.8" font-size="11.5" font-weight="bold" >M</text>
<rect x="35.6" y="679.8" width="11.8" height="24.1" fill="#e31a1c" />
<line x1="41.5" y1="679.3" x2="41.5" y2="679.8" stroke="#e31a1c" stroke-width="0.7" />
<line x1="39.3" y1="679.3" x2="43.7" y2="679.3" stroke="#e31a1c" stroke-width="0.7" />
<circle cx="41.5" cy="680.5" r="1.55" fill="#000"/>
<circle cx="38.2" cy="679.3" r="1.55" fill="#000"/>
<circle cx="44.8" cy="680" r="1.55" fill="#000"/>
<rect x="53" y="648.4" width="11.7" height="55.5" fill="#3a7dbf" />
<line x1="58.9" y1="647.3" x2="58.9" y2="648.4" stroke="#3a7dbf" stroke-width="0.7" />
<line x1="56.6" y1="647.3" x2="61.1" y2="647.3" stroke="#3a7dbf" stroke-width="0.7" />
<circle cx="58.9" cy="647.3" r="1.55" fill="#000"/>
<circle cx="55.5" cy="650.1" r="1.55" fill="#000"/>
<circle cx="62.2" cy="648.2" r="1.55" fill="#000"/>
<rect x="70.1" y="663.4" width="11.8" height="40.5" fill="#4cae4a" />
<line x1="76" y1="662.7" x2="76" y2="663.4" stroke="#4cae4a" stroke-width="0.7" />
<line x1="73.8" y1="662.7" x2="78.2" y2="662.7" stroke="#4cae4a" stroke-width="0.7" />
<circle cx="76" cy="664.1" r="1.55" fill="#000"/>
<circle cx="72.7" cy="662.2" r="1.55" fill="#000"/>
<circle cx="79.3" cy="663.7" r="1.55" fill="#000"/>
<rect x="87.2" y="641.2" width="11.5" height="62.7" fill="#9a4ea3" />
<line x1="93" y1="640.5" x2="93" y2="641.2" stroke="#9a4ea3" stroke-width="0.7" />
<line x1="90.8" y1="640.5" x2="95.2" y2="640.5" stroke="#9a4ea3" stroke-width="0.7" />
<circle cx="93" cy="641.7" r="1.55" fill="#000"/>
<circle cx="89.6" cy="640.3" r="1.55" fill="#000"/>
<circle cx="96.3" cy="640.7" r="1.55" fill="#000"/>
<line x1="30.5" y1="703.9" x2="30.5" y2="633.8" stroke="#222" stroke-width="0.9" />
<line x1="30.5" y1="703.9" x2="105.1" y2="703.9" stroke="#222" stroke-width="0.9" />
<line x1="28" y1="703.9" x2="30.5" y2="703.9" stroke="#222" stroke-width="0.81" />
<text class="S" x="27.4" y="705.6" font-size="4.6" fill="#222" font-weight="bold" text-anchor="end" letter-spacing="0.3">0</text>
<line x1="28" y1="680.5" x2="30.5" y2="680.5" stroke="#222" stroke-width="0.81" />
<text class="S" x="27.4" y="682.2" font-size="4.6" fill="#222" font-weight="bold" text-anchor="end" letter-spacing="0.3">1</text>
<line x1="28" y1="657.1" x2="30.5" y2="657.1" stroke="#222" stroke-width="0.81" />
<text class="S" x="27.4" y="658.8" font-size="4.6" fill="#222" font-weight="bold" text-anchor="end" letter-spacing="0.3">2</text>
<line x1="28" y1="633.7" x2="30.5" y2="633.7" stroke="#222" stroke-width="0.81" />
<text class="S" x="27.4" y="635.4" font-size="4.6" fill="#222" font-weight="bold" text-anchor="end" letter-spacing="0.3">3</text>
<line x1="41.5" y1="703.9" x2="41.5" y2="706.4" stroke="#222" stroke-width="0.81" />
<line x1="58.9" y1="703.9" x2="58.9" y2="706.4" stroke="#222" stroke-width="0.81" />
<line x1="76" y1="703.9" x2="76" y2="706.4" stroke="#222" stroke-width="0.81" />
<line x1="93" y1="703.9" x2="93" y2="706.4" stroke="#222" stroke-width="0.81" />
<line x1="39" y1="642.1" x2="55" y2="642.1" stroke="#111" stroke-width="0.9" />
<text class="S" x="47" y="639.8" font-size="3.9" fill="#111" font-weight="bold" text-anchor="middle" >p &lt; 0.0001</text>
<line x1="56.2" y1="642.1" x2="74.6" y2="642.1" stroke="#111" stroke-width="0.9" />
<text class="S" x="65.4" y="639.8" font-size="3.9" fill="#111" font-weight="bold" text-anchor="middle" >p &lt; 0.0001</text>
<line x1="59.9" y1="631.7" x2="92.3" y2="631.7" stroke="#111" stroke-width="0.9" />
<text class="S" x="76.1" y="629.9" font-size="3.9" fill="#111" font-weight="bold" text-anchor="middle" >p=0.0001</text>
<text class="R" x="16.3" y="668.6" font-size="8.2" font-weight="bold" text-anchor="middle" transform="rotate(-90 16.3 668.6)">ATP production</text>
<g transform="translate(43 710.2) rotate(-45)"><text class="R" x="0" y="0" font-size="6.3" text-anchor="end" >Ctrl</text></g>
<g transform="translate(60.4 710.2) rotate(-45)"><text class="R" x="0" y="0" font-size="6.3" text-anchor="end" >RANKL</text></g>
<g transform="translate(77.5 710.2) rotate(-45)"><text class="R" x="0" y="0" font-size="6.3" text-anchor="end" >RANKL+siSTOM</text></g>
<g transform="translate(94.5 710.2) rotate(-45)"><text class="R" x="0" y="0" font-size="6.3" text-anchor="end" >RANKL+OE-STOM</text></g>
<defs><pattern id="vac" x="0" y="0" width="31" height="27" patternUnits="userSpaceOnUse"><circle cx="19.3" cy="20" r="2.6" fill="#e2e2e2" stroke="#9c9c9c" stroke-width="0.3"/><circle cx="29.2" cy="20" r="2.1" fill="#e2e2e2" stroke="#9c9c9c" stroke-width="0.3"/><circle cx="0.9" cy="12.6" r="1.1" fill="#e2e2e2" stroke="#9c9c9c" stroke-width="0.3"/><circle cx="20.1" cy="24.3" r="0.9" fill="#e2e2e2" stroke="#9c9c9c" stroke-width="0.3"/><circle cx="11.5" cy="23.4" r="1.7" fill="#e2e2e2" stroke="#9c9c9c" stroke-width="0.3"/><circle cx="16.9" cy="15.5" r="0.9" fill="#e2e2e2" stroke="#9c9c9c" stroke-width="0.3"/><circle cx="22.7" cy="11" r="1.1" fill="#e2e2e2" stroke="#9c9c9c" stroke-width="0.3"/><circle cx="28.4" cy="20.7" r="1.1" fill="#e2e2e2" stroke="#9c9c9c" stroke-width="0.3"/><circle cx="23.6" cy="1.9" r="2.1" fill="#e2e2e2" stroke="#9c9c9c" stroke-width="0.3"/><circle cx="19.1" cy="3.4" r="0.9" fill="#e2e2e2" stroke="#9c9c9c" stroke-width="0.3"/><circle cx="30.1" cy="0.1" r="1.1" fill="#e2e2e2" stroke="#9c9c9c" stroke-width="0.3"/><circle cx="29.8" cy="4.5" r="1.1" fill="#e2e2e2" stroke="#9c9c9c" stroke-width="0.3"/><circle cx="9" cy="26" r="2.1" fill="#e2e2e2" stroke="#9c9c9c" stroke-width="0.3"/><circle cx="27.2" cy="16.9" r="1.1" fill="#e2e2e2" stroke="#9c9c9c" stroke-width="0.3"/><circle cx="29.2" cy="18.6" r="1.7" fill="#e2e2e2" stroke="#9c9c9c" stroke-width="0.3"/><circle cx="9.3" cy="9.8" r="1.1" fill="#e2e2e2" stroke="#9c9c9c" stroke-width="0.3"/><circle cx="29" cy="7.1" r="1.4" fill="#e2e2e2" stroke="#9c9c9c" stroke-width="0.3"/><circle cx="9.3" cy="16.3" r="0.9" fill="#e2e2e2" stroke="#9c9c9c" stroke-width="0.3"/><circle cx="18.5" cy="19.1" r="0.9" fill="#e2e2e2" stroke="#9c9c9c" stroke-width="0.3"/><circle cx="9.6" cy="22.1" r="1.7" fill="#e2e2e2" stroke="#9c9c9c" stroke-width="0.3"/><circle cx="21.6" cy="5" r="1.7" fill="#e2e2e2" stroke="#9c9c9c" stroke-width="0.3"/><circle cx="21.8" cy="1.5" r="0.9" fill="#e2e2e2" stroke="#9c9c9c" stroke-width="0.3"/><circle cx="29.4" cy="9.7" r="1.7" fill="#e2e2e2" stroke="#9c9c9c" stroke-width="0.3"/><circle cx="0.6" cy="21.3" r="1.4" fill="#e2e2e2" stroke="#9c9c9c" stroke-width="0.3"/><circle cx="11.7" cy="22.7" r="1.7" fill="#e2e2e2" stroke="#9c9c9c" stroke-width="0.3"/><circle cx="1.4" cy="4.9" r="1.1" fill="#e2e2e2" stroke="#9c9c9c" stroke-width="0.3"/></pattern></defs>
<defs><filter id="tT" x="0" y="0" width="1" height="1" color-interpolation-filters="sRGB"><feTurbulence type="fractalNoise" baseFrequency="0.3" numOctaves="2" seed="17"/><feColorMatrix type="matrix" values="0 0 0 0 0.910 0 0 0 0 0.910 0 0 0 0 0.910 6 0 0 0 -3.3"/></filter><filter id="tT2" x="0" y="0" width="1" height="1" color-interpolation-filters="sRGB"><feTurbulence type="fractalNoise" baseFrequency="0.35" numOctaves="2" seed="18"/><feColorMatrix type="matrix" values="0 0 0 0 0.816 0 0 0 0 0.816 0 0 0 0 0.816 6 0 0 0 -3.1"/></filter><filter id="tD" x="0" y="0" width="1" height="1" color-interpolation-filters="sRGB"><feTurbulence type="fractalNoise" baseFrequency="0.5" numOctaves="1" seed="19"/><feColorMatrix type="matrix" values="0 0 0 0 0.541 0 0 0 0 0.541 0 0 0 0 0.541 5 0 0 0 -2.9"/></filter><filter id="tM" x="0" y="0" width="1" height="1" color-interpolation-filters="sRGB"><feTurbulence type="fractalNoise" baseFrequency="0.25" numOctaves="2" seed="20"/><feColorMatrix type="matrix" values="1 0 0 0 0 0 1 0 0 0 0 0 1 0 0 0 0 0 0 1" result="a"/><feTurbulence type="fractalNoise" baseFrequency="0.06" numOctaves="2" seed="120"/><feColorMatrix type="matrix" values="1 0 0 0 0 0 1 0 0 0 0 0 1 0 0 0 0 0 0 1" result="b"/><feComposite in="a" in2="b" operator="arithmetic" k1="0" k2="1" k3="0.5" k4="-0.25"/><feColorMatrix type="matrix" values="0 0 0 0 0.549 0 0 0 0 0.549 0 0 0 0 0.549 4 0 0 0 -1.937"/></filter></defs>
<text class="S" x="119.6" y="629.6" font-size="11.5" font-weight="bold" >N</text>
<text class="S" x="137.6" y="676.2" font-size="12.5" font-weight="bold" text-anchor="middle" transform="rotate(-90 137.6 676.2)">TEM</text>
<defs><clipPath id="cN1"><rect x="142.8" y="643.4" width="105.6" height="76.3"/></clipPath></defs>
<rect x="142.8" y="643.4" width="105.6" height="76.3" fill="#f3f3f3" />
<g clip-path="url(#cN1)">
<path d="M142 641C151.2 636.4 187.2 639.2 197.2 641C207.2 642.8 202.5 646.6 202 651.5C201.5 656.4 197.2 665.4 194 670.4C190.8 675.4 187.7 679.2 183 681.4C178.3 683.6 171.2 685.1 165.7 683.8C160.2 682.5 153.8 676 149.9 673.5C146 671 143.3 674.2 142 668.8C140.7 663.4 132.8 645.6 142 641Z" fill="#cdcdcd" stroke="#8a8a8a" stroke-width="0.5"/>
<defs><clipPath id="cN1_8"><path d="M142 641C151.2 636.4 187.2 639.2 197.2 641C207.2 642.8 202.5 646.6 202 651.5C201.5 656.4 197.2 665.4 194 670.4C190.8 675.4 187.7 679.2 183 681.4C178.3 683.6 171.2 685.1 165.7 683.8C160.2 682.5 153.8 676 149.9 673.5C146 671 143.3 674.2 142 668.8C140.7 663.4 132.8 645.6 142 641Z"/></clipPath></defs>
<g clip-path="url(#cN1_8)"><rect x="142.8" y="643.4" width="105.6" height="76.3" fill="#000" filter="url(#tT)"/><rect x="142.8" y="643.4" width="105.6" height="76.3" fill="url(#vac)" /><rect x="142.8" y="643.4" width="105.6" height="76.3" fill="#000" filter="url(#tD)"/></g>
<path d="M183 687.7C184.2 682.7 186.1 672.8 189.3 668.8C192.5 664.8 196.7 665.5 202 664C207.3 662.5 215.4 660.4 220.9 660.1C226.4 659.9 231.9 659 235.1 662.5C238.2 666 239.8 675.4 239.8 681.4C239.8 687.4 237.7 694.3 235.1 698.8C232.5 703.3 228.5 705.8 224 708.2C219.5 710.6 213.7 713 208.2 713C202.7 713 195.2 710.6 190.9 708.2C186.6 705.8 183.5 702.2 182.2 698.8C180.9 695.4 181.8 692.7 183 687.7Z" fill="#cdcdcd" stroke="#8a8a8a" stroke-width="0.5"/>
<defs><clipPath id="cN1_11"><path d="M183 687.7C184.2 682.7 186.1 672.8 189.3 668.8C192.5 664.8 196.7 665.5 202 664C207.3 662.5 215.4 660.4 220.9 660.1C226.4 659.9 231.9 659 235.1 662.5C238.2 666 239.8 675.4 239.8 681.4C239.8 687.4 237.7 694.3 235.1 698.8C232.5 703.3 228.5 705.8 224 708.2C219.5 710.6 213.7 713 208.2 713C202.7 713 195.2 710.6 190.9 708.2C186.6 705.8 183.5 702.2 182.2 698.8C180.9 695.4 181.8 692.7 183 687.7Z"/></clipPath></defs>
<g clip-path="url(#cN1_11)"><rect x="142.8" y="643.4" width="105.6" height="76.3" fill="#000" filter="url(#tT)"/><rect x="142.8" y="643.4" width="105.6" height="76.3" fill="url(#vac)" /><rect x="142.8" y="643.4" width="105.6" height="76.3" fill="#000" filter="url(#tD)"/></g>
<path d="M140 687.7C141.9 682.1 147.8 686.9 151.5 689.3C155.2 691.7 159.9 696.4 162.5 702C165.1 707.6 170.9 719.5 167.2 723C163.4 726.5 144.5 728.9 140 723C135.5 717.1 138.1 693.3 140 687.7Z" fill="#cdcdcd" stroke="#8a8a8a" stroke-width="0.5"/>
<defs><clipPath id="cN1_14"><path d="M140 687.7C141.9 682.1 147.8 686.9 151.5 689.3C155.2 691.7 159.9 696.4 162.5 702C165.1 707.6 170.9 719.5 167.2 723C163.4 726.5 144.5 728.9 140 723C135.5 717.1 138.1 693.3 140 687.7Z"/></clipPath></defs>
<g clip-path="url(#cN1_14)"><rect x="142.8" y="643.4" width="105.6" height="76.3" fill="#000" filter="url(#tT)"/><rect x="142.8" y="643.4" width="105.6" height="76.3" fill="url(#vac)" /><rect x="142.8" y="643.4" width="105.6" height="76.3" fill="#000" filter="url(#tD)"/></g>
<path d="M189.7 652C189.8 654.3 188.2 657.4 185.9 659.1C183.6 660.9 179.1 662.6 175.9 662.6C172.7 662.5 168.7 660.5 166.5 658.7C164.3 656.9 162.5 654.2 162.5 652C162.6 649.8 164.5 647 166.7 645.5C169 643.9 172.9 642.6 175.9 642.6C178.9 642.6 182.7 643.9 185 645.5C187.3 647 189.6 649.7 189.7 652Z" fill="#b0b0b0" stroke="#5a5a5a" stroke-width="0.8" transform="rotate(0 175.9 652)"/>
<ellipse cx="175.9" cy="652" rx="6.3" ry="4.5" fill="#989898" filter="url(#bJ)"/>
<path d="M231.3 689.3C231.3 692.6 230.2 696.7 228.1 699.2C225.9 701.7 221.7 704.3 218.5 704.4C215.3 704.4 210.9 702 208.7 699.5C206.5 697 205.2 692.6 205.3 689.3C205.3 686 206.9 682 209.1 679.6C211.3 677.1 215.4 674.9 218.5 674.9C221.6 674.9 225.7 677.3 227.8 679.7C229.9 682.1 231.2 686 231.3 689.3Z" fill="#b0b0b0" stroke="#5a5a5a" stroke-width="0.8" transform="rotate(0 218.5 689.3)"/>
<ellipse cx="218.5" cy="689.3" rx="6.1" ry="6.3" fill="#989898" filter="url(#bJ)"/>
<g transform="translate(204.3 679.9) rotate(15.1)"><path d="M0 0L-2.4 -4.4L-0.75 -3.9L-0.75 -12.3L0.75 -12.3L0.75 -3.9L2.4 -4.4Z" fill="#000"/></g>
</g>
<rect x="142.8" y="643.4" width="105.6" height="76.3" fill="none" stroke="#666" stroke-width="0.6"/>
<text class="S" x="247.2" y="715.4" font-size="6.4" font-weight="bold" text-anchor="end" >2&#956;m</text>
<line x1="235.4" y1="717.5" x2="246.4" y2="717.5" stroke="#000" stroke-width="1.6" />
<defs><clipPath id="cN2"><rect x="251.7" y="643.4" width="105.1" height="76.3"/></clipPath></defs>
<rect x="251.7" y="643.4" width="105.1" height="76.3" fill="#f3f3f3" />
<g clip-path="url(#cN2)">
<path d="M261 660C261.3 655 261.8 652.5 265 650C268.2 647.5 274.2 646 280 645C285.8 644 293.3 643.5 300 644C306.7 644.5 314.2 646.2 320 648C325.8 649.8 331.7 651.3 335 655C338.3 658.7 339.5 665 340 670C340.5 675 340.5 680.8 338 685C335.5 689.2 331.3 693 325 695C318.7 697 308.3 697.5 300 697C291.7 696.5 281.2 694.8 275 692C268.8 689.2 265.3 685.3 263 680C260.7 674.7 260.7 665 261 660Z" fill="#cdcdcd" stroke="#8a8a8a" stroke-width="0.5"/>
<defs><clipPath id="cN2_29"><path d="M261 660C261.3 655 261.8 652.5 265 650C268.2 647.5 274.2 646 280 645C285.8 644 293.3 643.5 300 644C306.7 644.5 314.2 646.2 320 648C325.8 649.8 331.7 651.3 335 655C338.3 658.7 339.5 665 340 670C340.5 675 340.5 680.8 338 685C335.5 689.2 331.3 693 325 695C318.7 697 308.3 697.5 300 697C291.7 696.5 281.2 694.8 275 692C268.8 689.2 265.3 685.3 263 680C260.7 674.7 260.7 665 261 660Z"/></clipPath></defs>
<g clip-path="url(#cN2_29)"><rect x="251.7" y="643.4" width="105.1" height="76.3" fill="#000" filter="url(#tT)"/><rect x="251.7" y="643.4" width="105.1" height="76.3" fill="url(#vac)" /><rect x="251.7" y="643.4" width="105.1" height="76.3" fill="#000" filter="url(#tD)"/></g>
<path d="M250 695C252.5 689.5 258.3 689.7 265 690C271.7 690.3 282.5 695.3 290 697C297.5 698.7 303.3 700 310 700C316.7 700 324.2 698.7 330 697C335.8 695.3 340 691.5 345 690C350 688.5 357.5 682.5 360 688C362.5 693.5 378.3 717.2 360 723C341.7 728.8 268.3 727.7 250 723C231.7 718.3 247.5 700.5 250 695Z" fill="#cdcdcd" stroke="#8a8a8a" stroke-width="0.5"/>
<defs><clipPath id="cN2_32"><path d="M250 695C252.5 689.5 258.3 689.7 265 690C271.7 690.3 282.5 695.3 290 697C297.5 698.7 303.3 700 310 700C316.7 700 324.2 698.7 330 697C335.8 695.3 340 691.5 345 690C350 688.5 357.5 682.5 360 688C362.5 693.5 378.3 717.2 360 723C341.7 728.8 268.3 727.7 250 723C231.7 718.3 247.5 700.5 250 695Z"/></clipPath></defs>
<g clip-path="url(#cN2_32)"><rect x="251.7" y="643.4" width="105.1" height="76.3" fill="#000" filter="url(#tT)"/><rect x="251.7" y="643.4" width="105.1" height="76.3" fill="url(#vac)" /><rect x="251.7" y="643.4" width="105.1" height="76.3" fill="#000" filter="url(#tD)"/></g>
<path d="M336 641C339.7 638.7 356 634.8 360 641C364 647.2 362.5 673.2 360 678C357.5 682.8 348.7 673.8 345 670C341.3 666.2 339.5 659.8 338 655C336.5 650.2 332.3 643.3 336 641Z" fill="#cdcdcd" stroke="#8a8a8a" stroke-width="0.5"/>
<defs><clipPath id="cN2_35"><path d="M336 641C339.7 638.7 356 634.8 360 641C364 647.2 362.5 673.2 360 678C357.5 682.8 348.7 673.8 345 670C341.3 666.2 339.5 659.8 338 655C336.5 650.2 332.3 643.3 336 641Z"/></clipPath></defs>
<g clip-path="url(#cN2_35)"><rect x="251.7" y="643.4" width="105.1" height="76.3" fill="#000" filter="url(#tT)"/><rect x="251.7" y="643.4" width="105.1" height="76.3" fill="url(#vac)" /><rect x="251.7" y="643.4" width="105.1" height="76.3" fill="#000" filter="url(#tD)"/></g>
<path d="M330.7 664.9C330.9 666.9 330.3 669.8 328.3 671.2C326.3 672.7 321.7 673.7 318.6 673.6C315.5 673.4 312 672 310 670.5C308 669.1 306.5 666.8 306.5 664.9C306.5 663 308 660.8 310 659.3C312 657.8 315.7 655.8 318.6 655.8C321.5 655.8 325.2 657.7 327.2 659.3C329.2 660.8 330.5 662.9 330.7 664.9Z" fill="#b0b0b0" stroke="#5a5a5a" stroke-width="0.8" transform="rotate(25 318.6 664.9)"/>
<ellipse cx="318.6" cy="664.9" rx="5.9" ry="3.8" fill="#989898" filter="url(#bJ)"/>
<g transform="translate(286.3 660.1) rotate(19.5)"><path d="M0 0L-2.4 -4.4L-0.75 -3.9L-0.75 -11.7L0.75 -11.7L0.75 -3.9L2.4 -4.4Z" fill="#000"/></g>
</g>
<rect x="251.7" y="643.4" width="105.1" height="76.3" fill="none" stroke="#666" stroke-width="0.6"/>
<text class="S" x="355.6" y="715.4" font-size="6.4" font-weight="bold" text-anchor="end" >2&#956;m</text>
<line x1="343.8" y1="717.5" x2="354.8" y2="717.5" stroke="#000" stroke-width="1.6" />
<defs><clipPath id="cN3"><rect x="360.1" y="643.4" width="105.6" height="76.3"/></clipPath></defs>
<rect x="360.1" y="643.4" width="105.6" height="76.3" fill="#f3f3f3" />
<g clip-path="url(#cN3)">
<path d="M369.2 677.3C370.3 675.1 373.8 673.6 377.3 670.9C380.8 668.2 385.8 664.5 390.1 661.3C394.4 658.1 399 654.4 403 651.6C407 648.8 409.6 645.2 414.2 644.4C418.8 643.6 425.8 644.8 430.3 646.8C434.9 648.8 438.6 652.5 441.5 656.5C444.4 660.5 447.2 665.8 447.9 670.9C448.6 676 447.1 682.2 445.5 687C443.9 691.8 441.1 696.1 438.3 699.8C435.5 703.5 432.7 707.2 428.7 709.4C424.7 711.5 419.3 712.7 414.2 712.7C409.1 712.7 402.9 711.3 398.1 709.4C393.3 707.5 389 704.3 385.3 701.4C381.6 698.5 378.1 694.7 375.7 691.8C373.3 688.9 371.9 686.2 370.8 683.8C369.7 681.4 368.1 679.4 369.2 677.3Z" fill="#cdcdcd" stroke="#8a8a8a" stroke-width="0.5"/>
<defs><clipPath id="cN3_48"><path d="M369.2 677.3C370.3 675.1 373.8 673.6 377.3 670.9C380.8 668.2 385.8 664.5 390.1 661.3C394.4 658.1 399 654.4 403 651.6C407 648.8 409.6 645.2 414.2 644.4C418.8 643.6 425.8 644.8 430.3 646.8C434.9 648.8 438.6 652.5 441.5 656.5C444.4 660.5 447.2 665.8 447.9 670.9C448.6 676 447.1 682.2 445.5 687C443.9 691.8 441.1 696.1 438.3 699.8C435.5 703.5 432.7 707.2 428.7 709.4C424.7 711.5 419.3 712.7 414.2 712.7C409.1 712.7 402.9 711.3 398.1 709.4C393.3 707.5 389 704.3 385.3 701.4C381.6 698.5 378.1 694.7 375.7 691.8C373.3 688.9 371.9 686.2 370.8 683.8C369.7 681.4 368.1 679.4 369.2 677.3Z"/></clipPath></defs>
<g clip-path="url(#cN3_48)"><rect x="360.1" y="643.4" width="105.6" height="76.3" fill="#000" filter="url(#tT)"/><rect x="360.1" y="643.4" width="105.6" height="76.3" fill="url(#vac)" /><rect x="360.1" y="643.4" width="105.6" height="76.3" fill="#000" filter="url(#tD)"/></g>
<path d="M450 690C452.2 684.5 457 675.7 460 672C463 668.3 466.7 659.5 468 668C469.3 676.5 471.3 713.8 468 723C464.7 732.2 451.5 726 448 723C444.5 720 446.7 710.5 447 705C447.3 699.5 447.8 695.5 450 690Z" fill="#cdcdcd" stroke="#8a8a8a" stroke-width="0.5"/>
<defs><clipPath id="cN3_51"><path d="M450 690C452.2 684.5 457 675.7 460 672C463 668.3 466.7 659.5 468 668C469.3 676.5 471.3 713.8 468 723C464.7 732.2 451.5 726 448 723C444.5 720 446.7 710.5 447 705C447.3 699.5 447.8 695.5 450 690Z"/></clipPath></defs>
<g clip-path="url(#cN3_51)"><rect x="360.1" y="643.4" width="105.6" height="76.3" fill="#000" filter="url(#tT)"/><rect x="360.1" y="643.4" width="105.6" height="76.3" fill="url(#vac)" /><rect x="360.1" y="643.4" width="105.6" height="76.3" fill="#000" filter="url(#tD)"/></g>
<path d="M443 641C446 638.7 463.8 637.8 468 641C472.2 644.2 471 657.7 468 660C465 662.3 454.2 658.2 450 655C445.8 651.8 440 643.3 443 641Z" fill="#cdcdcd" stroke="#8a8a8a" stroke-width="0.5"/>
<defs><clipPath id="cN3_54"><path d="M443 641C446 638.7 463.8 637.8 468 641C472.2 644.2 471 657.7 468 660C465 662.3 454.2 658.2 450 655C445.8 651.8 440 643.3 443 641Z"/></clipPath></defs>
<g clip-path="url(#cN3_54)"><rect x="360.1" y="643.4" width="105.6" height="76.3" fill="#000" filter="url(#tT)"/><rect x="360.1" y="643.4" width="105.6" height="76.3" fill="url(#vac)" /><rect x="360.1" y="643.4" width="105.6" height="76.3" fill="#000" filter="url(#tD)"/></g>
<path d="M427.7 698.2C427.9 700.1 426.4 703 424 704.3C421.7 705.5 416.8 705.7 413.4 705.6C410 705.5 406 705 403.7 703.8C401.4 702.5 399.6 700.1 399.5 698.2C399.3 696.3 400.5 693.4 402.8 692.2C405.2 690.9 410.1 690.5 413.4 690.6C416.7 690.7 420.5 691.5 422.9 692.8C425.3 694 427.5 696.3 427.7 698.2Z" fill="#b0b0b0" stroke="#5a5a5a" stroke-width="0.8" transform="rotate(0 413.4 698.2)"/>
<ellipse cx="413.4" cy="698.2" rx="6.3" ry="3.6" fill="#989898" filter="url(#bJ)"/>
<g transform="translate(401.4 682.1) rotate(19.7)"><path d="M0 0L-2.4 -4.4L-0.75 -3.9L-0.75 -11.9L0.75 -11.9L0.75 -3.9L2.4 -4.4Z" fill="#000"/></g>
</g>
<rect x="360.1" y="643.4" width="105.6" height="76.3" fill="none" stroke="#666" stroke-width="0.6"/>
<text class="S" x="464.5" y="715.4" font-size="6.4" font-weight="bold" text-anchor="end" >2&#956;m</text>
<line x1="452.7" y1="717.5" x2="463.7" y2="717.5" stroke="#000" stroke-width="1.6" />
<defs><clipPath id="cN4"><rect x="468.2" y="643.4" width="105.8" height="76.3"/></clipPath></defs>
<rect x="468.2" y="643.4" width="105.8" height="76.3" fill="#f3f3f3" />
<g clip-path="url(#cN4)">
<path d="M466 665C467.5 653.3 471 655.2 475 652C479 648.8 484.2 647.5 490 646C495.8 644.5 503.3 643.3 510 643C516.7 642.7 524.2 642.8 530 644C535.8 645.2 540.8 647.3 545 650C549.2 652.7 551.7 655.8 555 660C558.3 664.2 562.2 670 565 675C567.8 680 570.2 682.2 572 690C573.8 697.8 593.7 716.7 576 722C558.3 727.3 484.3 731.5 466 722C447.7 712.5 464.5 676.7 466 665Z" fill="#b2b2b2" stroke="#8a8a8a" stroke-width="0.5"/>
<defs><clipPath id="cN4_67"><path d="M466 665C467.5 653.3 471 655.2 475 652C479 648.8 484.2 647.5 490 646C495.8 644.5 503.3 643.3 510 643C516.7 642.7 524.2 642.8 530 644C535.8 645.2 540.8 647.3 545 650C549.2 652.7 551.7 655.8 555 660C558.3 664.2 562.2 670 565 675C567.8 680 570.2 682.2 572 690C573.8 697.8 593.7 716.7 576 722C558.3 727.3 484.3 731.5 466 722C447.7 712.5 464.5 676.7 466 665Z"/></clipPath></defs>
<g clip-path="url(#cN4_67)"><rect x="468.2" y="643.4" width="105.8" height="76.3" fill="#000" filter="url(#tT2)"/><rect x="468.2" y="643.4" width="105.8" height="76.3" fill="#000" filter="url(#tM)"/><rect x="468.2" y="643.4" width="105.8" height="76.3" fill="#000" filter="url(#tD)"/></g>
<path d="M490 722C487.3 719.2 490.2 709.5 491 705C491.8 700.5 493.5 696.8 495 695C496.5 693.2 498.5 693.2 500 694C501.5 694.8 503 697 504 700C505 703 505.5 708.3 506 712C506.5 715.7 509.7 720.3 507 722C504.3 723.7 492.7 724.8 490 722Z" fill="#9c9c9c" stroke="#3a3a3a" stroke-width="1"/>
<path d="M515 722C512 719.7 514.2 711.3 515 708C515.8 704.7 518 703.2 520 702C522 700.8 525 700 527 701C529 702 531 704.5 532 708C533 711.5 535.8 719.7 533 722C530.2 724.3 518 724.3 515 722Z" fill="#9c9c9c" stroke="#3a3a3a" stroke-width="1"/>
<circle cx="523" cy="708" r="3" fill="#505050" filter="url(#bJ)"/>
<g transform="translate(543.9 695) rotate(17.1)"><path d="M0 0L-2.4 -4.4L-0.75 -3.9L-0.75 -10.9L0.75 -10.9L0.75 -3.9L2.4 -4.4Z" fill="#000"/></g>
</g>
<rect x="468.2" y="643.4" width="105.8" height="76.3" fill="none" stroke="#666" stroke-width="0.6"/>
<text class="S" x="572.8" y="715.4" font-size="6.4" font-weight="bold" text-anchor="end" >2&#956;m</text>
<line x1="561" y1="717.5" x2="572" y2="717.5" stroke="#000" stroke-width="1.6" />
<text class="S" x="197.6" y="637.4" font-size="9.2" font-weight="bold" text-anchor="middle" >Ctrl</text>
<text class="S" x="303.1" y="637.4" font-size="9.2" font-weight="bold" text-anchor="middle" >RANKL</text>
<text class="S" x="413.8" y="637.4" font-size="9.2" font-weight="bold" text-anchor="middle" >RANKL+siSTOM</text>
<text class="S" x="520.8" y="637.4" font-size="9.2" font-weight="bold" text-anchor="middle" >RANKL+OE-STOM</text>
<rect x="611.8" y="688.8" width="11.5" height="7.1" fill="#e31a1c" />
<line x1="617.5" y1="686.4" x2="617.5" y2="688.8" stroke="#e31a1c" stroke-width="0.7" />
<line x1="615.3" y1="686.4" x2="619.8" y2="686.4" stroke="#e31a1c" stroke-width="0.7" />
<circle cx="617.5" cy="686.6" r="1.05" fill="#000"/>
<circle cx="617.5" cy="690.5" r="1.05" fill="#000"/>
<circle cx="615.3" cy="688.9" r="1.05" fill="#000"/>
<rect x="628.5" y="663.4" width="11.5" height="32.5" fill="#3a7dbf" />
<line x1="634.2" y1="657.9" x2="634.2" y2="663.4" stroke="#3a7dbf" stroke-width="0.7" />
<line x1="632" y1="657.9" x2="636.5" y2="657.9" stroke="#3a7dbf" stroke-width="0.7" />
<circle cx="634.2" cy="658.7" r="1.05" fill="#000"/>
<circle cx="634.2" cy="668" r="1.05" fill="#000"/>
<circle cx="634.2" cy="663.4" r="1.05" fill="#000"/>
<rect x="645.6" y="679.5" width="11.5" height="16.4" fill="#4cae4a" />
<line x1="651.4" y1="676.7" x2="651.4" y2="679.5" stroke="#4cae4a" stroke-width="0.7" />
<line x1="649.1" y1="676.7" x2="653.6" y2="676.7" stroke="#4cae4a" stroke-width="0.7" />
<circle cx="651.4" cy="677.3" r="1.05" fill="#000"/>
<circle cx="651.4" cy="680.4" r="1.05" fill="#000"/>
<circle cx="649.1" cy="679.6" r="1.05" fill="#000"/>
<rect x="662" y="644.8" width="11.5" height="51.1" fill="#9a4ea3" />
<line x1="667.8" y1="640.1" x2="667.8" y2="644.8" stroke="#9a4ea3" stroke-width="0.7" />
<line x1="665.5" y1="640.1" x2="670" y2="640.1" stroke="#9a4ea3" stroke-width="0.7" />
<circle cx="667.8" cy="640.1" r="1.05" fill="#000"/>
<circle cx="667.8" cy="649.4" r="1.05" fill="#000"/>
<circle cx="667.8" cy="644.8" r="1.05" fill="#000"/>
<line x1="606.1" y1="695.9" x2="606.1" y2="633.8" stroke="#222" stroke-width="0.9" />
<line x1="606.1" y1="695.9" x2="678.5" y2="695.9" stroke="#222" stroke-width="0.9" />
<line x1="604.1" y1="695.9" x2="606.1" y2="695.9" stroke="#222" stroke-width="0.81" />
<text class="S" x="603.5" y="697.5" font-size="4.4" fill="#222" font-weight="bold" text-anchor="end" letter-spacing="0.3">0</text>
<line x1="604.1" y1="680.4" x2="606.1" y2="680.4" stroke="#222" stroke-width="0.81" />
<text class="S" x="603.5" y="682" font-size="4.4" fill="#222" font-weight="bold" text-anchor="end" letter-spacing="0.3">10</text>
<line x1="604.1" y1="664.9" x2="606.1" y2="664.9" stroke="#222" stroke-width="0.81" />
<text class="S" x="603.5" y="666.5" font-size="4.4" fill="#222" font-weight="bold" text-anchor="end" letter-spacing="0.3">20</text>
<line x1="604.1" y1="649.4" x2="606.1" y2="649.4" stroke="#222" stroke-width="0.81" />
<text class="S" x="603.5" y="651" font-size="4.4" fill="#222" font-weight="bold" text-anchor="end" letter-spacing="0.3">30</text>
<line x1="604.1" y1="633.9" x2="606.1" y2="633.9" stroke="#222" stroke-width="0.81" />
<text class="S" x="603.5" y="635.5" font-size="4.4" fill="#222" font-weight="bold" text-anchor="end" letter-spacing="0.3">40</text>
<line x1="617.5" y1="695.9" x2="617.5" y2="697.9" stroke="#222" stroke-width="0.81" />
<line x1="634.2" y1="695.9" x2="634.2" y2="697.9" stroke="#222" stroke-width="0.81" />
<line x1="651.4" y1="695.9" x2="651.4" y2="697.9" stroke="#222" stroke-width="0.81" />
<line x1="667.8" y1="695.9" x2="667.8" y2="697.9" stroke="#222" stroke-width="0.81" />
<line x1="613.4" y1="644.7" x2="627.5" y2="644.7" stroke="#111" stroke-width="0.9" />
<text class="S" x="620.5" y="643.2" font-size="3.3" fill="#111" font-weight="bold" text-anchor="middle" >p=0.0004</text>
<line x1="637.4" y1="644.7" x2="652.2" y2="644.7" stroke="#111" stroke-width="0.9" />
<text class="S" x="644.8" y="643.2" font-size="3.3" fill="#111" font-weight="bold" text-anchor="middle" >p=0.0013</text>
<line x1="637.4" y1="635.2" x2="667.6" y2="635.2" stroke="#111" stroke-width="0.9" />
<text class="S" x="652.5" y="633.2" font-size="3.3" fill="#111" font-weight="bold" text-anchor="middle" >p=0.0030</text>
<text class="R" x="592.9" y="665.6" font-size="6.8" font-weight="bold" text-anchor="middle" transform="rotate(-90 592.9 665.6)">Number of swollen mitochondria</text>
<g transform="translate(619 703.4) rotate(-45)"><text class="R" x="0" y="0" font-size="5.2" text-anchor="end" >Ctrl</text></g>
<g transform="translate(635.8 703.4) rotate(-45)"><text class="R" x="0" y="0" font-size="5.2" text-anchor="end" >RANKL</text></g>
<g transform="translate(652.9 703.4) rotate(-45)"><text class="R" x="0" y="0" font-size="5.2" text-anchor="end" >RANKL+siSTOM</text></g>
<g transform="translate(669.2 703.4) rotate(-45)"><text class="R" x="0" y="0" font-size="5.2" text-anchor="end" >RANKL+OE-STOM</text></g>
<defs><filter id="ogA" x="0" y="0" width="1" height="1" color-interpolation-filters="sRGB"><feTurbulence type="fractalNoise" baseFrequency="0.45" numOctaves="2" seed="21"/><feColorMatrix type="matrix" values="1 0 0 0 0 0 1 0 0 0 0 0 1 0 0 0 0 0 0 1" result="a"/><feTurbulence type="fractalNoise" baseFrequency="0.07" numOctaves="2" seed="121"/><feColorMatrix type="matrix" values="1 0 0 0 0 0 1 0 0 0 0 0 1 0 0 0 0 0 0 1" result="b"/><feComposite in="a" in2="b" operator="arithmetic" k1="0" k2="1" k3="0.5" k4="-0.25"/><feColorMatrix type="matrix" values="0 0 0 0 0.122 0 0 0 0 0.576 0 0 0 0 0.122 3 0 0 0 -1.204"/></filter><filter id="ogA2" x="0" y="0" width="1" height="1" color-interpolation-filters="sRGB"><feTurbulence type="fractalNoise" baseFrequency="0.55" numOctaves="2" seed="121"/><feColorMatrix type="matrix" values="1 0 0 0 0 0 1 0 0 0 0 0 1 0 0 0 0 0 0 1" result="a"/><feTurbulence type="fractalNoise" baseFrequency="0.07" numOctaves="2" seed="221"/><feColorMatrix type="matrix" values="1 0 0 0 0 0 1 0 0 0 0 0 1 0 0 0 0 0 0 1" result="b"/><feComposite in="a" in2="b" operator="arithmetic" k1="0" k2="1" k3="0.6" k4="-0.3"/><feColorMatrix type="matrix" values="0 0 0 0 0.267 0 0 0 0 0.831 0 0 0 0 0.267 6 0 0 0 -3.588"/></filter><filter id="ogB" x="0" y="0" width="1" height="1" color-interpolation-filters="sRGB"><feTurbulence type="fractalNoise" baseFrequency="0.45" numOctaves="2" seed="23"/><feColorMatrix type="matrix" values="1 0 0 0 0 0 1 0 0 0 0 0 1 0 0 0 0 0 0 1" result="a"/><feTurbulence type="fractalNoise" baseFrequency="0.07" numOctaves="2" seed="123"/><feColorMatrix type="matrix" values="1 0 0 0 0 0 1 0 0 0 0 0 1 0 0 0 0 0 0 1" result="b"/><feComposite in="a" in2="b" operator="arithmetic" k1="0" k2="1" k3="0.5" k4="-0.25"/><feColorMatrix type="matrix" values="0 0 0 0 0.129 0 0 0 0 0.584 0 0 0 0 0.129 3 0 0 0 -1.227"/></filter><filter id="ogB2" x="0" y="0" width="1" height="1" color-interpolation-filters="sRGB"><feTurbulence type="fractalNoise" baseFrequency="0.55" numOctaves="2" seed="123"/><feColorMatrix type="matrix" values="1 0 0 0 0 0 1 0 0 0 0 0 1 0 0 0 0 0 0 1" result="a"/><feTurbulence type="fractalNoise" baseFrequency="0.07" numOctaves="2" seed="223"/><feColorMatrix type="matrix" values="1 0 0 0 0 0 1 0 0 0 0 0 1 0 0 0 0 0 0 1" result="b"/><feComposite in="a" in2="b" operator="arithmetic" k1="0" k2="1" k3="0.6" k4="-0.3"/><feColorMatrix type="matrix" values="0 0 0 0 0.267 0 0 0 0 0.831 0 0 0 0 0.267 6 0 0 0 -3.640"/></filter><filter id="ogC" x="0" y="0" width="1" height="1" color-interpolation-filters="sRGB"><feTurbulence type="fractalNoise" baseFrequency="0.45" numOctaves="2" seed="25"/><feColorMatrix type="matrix" values="1 0 0 0 0 0 1 0 0 0 0 0 1 0 0 0 0 0 0 1" result="a"/><feTurbulence type="fractalNoise" baseFrequency="0.07" numOctaves="2" seed="125"/><feColorMatrix type="matrix" values="1 0 0 0 0 0 1 0 0 0 0 0 1 0 0 0 0 0 0 1" result="b"/><feComposite in="a" in2="b" operator="arithmetic" k1="0" k2="1" k3="0.6" k4="-0.3"/><feColorMatrix type="matrix" values="0 0 0 0 0.110 0 0 0 0 0.522 0 0 0 0 0.110 3 0 0 0 -1.342"/></filter><filter id="ogC2" x="0" y="0" width="1" height="1" color-interpolation-filters="sRGB"><feTurbulence type="fractalNoise" baseFrequency="0.55" numOctaves="2" seed="125"/><feColorMatrix type="matrix" values="1 0 0 0 0 0 1 0 0 0 0 0 1 0 0 0 0 0 0 1" result="a"/><feTurbulence type="fractalNoise" baseFrequency="0.07" numOctaves="2" seed="225"/><feColorMatrix type="matrix" values="1 0 0 0 0 0 1 0 0 0 0 0 1 0 0 0 0 0 0 1" result="b"/><feComposite in="a" in2="b" operator="arithmetic" k1="0" k2="1" k3="0.7" k4="-0.35"/><feColorMatrix type="matrix" values="0 0 0 0 0.251 0 0 0 0 0.784 0 0 0 0 0.251 6 0 0 0 -3.897"/></filter><filter id="ogD" x="0" y="0" width="1" height="1" color-interpolation-filters="sRGB"><feTurbulence type="fractalNoise" baseFrequency="0.4" numOctaves="2" seed="27"/><feColorMatrix type="matrix" values="1 0 0 0 0 0 1 0 0 0 0 0 1 0 0 0 0 0 0 1" result="a"/><feTurbulence type="fractalNoise" baseFrequency="0.07" numOctaves="2" seed="127"/><feColorMatrix type="matrix" values="1 0 0 0 0 0 1 0 0 0 0 0 1 0 0 0 0 0 0 1" result="b"/><feComposite in="a" in2="b" operator="arithmetic" k1="0" k2="1" k3="0.5" k4="-0.25"/><feColorMatrix type="matrix" values="0 0 0 0 0.165 0 0 0 0 0.659 0 0 0 0 0.165 3 0 0 0 -1.139"/></filter><filter id="ogD2" x="0" y="0" width="1" height="1" color-interpolation-filters="sRGB"><feTurbulence type="fractalNoise" baseFrequency="0.5" numOctaves="2" seed="127"/><feColorMatrix type="matrix" values="1 0 0 0 0 0 1 0 0 0 0 0 1 0 0 0 0 0 0 1" result="a"/><feTurbulence type="fractalNoise" baseFrequency="0.07" numOctaves="2" seed="227"/><feColorMatrix type="matrix" values="1 0 0 0 0 0 1 0 0 0 0 0 1 0 0 0 0 0 0 1" result="b"/><feComposite in="a" in2="b" operator="arithmetic" k1="0" k2="1" k3="0.6" k4="-0.3"/><feColorMatrix type="matrix" values="0 0 0 0 0.298 0 0 0 0 0.878 0 0 0 0 0.298 6 0 0 0 -3.454"/></filter><filter id="orA" x="0" y="0" width="1" height="1" color-interpolation-filters="sRGB"><feTurbulence type="fractalNoise" baseFrequency="0.55" numOctaves="2" seed="31"/><feColorMatrix type="matrix" values="1 0 0 0 0 0 1 0 0 0 0 0 1 0 0 0 0 0 0 1" result="a"/><feTurbulence type="fractalNoise" baseFrequency="0.07" numOctaves="2" seed="131"/><feColorMatrix type="matrix" values="1 0 0 0 0 0 1 0 0 0 0 0 1 0 0 0 0 0 0 1" result="b"/><feComposite in="a" in2="b" operator="arithmetic" k1="0" k2="1" k3="0.45" k4="-0.225"/><feColorMatrix type="matrix" values="0 0 0 0 0.627 0 0 0 0 0.063 0 0 0 0 0.165 4 0 0 0 -2.291"/></filter><filter id="orB" x="0" y="0" width="1" height="1" color-interpolation-filters="sRGB"><feTurbulence type="fractalNoise" baseFrequency="0.5" numOctaves="2" seed="33"/><feColorMatrix type="matrix" values="1 0 0 0 0 0 1 0 0 0 0 0 1 0 0 0 0 0 0 1" result="a"/><feTurbulence type="fractalNoise" baseFrequency="0.07" numOctaves="2" seed="133"/><feColorMatrix type="matrix" values="1 0 0 0 0 0 1 0 0 0 0 0 1 0 0 0 0 0 0 1" result="b"/><feComposite in="a" in2="b" operator="arithmetic" k1="0" k2="1" k3="0.45" k4="-0.225"/><feColorMatrix type="matrix" values="0 0 0 0 0.847 0 0 0 0 0.063 0 0 0 0 0.227 4 0 0 0 -2.006"/></filter><filter id="orC" x="0" y="0" width="1" height="1" color-interpolation-filters="sRGB"><feTurbulence type="fractalNoise" baseFrequency="0.55" numOctaves="2" seed="35"/><feColorMatrix type="matrix" values="1 0 0 0 0 0 1 0 0 0 0 0 1 0 0 0 0 0 0 1" result="a"/><feTurbulence type="fractalNoise" baseFrequency="0.07" numOctaves="2" seed="135"/><feColorMatrix type="matrix" values="1 0 0 0 0 0 1 0 0 0 0 0 1 0 0 0 0 0 0 1" result="b"/><feComposite in="a" in2="b" operator="arithmetic" k1="0" k2="1" k3="0.5" k4="-0.25"/><feColorMatrix type="matrix" values="0 0 0 0 0.722 0 0 0 0 0.063 0 0 0 0 0.227 4 0 0 0 -2.307"/></filter><filter id="orD" x="0" y="0" width="1" height="1" color-interpolation-filters="sRGB"><feTurbulence type="fractalNoise" baseFrequency="0.45" numOctaves="2" seed="37"/><feColorMatrix type="matrix" values="1 0 0 0 0 0 1 0 0 0 0 0 1 0 0 0 0 0 0 1" result="a"/><feTurbulence type="fractalNoise" baseFrequency="0.07" numOctaves="2" seed="137"/><feColorMatrix type="matrix" values="1 0 0 0 0 0 1 0 0 0 0 0 1 0 0 0 0 0 0 1" result="b"/><feComposite in="a" in2="b" operator="arithmetic" k1="0" k2="1" k3="0.45" k4="-0.225"/><feColorMatrix type="matrix" values="0 0 0 0 0.910 0 0 0 0 0.094 0 0 0 0 0.282 4 0 0 0 -1.797"/></filter><filter id="oyD" x="0" y="0" width="1" height="1" color-interpolation-filters="sRGB"><feTurbulence type="fractalNoise" baseFrequency="0.45" numOctaves="2" seed="39"/><feColorMatrix type="matrix" values="1 0 0 0 0 0 1 0 0 0 0 0 1 0 0 0 0 0 0 1" result="a"/><feTurbulence type="fractalNoise" baseFrequency="0.08" numOctaves="2" seed="139"/><feColorMatrix type="matrix" values="1 0 0 0 0 0 1 0 0 0 0 0 1 0 0 0 0 0 0 1" result="b"/><feComposite in="a" in2="b" operator="arithmetic" k1="0" k2="1" k3="0.35" k4="-0.175"/><feColorMatrix type="matrix" values="0 0 0 0 0.847 0 0 0 0 0.753 0 0 0 0 0.125 4 0 0 0 -2.078"/></filter><filter id="pm1" x="0" y="0" width="1" height="1" color-interpolation-filters="sRGB"><feTurbulence type="fractalNoise" baseFrequency="0.6" numOctaves="2" seed="41"/><feColorMatrix type="matrix" values="1 0 0 0 0 0 1 0 0 0 0 0 1 0 0 0 0 0 0 1" result="a"/><feTurbulence type="fractalNoise" baseFrequency="0.08" numOctaves="2" seed="141"/><feColorMatrix type="matrix" values="1 0 0 0 0 0 1 0 0 0 0 0 1 0 0 0 0 0 0 1" result="b"/><feComposite in="a" in2="b" operator="arithmetic" k1="0" k2="1" k3="0.3" k4="-0.15"/><feColorMatrix type="matrix" values="0 0 0 0 0.235 0 0 0 0 0.722 0 0 0 0 0.235 6 0 0 0 -3.474"/></filter><filter id="pm2" x="0" y="0" width="1" height="1" color-interpolation-filters="sRGB"><feTurbulence type="fractalNoise" baseFrequency="0.35" numOctaves="2" seed="43"/><feColorMatrix type="matrix" values="1 0 0 0 0 0 1 0 0 0 0 0 1 0 0 0 0 0 0 1" result="a"/><feTurbulence type="fractalNoise" baseFrequency="0.06" numOctaves="2" seed="143"/><feColorMatrix type="matrix" values="1 0 0 0 0 0 1 0 0 0 0 0 1 0 0 0 0 0 0 1" result="b"/><feComposite in="a" in2="b" operator="arithmetic" k1="0" k2="1" k3="0.6" k4="-0.3"/><feColorMatrix type="matrix" values="0 0 0 0 0.149 0 0 0 0 0.494 0 0 0 0 0.149 4 0 0 0 -2.260"/></filter><filter id="pa1" x="0" y="0" width="1" height="1" color-interpolation-filters="sRGB"><feTurbulence type="fractalNoise" baseFrequency="0.6" numOctaves="2" seed="45"/><feColorMatrix type="matrix" values="1 0 0 0 0 0 1 0 0 0 0 0 1 0 0 0 0 0 0 1" result="a"/><feTurbulence type="fractalNoise" baseFrequency="0.08" numOctaves="2" seed="145"/><feColorMatrix type="matrix" values="1 0 0 0 0 0 1 0 0 0 0 0 1 0 0 0 0 0 0 1" result="b"/><feComposite in="a" in2="b" operator="arithmetic" k1="0" k2="1" k3="0.3" k4="-0.15"/><feColorMatrix type="matrix" values="0 0 0 0 0.502 0 0 0 0 0.063 0 0 0 0 0.063 5 0 0 0 -2.941"/></filter><filter id="pa2" x="0" y="0" width="1" height="1" color-interpolation-filters="sRGB"><feTurbulence type="fractalNoise" baseFrequency="0.5" numOctaves="2" seed="47"/><feColorMatrix type="matrix" values="1 0 0 0 0 0 1 0 0 0 0 0 1 0 0 0 0 0 0 1" result="a"/><feTurbulence type="fractalNoise" baseFrequency="0.07" numOctaves="2" seed="147"/><feColorMatrix type="matrix" values="1 0 0 0 0 0 1 0 0 0 0 0 1 0 0 0 0 0 0 1" result="b"/><feComposite in="a" in2="b" operator="arithmetic" k1="0" k2="1" k3="0.5" k4="-0.25"/><feColorMatrix type="matrix" values="0 0 0 0 0.894 0 0 0 0 0.173 0 0 0 0 0.063 5 0 0 0 -2.795"/></filter><filter id="pa3" x="0" y="0" width="1" height="1" color-interpolation-filters="sRGB"><feTurbulence type="fractalNoise" baseFrequency="0.5" numOctaves="2" seed="49"/><feColorMatrix type="matrix" values="1 0 0 0 0 0 1 0 0 0 0 0 1 0 0 0 0 0 0 1" result="a"/><feTurbulence type="fractalNoise" baseFrequency="0.07" numOctaves="2" seed="149"/><feColorMatrix type="matrix" values="1 0 0 0 0 0 1 0 0 0 0 0 1 0 0 0 0 0 0 1" result="b"/><feComposite in="a" in2="b" operator="arithmetic" k1="0" k2="1" k3="0.5" k4="-0.25"/><feColorMatrix type="matrix" values="0 0 0 0 0.690 0 0 0 0 0.102 0 0 0 0 0.039 5 0 0 0 -3.008"/></filter><filter id="pa4" x="0" y="0" width="1" height="1" color-interpolation-filters="sRGB"><feTurbulence type="fractalNoise" baseFrequency="0.45" numOctaves="2" seed="51"/><feColorMatrix type="matrix" values="1 0 0 0 0 0 1 0 0 0 0 0 1 0 0 0 0 0 0 1" result="a"/><feTurbulence type="fractalNoise" baseFrequency="0.07" numOctaves="2" seed="151"/><feColorMatrix type="matrix" values="1 0 0 0 0 0 1 0 0 0 0 0 1 0 0 0 0 0 0 1" result="b"/><feComposite in="a" in2="b" operator="arithmetic" k1="0" k2="1" k3="0.5" k4="-0.25"/><feColorMatrix type="matrix" values="0 0 0 0 0.957 0 0 0 0 0.235 0 0 0 0 0.094 5 0 0 0 -2.569"/></filter><filter id="po2" x="0" y="0" width="1" height="1" color-interpolation-filters="sRGB"><feTurbulence type="fractalNoise" baseFrequency="0.5" numOctaves="2" seed="53"/><feColorMatrix type="matrix" values="1 0 0 0 0 0 1 0 0 0 0 0 1 0 0 0 0 0 0 1" result="a"/><feTurbulence type="fractalNoise" baseFrequency="0.07" numOctaves="2" seed="153"/><feColorMatrix type="matrix" values="1 0 0 0 0 0 1 0 0 0 0 0 1 0 0 0 0 0 0 1" result="b"/><feComposite in="a" in2="b" operator="arithmetic" k1="0" k2="1" k3="0.5" k4="-0.25"/><feColorMatrix type="matrix" values="0 0 0 0 0.863 0 0 0 0 0.431 0 0 0 0 0.063 5 0 0 0 -2.795"/></filter><filter id="po3" x="0" y="0" width="1" height="1" color-interpolation-filters="sRGB"><feTurbulence type="fractalNoise" baseFrequency="0.5" numOctaves="2" seed="49"/><feColorMatrix type="matrix" values="1 0 0 0 0 0 1 0 0 0 0 0 1 0 0 0 0 0 0 1" result="a"/><feTurbulence type="fractalNoise" baseFrequency="0.07" numOctaves="2" seed="149"/><feColorMatrix type="matrix" values="1 0 0 0 0 0 1 0 0 0 0 0 1 0 0 0 0 0 0 1" result="b"/><feComposite in="a" in2="b" operator="arithmetic" k1="0" k2="1" k3="0.5" k4="-0.25"/><feColorMatrix type="matrix" values="0 0 0 0 0.627 0 0 0 0 0.345 0 0 0 0 0.063 5 0 0 0 -3.008"/></filter><filter id="po4" x="0" y="0" width="1" height="1" color-interpolation-filters="sRGB"><feTurbulence type="fractalNoise" baseFrequency="0.45" numOctaves="2" seed="55"/><feColorMatrix type="matrix" values="1 0 0 0 0 0 1 0 0 0 0 0 1 0 0 0 0 0 0 1" result="a"/><feTurbulence type="fractalNoise" baseFrequency="0.07" numOctaves="2" seed="155"/><feColorMatrix type="matrix" values="1 0 0 0 0 0 1 0 0 0 0 0 1 0 0 0 0 0 0 1" result="b"/><feComposite in="a" in2="b" operator="arithmetic" k1="0" k2="1" k3="0.5" k4="-0.25"/><feColorMatrix type="matrix" values="0 0 0 0 0.925 0 0 0 0 0.314 0 0 0 0 0.063 5 0 0 0 -2.569"/></filter><filter id="bF" x="-20%" y="-20%" width="140%" height="140%"><feGaussianBlur stdDeviation="0.5"/></filter><pattern id="pdots" x="0" y="0" width="37" height="29" patternUnits="userSpaceOnUse"><circle cx="14.9" cy="5.8" r="0.8" fill="#3fbf3f" opacity="0.7"/><circle cx="9.2" cy="22" r="0.9" fill="#3fbf3f" opacity="1"/><circle cx="19.6" cy="20.3" r="0.7" fill="#3fbf3f" opacity="1"/><circle cx="7.4" cy="20.9" r="0.8" fill="#3fbf3f" opacity="0.85"/><circle cx="30.4" cy="25" r="0.8" fill="#3fbf3f" opacity="0.7"/><circle cx="17.1" cy="5.2" r="0.9" fill="#3fbf3f" opacity="0.5"/><circle cx="35" cy="15.3" r="0.7" fill="#3fbf3f" opacity="1"/><circle cx="11.7" cy="1.2" r="0.7" fill="#3fbf3f" opacity="1"/><circle cx="7.5" cy="28.7" r="0.7" fill="#3fbf3f" opacity="1"/><circle cx="19.2" cy="5.7" r="1.0" fill="#3fbf3f" opacity="0.5"/><circle cx="13.2" cy="6.3" r="0.8" fill="#3fbf3f" opacity="1"/><circle cx="22" cy="28.5" r="0.8" fill="#3fbf3f" opacity="0.5"/><circle cx="4.1" cy="5" r="1.0" fill="#3fbf3f" opacity="0.5"/><circle cx="34.7" cy="18.3" r="0.8" fill="#3fbf3f" opacity="0.85"/><circle cx="22.8" cy="11.1" r="0.8" fill="#3fbf3f" opacity="1"/><circle cx="7.4" cy="22.8" r="0.7" fill="#3fbf3f" opacity="0.7"/><circle cx="16.4" cy="15.8" r="0.8" fill="#3fbf3f" opacity="0.85"/><circle cx="34.8" cy="13.8" r="0.7" fill="#3fbf3f" opacity="0.7"/><circle cx="27.3" cy="20.8" r="0.8" fill="#3fbf3f" opacity="1"/><circle cx="4.6" cy="3.4" r="0.9" fill="#3fbf3f" opacity="0.7"/><circle cx="36.7" cy="11.9" r="0.8" fill="#3fbf3f" opacity="0.85"/><circle cx="28.5" cy="23.1" r="0.9" fill="#3fbf3f" opacity="0.5"/><circle cx="31.7" cy="10.5" r="0.7" fill="#3fbf3f" opacity="0.85"/><circle cx="0.4" cy="24.1" r="0.9" fill="#3fbf3f" opacity="0.7"/><circle cx="13.9" cy="9.8" r="1.0" fill="#3fbf3f" opacity="1"/><circle cx="15.3" cy="10.8" r="0.7" fill="#3fbf3f" opacity="0.7"/><circle cx="32.5" cy="26.8" r="1.0" fill="#3fbf3f" opacity="1"/><circle cx="8.5" cy="24.8" r="0.8" fill="#3fbf3f" opacity="0.85"/><circle cx="3.9" cy="19.9" r="0.9" fill="#3fbf3f" opacity="0.7"/><circle cx="28.3" cy="20.6" r="0.8" fill="#3fbf3f" opacity="1"/><circle cx="11" cy="21.8" r="0.7" fill="#3fbf3f" opacity="1"/><circle cx="15.6" cy="26.3" r="0.7" fill="#3fbf3f" opacity="0.85"/><circle cx="33.6" cy="25.4" r="1.0" fill="#3fbf3f" opacity="0.7"/><circle cx="34.4" cy="7.4" r="0.9" fill="#3fbf3f" opacity="1"/><circle cx="35.8" cy="24" r="0.8" fill="#3fbf3f" opacity="0.85"/><circle cx="14" cy="19.7" r="1.0" fill="#3fbf3f" opacity="0.7"/><circle cx="14.1" cy="25.7" r="0.9" fill="#3fbf3f" opacity="0.5"/><circle cx="24.7" cy="20.1" r="0.8" fill="#3fbf3f" opacity="0.7"/><circle cx="29.2" cy="7.6" r="1.0" fill="#3fbf3f" opacity="0.7"/><circle cx="15.1" cy="25" r="1.0" fill="#3fbf3f" opacity="0.5"/><circle cx="4.2" cy="15.4" r="0.7" fill="#3fbf3f" opacity="0.85"/><circle cx="35.1" cy="28.4" r="0.8" fill="#3fbf3f" opacity="1"/><circle cx="34.5" cy="7.7" r="1.0" fill="#3fbf3f" opacity="1"/><circle cx="20.7" cy="18.2" r="0.9" fill="#3fbf3f" opacity="0.7"/><circle cx="27.4" cy="29" r="0.9" fill="#3fbf3f" opacity="0.5"/><circle cx="21.5" cy="27.9" r="1.0" fill="#3fbf3f" opacity="0.85"/><circle cx="13.7" cy="16.2" r="0.9" fill="#3fbf3f" opacity="0.7"/><circle cx="28" cy="28.8" r="1.0" fill="#3fbf3f" opacity="1"/><circle cx="29.2" cy="7.7" r="0.9" fill="#3fbf3f" opacity="0.7"/><circle cx="32.5" cy="26.2" r="1.0" fill="#3fbf3f" opacity="1"/><circle cx="20.8" cy="20.7" r="0.9" fill="#3fbf3f" opacity="0.85"/><circle cx="7.7" cy="13.4" r="1.0" fill="#3fbf3f" opacity="0.7"/><circle cx="30.6" cy="27.2" r="1.0" fill="#3fbf3f" opacity="1"/><circle cx="24.6" cy="28.4" r="0.8" fill="#3fbf3f" opacity="1"/><circle cx="19.4" cy="3.3" r="1.0" fill="#3fbf3f" opacity="0.5"/><circle cx="12.4" cy="21.3" r="0.9" fill="#3fbf3f" opacity="0.5"/><circle cx="21.6" cy="12" r="0.8" fill="#3fbf3f" opacity="0.7"/><circle cx="21.8" cy="1.4" r="0.7" fill="#3fbf3f" opacity="0.5"/><circle cx="12.7" cy="6.7" r="0.9" fill="#3fbf3f" opacity="0.7"/><circle cx="31" cy="1.7" r="1.0" fill="#3fbf3f" opacity="0.7"/></pattern><clipPath id="c00"><rect x="11.6" y="764" width="68.1" height="50.5"/></clipPath><clipPath id="c01"><rect x="11.6" y="817.2" width="68.1" height="50.8"/></clipPath><clipPath id="c02"><rect x="11.6" y="870.8" width="68.1" height="50.9"/></clipPath><clipPath id="c10"><rect x="81.7" y="764" width="67.4" height="50.5"/></clipPath><clipPath id="c11"><rect x="81.7" y="817.2" width="67.4" height="50.8"/></clipPath><clipPath id="c12"><rect x="81.7" y="870.8" width="67.4" height="50.9"/></clipPath><clipPath id="c20"><rect x="151.1" y="764" width="67.5" height="50.5"/></clipPath><clipPath id="c21"><rect x="151.1" y="817.2" width="67.5" height="50.8"/></clipPath><clipPath id="c22"><rect x="151.1" y="870.8" width="67.5" height="50.9"/></clipPath><clipPath id="c30"><rect x="220.6" y="764" width="67.3" height="50.5"/></clipPath><clipPath id="c31"><rect x="220.6" y="817.2" width="67.3" height="50.8"/></clipPath><clipPath id="c32"><rect x="220.6" y="870.8" width="67.3" height="50.9"/></clipPath><clipPath id="c40"><rect x="309.1" y="764" width="67.9" height="50.5"/></clipPath><clipPath id="c41"><rect x="309.1" y="817.2" width="67.9" height="50.8"/></clipPath><clipPath id="c42"><rect x="309.1" y="870.8" width="67.9" height="50.9"/></clipPath><clipPath id="c50"><rect x="379.2" y="764" width="66.9" height="50.5"/></clipPath><clipPath id="c51"><rect x="379.2" y="817.2" width="66.9" height="50.8"/></clipPath><clipPath id="c52"><rect x="379.2" y="870.8" width="66.9" height="50.9"/></clipPath><clipPath id="c60"><rect x="448.5" y="764" width="67.1" height="50.5"/></clipPath><clipPath id="c61"><rect x="448.5" y="817.2" width="67.1" height="50.8"/></clipPath><clipPath id="c62"><rect x="448.5" y="870.8" width="67.1" height="50.9"/></clipPath><clipPath id="c70"><rect x="518" y="764" width="67.8" height="50.5"/></clipPath><clipPath id="c71"><rect x="518" y="817.2" width="67.8" height="50.8"/></clipPath><clipPath id="c72"><rect x="518" y="870.8" width="67.8" height="50.9"/></clipPath></defs>
<text class="S" x="0" y="758.8" font-size="11.5" font-weight="bold" >O</text>
<text class="S" x="44" y="759.3" font-size="7.5" font-weight="bold" text-anchor="middle" >Ctrl</text>
<text class="S" x="113.8" y="759.3" font-size="7.5" font-weight="bold" text-anchor="middle" >RANKL</text>
<text class="S" x="183.2" y="759.3" font-size="7.5" font-weight="bold" text-anchor="middle" >RANKL+siSTOM</text>
<text class="S" x="252.7" y="759.3" font-size="7.5" font-weight="bold" text-anchor="middle" >RANKL+OE-STOM</text>
<text class="S" x="8.6" y="790.7" font-size="8.4" fill="#5cbf4a" font-weight="bold" text-anchor="middle" transform="rotate(-90 8.6 790.7)">F-actin</text>
<text class="S" x="8.6" y="844" font-size="8.4" fill="#e8192c" font-weight="bold" text-anchor="middle" transform="rotate(-90 8.6 844)">MitoSOX</text>
<text class="S" x="8.6" y="894.8" font-size="8.4" fill="#f08a3a" font-weight="bold" text-anchor="middle" transform="rotate(-90 8.6 894.8)">Merge</text>
<rect x="11.6" y="764" width="68.1" height="50.5" fill="#000" />
<g clip-path="url(#c00)">
<rect x="11.6" y="764" width="68.1" height="50.5" fill="#000" filter="url(#ogA)"/>
<rect x="11.6" y="764" width="68.1" height="50.5" fill="#000" filter="url(#ogA2)"/>
</g>
<text class="S" x="68.1" y="806.1" font-size="5.6" fill="#fff" font-weight="bold" text-anchor="middle" >200&#956;m</text>
<line x1="59.3" y1="808.5" x2="75.6" y2="808.5" stroke="#fff" stroke-width="1.6" />
<rect x="81.7" y="764" width="67.4" height="50.5" fill="#000" />
<g clip-path="url(#c10)">
<rect x="81.7" y="764" width="67.4" height="50.5" fill="#000" filter="url(#ogB)"/>
<rect x="81.7" y="764" width="67.4" height="50.5" fill="#000" filter="url(#ogB2)"/>
<path d="M122.5 786.5C122.5 788.1 121.8 790.1 120.6 791.4C119.5 792.7 117.4 794.4 115.6 794.6C113.8 794.8 111.5 793.6 110 792.6C108.5 791.7 107.2 790.4 106.4 788.9C105.7 787.5 105 785.3 105.5 783.8C106.1 782.3 108.1 780.8 109.8 780C111.4 779.3 113.7 779.1 115.4 779.4C117.2 779.7 119.1 780.6 120.3 781.8C121.5 783 122.4 784.9 122.5 786.5Z" fill="#1c4f1c" stroke="#4ae04a" stroke-width="1.3" filter="url(#bF)"/>
<path d="M138.8 778C138.8 778.6 138.5 779.2 138.1 779.7C137.7 780.2 137.2 780.9 136.5 781.1C135.9 781.3 134.9 781.2 134.3 780.9C133.7 780.6 133.2 779.7 133 779.1C132.8 778.4 132.8 777.5 133.1 776.9C133.3 776.3 134 775.8 134.6 775.5C135.1 775.2 135.9 775 136.5 775.1C137.1 775.2 137.7 775.8 138.1 776.3C138.4 776.8 138.8 777.4 138.8 778Z" fill="none" stroke="#45d045" stroke-width="1" filter="url(#bF)"/>
<path d="M98.2 800C98.2 800.5 97.6 801.1 97.2 801.5C96.7 801.9 96.1 802.1 95.5 802.3C94.8 802.5 93.8 802.7 93.3 802.5C92.8 802.2 92.6 801.4 92.3 800.8C92.1 800.2 91.6 799.5 91.8 799C92 798.5 92.8 798 93.4 797.8C94.1 797.5 94.9 797.2 95.6 797.3C96.2 797.4 96.9 797.9 97.4 798.3C97.8 798.8 98.2 799.5 98.2 800Z" fill="none" stroke="#45d045" stroke-width="1" filter="url(#bF)"/>
<path d="M130.7 805C130.7 805.7 130.8 806.6 130.4 807.1C130.1 807.5 129.1 807.7 128.5 807.7C127.8 807.8 127 807.8 126.5 807.5C126 807.2 125.7 806.5 125.5 805.9C125.3 805.3 125.4 804.7 125.6 804.1C125.7 803.5 126.1 802.8 126.6 802.5C127 802.2 127.8 802.4 128.4 802.5C129.1 802.6 129.8 802.7 130.2 803.1C130.6 803.6 130.7 804.3 130.7 805Z" fill="none" stroke="#45d045" stroke-width="1" filter="url(#bF)"/>
<path d="M106.8 772C106.8 772.6 106.6 773.4 106.2 773.8C105.8 774.2 105 774.4 104.4 774.4C103.9 774.4 103.3 774.2 102.9 773.9C102.5 773.6 101.9 773.3 101.8 772.8C101.6 772.4 101.8 771.7 102 771.3C102.1 770.8 102.4 770.3 102.9 770C103.3 769.7 103.9 769.4 104.4 769.4C105 769.5 105.6 769.9 106 770.3C106.4 770.8 106.7 771.4 106.8 772Z" fill="none" stroke="#45d045" stroke-width="1" filter="url(#bF)"/>
</g>
<text class="S" x="137.5" y="806.1" font-size="5.6" fill="#fff" font-weight="bold" text-anchor="middle" >200&#956;m</text>
<line x1="128.7" y1="808.5" x2="145" y2="808.5" stroke="#fff" stroke-width="1.6" />
<rect x="151.1" y="764" width="67.5" height="50.5" fill="#000" />
<g clip-path="url(#c20)">
<rect x="151.1" y="764" width="67.5" height="50.5" fill="#000" filter="url(#ogC)"/>
<rect x="151.1" y="764" width="67.5" height="50.5" fill="#000" filter="url(#ogC2)"/>
<path d="M178.1 784C178.1 784.7 178.1 785.4 177.8 785.9C177.4 786.4 176.6 786.8 176 786.9C175.4 787 174.5 786.8 174 786.5C173.5 786.2 173.2 785.5 173 784.9C172.8 784.3 172.6 783.5 172.8 783C173 782.5 173.6 782.1 174.2 781.7C174.7 781.4 175.4 780.8 176.1 780.9C176.7 780.9 177.6 781.5 177.9 782C178.2 782.5 178.1 783.3 178.1 784Z" fill="none" stroke="#44cc44" stroke-width="1.1" filter="url(#bF)"/>
<path d="M191.2 782C191.1 782.8 190.5 783.5 190 784.2C189.4 784.8 188.6 785.8 187.8 785.9C187 786 185.8 785.4 185.1 784.9C184.4 784.4 183.9 783.8 183.6 783.1C183.3 782.4 183.2 781.6 183.4 780.8C183.6 780.1 184 778.9 184.8 778.6C185.5 778.3 186.7 778.7 187.6 778.9C188.5 779.1 189.7 779.1 190.3 779.6C190.9 780.1 191.2 781.2 191.2 782Z" fill="none" stroke="#44cc44" stroke-width="1.1" filter="url(#bF)"/>
<path d="M207 799C207 799.7 206.5 800.6 206 801.1C205.4 801.6 204.4 801.9 203.6 801.9C202.8 802 202 801.9 201.3 801.6C200.6 801.3 199.6 800.7 199.3 800.1C199 799.5 199.2 798.6 199.5 797.9C199.8 797.2 200.4 796.4 201.1 796.2C201.8 795.9 202.8 796.2 203.5 796.3C204.3 796.5 205.2 796.6 205.8 797C206.3 797.5 206.9 798.3 207 799Z" fill="none" stroke="#44cc44" stroke-width="1.1" filter="url(#bF)"/>
<path d="M172.3 770C172.3 770.6 171.4 771.3 170.8 771.8C170.2 772.2 169.5 772.5 168.6 772.7C167.8 772.9 166.5 773.1 165.8 772.9C165.1 772.6 164.4 771.7 164.2 771C163.9 770.4 164 769.6 164.3 769C164.7 768.4 165.3 767.7 166 767.4C166.7 767.1 167.8 767.1 168.6 767.3C169.4 767.4 170.2 767.8 170.8 768.2C171.4 768.7 172.3 769.4 172.3 770Z" fill="none" stroke="#44cc44" stroke-width="1" filter="url(#bF)"/>
</g>
<text class="S" x="207" y="806.1" font-size="5.6" fill="#fff" font-weight="bold" text-anchor="middle" >200&#956;m</text>
<line x1="198.2" y1="808.5" x2="214.5" y2="808.5" stroke="#fff" stroke-width="1.6" />
<rect x="220.6" y="764" width="67.3" height="50.5" fill="#000" />
<g clip-path="url(#c30)">
<rect x="220.6" y="764" width="67.3" height="50.5" fill="#000" filter="url(#ogD)"/>
<rect x="220.6" y="764" width="67.3" height="50.5" fill="#000" filter="url(#ogD2)"/>
<path d="M244.1 784C244.1 785.4 243.9 787.3 242.9 788.4C242 789.4 240 789.8 238.2 790.2C236.5 790.6 234.2 791.4 232.5 790.8C230.9 790.2 229 788.3 228.5 786.7C227.9 785.2 228.4 782.9 229.3 781.5C230.1 780.2 232 779.5 233.5 778.7C235 777.9 236.9 776.7 238.4 776.9C239.9 777.1 241.6 778.8 242.5 780C243.4 781.1 244 782.6 244.1 784Z" fill="#000" stroke="#50e050" stroke-width="1.6" filter="url(#bF)"/>
<path d="M264.7 803C264.5 804.4 263.3 805.8 262.1 807C260.9 808.1 259.2 809.7 257.6 809.9C255.9 810.1 253.7 809.1 252.1 808.3C250.5 807.5 248.7 806.5 248.1 805.2C247.5 804 247.6 802.2 248.2 800.8C248.8 799.4 250 797.9 251.5 797C253.1 796.1 255.8 795 257.8 795.2C259.7 795.4 261.9 797.1 263.1 798.4C264.2 799.7 264.8 801.6 264.7 803Z" fill="#000" stroke="#50e050" stroke-width="1.6" filter="url(#bF)"/>
<path d="M286.5 790C286.5 791.4 285.8 793.1 284.9 794.1C284 795.1 282.3 795.9 281.1 796C279.8 796 278.4 795.2 277.4 794.5C276.4 793.8 275.5 792.8 275.1 791.8C274.7 790.7 274.7 789.3 275 788.2C275.3 787 276 785.4 277 784.8C278 784.1 279.6 784.2 281 784.4C282.4 784.5 284.3 784.7 285.2 785.6C286.1 786.6 286.6 788.6 286.5 790Z" fill="#000" stroke="#50e050" stroke-width="1.5" filter="url(#bF)"/>
<path d="M261.6 772C261.5 772.7 261.2 773.4 260.7 774C260.2 774.6 259.5 775.4 258.7 775.6C257.9 775.8 256.6 775.6 255.9 775.1C255.3 774.7 255 773.7 254.7 773C254.5 772.3 254.2 771.5 254.4 770.9C254.6 770.2 255.3 769.5 256 769C256.8 768.6 257.9 768.1 258.8 768.2C259.6 768.3 260.8 768.9 261.3 769.6C261.8 770.2 261.7 771.3 261.6 772Z" fill="#0a200a" stroke="#50e050" stroke-width="1.2" filter="url(#bF)"/>
<path d="M228.3 808C228.3 808.7 227.8 809.4 227.3 809.9C226.9 810.5 226.2 811.2 225.6 811.3C225 811.4 224.1 811 223.5 810.6C223 810.2 222.5 809.5 222.4 809C222.2 808.4 222.3 807.7 222.5 807.1C222.7 806.4 222.8 805.5 223.4 805.1C223.9 804.8 224.9 804.8 225.5 804.9C226.2 805.1 226.9 805.5 227.4 806C227.8 806.5 228.3 807.3 228.3 808Z" fill="none" stroke="#50e050" stroke-width="1.2" filter="url(#bF)"/>
</g>
<text class="S" x="276.3" y="806.1" font-size="5.6" fill="#fff" font-weight="bold" text-anchor="middle" >200&#956;m</text>
<line x1="267.5" y1="808.5" x2="283.8" y2="808.5" stroke="#fff" stroke-width="1.6" />
<rect x="11.6" y="817.2" width="68.1" height="50.8" fill="#000" />
<g clip-path="url(#c01)">
<rect x="11.6" y="817.2" width="68.1" height="50.8" fill="#000" filter="url(#orA)"/>
</g>
<text class="S" x="68.1" y="859.6" font-size="5.6" fill="#fff" font-weight="bold" text-anchor="middle" >200&#956;m</text>
<line x1="59.3" y1="862" x2="75.6" y2="862" stroke="#fff" stroke-width="1.6" />
<rect x="81.7" y="817.2" width="67.4" height="50.8" fill="#000" />
<g clip-path="url(#c11)">
<rect x="81.7" y="817.2" width="67.4" height="50.8" fill="#000" filter="url(#orB)"/>
<circle cx="116" cy="828" r="2.5" fill="#e0103a" filter="url(#bF)"/>
<circle cx="117" cy="842" r="2.2" fill="#e0103a" filter="url(#bF)"/>
</g>
<text class="S" x="137.5" y="859.6" font-size="5.6" fill="#fff" font-weight="bold" text-anchor="middle" >200&#956;m</text>
<line x1="128.7" y1="862" x2="145" y2="862" stroke="#fff" stroke-width="1.6" />
<rect x="151.1" y="817.2" width="67.5" height="50.8" fill="#000" />
<g clip-path="url(#c21)">
<rect x="151.1" y="817.2" width="67.5" height="50.8" fill="#000" filter="url(#orC)"/>
</g>
<text class="S" x="207" y="859.6" font-size="5.6" fill="#fff" font-weight="bold" text-anchor="middle" >200&#956;m</text>
<line x1="198.2" y1="862" x2="214.5" y2="862" stroke="#fff" stroke-width="1.6" />
<rect x="220.6" y="817.2" width="67.3" height="50.8" fill="#000" />
<g clip-path="url(#c31)">
<rect x="220.6" y="817.2" width="67.3" height="50.8" fill="#000" filter="url(#orD)"/>
<path d="M258.4 833C258.3 833.9 256.6 835.1 255.4 835.5C254.1 836 252.4 835.8 251 835.6C249.6 835.4 247.7 835.2 247 834.5C246.2 833.7 245.7 832 246.3 831.4C247 830.7 249.5 830.9 251.1 830.6C252.7 830.4 254.7 829.6 255.9 830C257.2 830.4 258.5 832.1 258.4 833Z" fill="#f02050" filter="url(#bF)"/>
<path d="M233.8 860C233.6 860.8 232.7 861.3 231.9 861.8C231.1 862.3 230.1 863 229.1 862.9C228.1 862.9 226.2 862.2 225.8 861.5C225.3 860.8 225.8 859.4 226.4 858.7C227 858 228.2 857.7 229.2 857.5C230.3 857.2 232.1 856.9 232.9 857.3C233.7 857.7 234 859.2 233.8 860Z" fill="#f02050" filter="url(#bF)"/>
<path d="M271 825C271.2 825.8 271.4 827.1 270.8 827.6C270.1 828 268.3 827.9 267.2 827.7C266.1 827.5 264.6 827.1 264.2 826.4C263.7 825.7 263.9 824.3 264.4 823.7C264.9 823 266.3 822.6 267.2 822.5C268.2 822.4 269.4 822.6 270.1 823.1C270.7 823.5 270.9 824.2 271 825Z" fill="#f02050" filter="url(#bF)"/>
</g>
<text class="S" x="276.3" y="859.6" font-size="5.6" fill="#fff" font-weight="bold" text-anchor="middle" >200&#956;m</text>
<line x1="267.5" y1="862" x2="283.8" y2="862" stroke="#fff" stroke-width="1.6" />
<rect x="11.6" y="870.8" width="68.1" height="50.9" fill="#000" />
<g clip-path="url(#c02)">
<rect x="11.6" y="870.8" width="68.1" height="50.9" fill="#000" filter="url(#ogA)"/>
<rect x="11.6" y="870.8" width="68.1" height="50.9" fill="#000" filter="url(#ogA2)"/>
<rect x="11.6" y="870.8" width="68.1" height="50.9" fill="#000" filter="url(#orA)" opacity="0.5"/>
</g>
<text class="S" x="68.1" y="913.3" font-size="5.6" fill="#fff" font-weight="bold" text-anchor="middle" >200&#956;m</text>
<line x1="59.3" y1="915.7" x2="75.6" y2="915.7" stroke="#fff" stroke-width="1.6" />
<rect x="81.7" y="870.8" width="67.4" height="50.9" fill="#000" />
<g clip-path="url(#c12)">
<rect x="81.7" y="870.8" width="67.4" height="50.9" fill="#000" filter="url(#ogB)"/>
<rect x="81.7" y="870.8" width="67.4" height="50.9" fill="#000" filter="url(#ogB2)"/>
<rect x="81.7" y="870.8" width="67.4" height="50.9" fill="#000" filter="url(#orB)" opacity="0.8"/>
<path d="M123.3 890C123.2 891.7 121.7 893.6 120.4 894.8C119.1 895.9 117.2 896.6 115.4 896.9C113.6 897.2 111.3 897.4 109.6 896.7C108 896 105.8 894.3 105.4 892.8C104.9 891.3 106.3 889.3 107 887.8C107.7 886.2 108.4 884.3 109.8 883.6C111.2 882.9 113.4 883.2 115.3 883.4C117.2 883.6 119.7 883.7 121 884.8C122.4 885.9 123.4 888.3 123.3 890Z" fill="#1c4f1c" stroke="#4ae04a" stroke-width="1.3" filter="url(#bF)"/>
<circle cx="114" cy="890" r="3" fill="#d01030" filter="url(#bF)"/>
<path d="M97.6 900C97.6 900.6 97.9 901.3 97.5 901.8C97.2 902.2 96.2 902.4 95.5 902.5C94.9 902.6 94.1 902.4 93.5 902.2C92.9 901.9 92.3 901.4 92.1 900.9C92 900.4 92.1 899.7 92.4 899.2C92.6 898.7 93 898.1 93.5 897.9C94 897.6 94.9 897.7 95.5 897.8C96.1 897.9 96.8 898.1 97.2 898.5C97.6 898.8 97.5 899.4 97.6 900Z" fill="none" stroke="#45d045" stroke-width="1" filter="url(#bF)"/>
<path d="M131.1 908C131.1 908.6 130.8 909.5 130.4 910C129.9 910.5 129.1 910.7 128.5 910.8C127.8 910.9 127 911 126.4 910.7C125.9 910.4 125.2 909.7 124.9 909.1C124.7 908.5 124.7 907.4 124.9 906.9C125.2 906.3 126.1 906.1 126.7 905.8C127.3 905.5 128 905 128.5 905C129.1 905.1 129.6 905.8 130.1 906.3C130.5 906.8 131 907.4 131.1 908Z" fill="none" stroke="#45d045" stroke-width="1" filter="url(#bF)"/>
</g>
<text class="S" x="137.5" y="913.3" font-size="5.6" fill="#fff" font-weight="bold" text-anchor="middle" >200&#956;m</text>
<line x1="128.7" y1="915.7" x2="145" y2="915.7" stroke="#fff" stroke-width="1.6" />
<rect x="151.1" y="870.8" width="67.5" height="50.9" fill="#000" />
<g clip-path="url(#c22)">
<rect x="151.1" y="870.8" width="67.5" height="50.9" fill="#000" filter="url(#ogC)"/>
<rect x="151.1" y="870.8" width="67.5" height="50.9" fill="#000" filter="url(#ogC2)"/>
<rect x="151.1" y="870.8" width="67.5" height="50.9" fill="#000" filter="url(#orC)" opacity="0.7"/>
<path d="M178.8 885C178.9 885.6 178.3 886.5 177.7 887C177.2 887.5 176.4 887.8 175.6 887.9C174.8 888 173.8 888 173.2 887.7C172.5 887.4 171.9 886.6 171.7 886C171.5 885.4 171.8 884.7 172 884.1C172.2 883.4 172.4 882.4 173 882.1C173.6 881.8 174.8 882.2 175.5 882.4C176.2 882.6 176.8 882.9 177.3 883.3C177.9 883.8 178.8 884.4 178.8 885Z" fill="none" stroke="#44cc44" stroke-width="1.1" filter="url(#bF)"/>
<path d="M199.8 880C199.6 880.8 199.2 881.5 198.7 882C198.2 882.6 197.5 883.1 196.7 883.3C195.9 883.5 194.6 883.5 193.9 883.1C193.2 882.8 192.7 881.9 192.4 881.2C192 880.4 191.4 879.3 191.7 878.6C192 878 193.3 877.5 194.1 877.1C194.9 876.7 195.9 876 196.8 876.1C197.7 876.1 199 876.8 199.5 877.4C200 878.1 199.9 879.2 199.8 880Z" fill="none" stroke="#44cc44" stroke-width="1.1" filter="url(#bF)"/>
<path d="M171 896C171.1 896.6 170.9 897.7 170.5 898.1C170.1 898.5 169.2 898.4 168.5 898.6C167.8 898.7 166.8 899.2 166.3 898.9C165.8 898.7 165.4 897.7 165.2 897C165.1 896.4 165.1 895.7 165.3 895C165.5 894.4 165.8 893.4 166.3 893.1C166.8 892.8 167.9 892.9 168.5 893.1C169.1 893.3 169.6 893.8 170 894.3C170.4 894.8 171 895.4 171 896Z" fill="none" stroke="#44cc44" stroke-width="1" filter="url(#bF)"/>
</g>
<text class="S" x="207" y="913.3" font-size="5.6" fill="#fff" font-weight="bold" text-anchor="middle" >200&#956;m</text>
<line x1="198.2" y1="915.7" x2="214.5" y2="915.7" stroke="#fff" stroke-width="1.6" />
<rect x="220.6" y="870.8" width="67.3" height="50.9" fill="#000" />
<g clip-path="url(#c32)">
<rect x="220.6" y="870.8" width="67.3" height="50.9" fill="#000" filter="url(#ogD)"/>
<rect x="220.6" y="870.8" width="67.3" height="50.9" fill="#000" filter="url(#ogD2)"/>
<rect x="220.6" y="870.8" width="67.3" height="50.9" fill="#000" filter="url(#orD)" opacity="0.6"/>
<rect x="220.6" y="870.8" width="67.3" height="50.9" fill="#000" filter="url(#oyD)"/>
<path d="M243.9 888C243.9 889.6 244.6 891.9 243.7 892.9C242.7 893.9 240.1 894 238.3 894.2C236.4 894.5 234.1 895 232.8 894.3C231.5 893.6 231.1 891.6 230.4 890.1C229.7 888.6 228.4 886.9 228.8 885.4C229.1 883.9 230.8 881.8 232.4 881.1C234 880.4 236.5 881 238.3 881.4C240.2 881.7 242.7 882 243.7 883.1C244.6 884.2 243.9 886.4 243.9 888Z" fill="#000" stroke="#50e050" stroke-width="1.6" filter="url(#bF)"/>
<path d="M268.1 906C267.9 907.5 265.8 909 264.3 910.1C262.9 911.3 261.5 912.4 259.6 912.8C257.6 913.3 254.7 913.7 252.8 913C251 912.3 249 910.3 248.4 908.7C247.8 907.2 248.5 905 249.4 903.6C250.2 902.1 251.8 900.4 253.4 899.8C255.1 899.3 257.3 899.9 259.3 900.1C261.4 900.3 264.1 900.1 265.6 901.1C267 902 268.3 904.5 268.1 906Z" fill="#000" stroke="#50e050" stroke-width="1.6" filter="url(#bF)"/>
<path d="M286.8 893C286.9 894.2 285.7 896 284.7 896.9C283.7 897.8 282.2 898.3 281 898.4C279.7 898.5 278.5 898.2 277.3 897.6C276.2 897.1 274.7 896.3 274.1 895.1C273.6 894 273.6 892.1 274 890.8C274.5 889.6 275.7 888.4 276.9 887.7C278.1 886.9 280 886.2 281.1 886.5C282.3 886.8 283 888.6 284 889.7C284.9 890.8 286.7 891.8 286.8 893Z" fill="#000" stroke="#50e050" stroke-width="1.5" filter="url(#bF)"/>
<circle cx="240" cy="890" r="3" fill="#e02050" filter="url(#bF)"/>
<circle cx="259" cy="906" r="3" fill="#e02050" filter="url(#bF)"/>
</g>
<text class="S" x="276.3" y="913.3" font-size="5.6" fill="#fff" font-weight="bold" text-anchor="middle" >200&#956;m</text>
<line x1="267.5" y1="915.7" x2="283.8" y2="915.7" stroke="#fff" stroke-width="1.6" />
<text class="S" x="294.5" y="758.2" font-size="11.5" font-weight="bold" >P</text>
<text class="S" x="341.1" y="759.3" font-size="7.5" font-weight="bold" text-anchor="middle" >Ctrl</text>
<text class="S" x="410.6" y="759.3" font-size="7.5" font-weight="bold" text-anchor="middle" >RANKL</text>
<text class="S" x="480.1" y="759.3" font-size="7.5" font-weight="bold" text-anchor="middle" >RANKL+siSTOM</text>
<text class="S" x="549.9" y="759.3" font-size="7.5" font-weight="bold" text-anchor="middle" >RANKL+OE-STOM</text>
<text class="S" x="306.3" y="790.8" font-size="8.4" fill="#8cc56a" font-weight="bold" text-anchor="middle" transform="rotate(-90 306.3 790.8)">Monomer</text>
<text class="S" x="306.3" y="843.9" font-size="8.4" fill="#ee1c25" font-weight="bold" text-anchor="middle" transform="rotate(-90 306.3 843.9)">Aggregate</text>
<text class="S" x="306.3" y="894.8" font-size="8.4" fill="#f5a04a" font-weight="bold" text-anchor="middle" transform="rotate(-90 306.3 894.8)">Merge</text>
<rect x="309.1" y="764" width="67.9" height="50.5" fill="#0a240a" />
<g clip-path="url(#c40)">
<rect x="309.1" y="764" width="67.9" height="50.5" fill="#000" filter="url(#pm1)" opacity="0.35"/>
<rect x="309.1" y="764" width="67.9" height="50.5" fill="url(#pdots)" />
</g>
<text class="S" x="365.4" y="806.1" font-size="5.6" fill="#fff" font-weight="bold" text-anchor="middle" >200&#956;m</text>
<line x1="356.6" y1="808.5" x2="372.9" y2="808.5" stroke="#fff" stroke-width="1.6" />
<rect x="379.2" y="764" width="66.9" height="50.5" fill="#0a260a" />
<g clip-path="url(#c50)">
<rect x="379.2" y="764" width="66.9" height="50.5" fill="#000" filter="url(#pm2)" opacity="0.9"/>
<rect x="379.2" y="764" width="66.9" height="50.5" fill="#000" filter="url(#pm1)" opacity="0.3"/>
<path d="M388.8 787C388.9 788 388.7 789.6 388.2 790.3C387.6 791 386.5 790.9 385.6 791.2C384.7 791.5 383.5 792.3 382.7 792C381.9 791.6 381.2 790 380.9 788.9C380.5 787.7 380.3 786 380.7 785C381.1 784.1 382.3 783.4 383.1 783C384 782.6 384.9 782.3 385.6 782.5C386.4 782.7 387.1 783.5 387.7 784.2C388.2 785 388.7 786 388.8 787Z" fill="#124012" stroke="#2a7a2a" stroke-width="0.8" filter="url(#bF)"/>
<path d="M408.5 808C408.5 808.8 407.9 809.5 407.3 810.2C406.7 810.9 405.9 812 404.9 812.2C404 812.4 402.6 811.8 401.6 811.3C400.6 810.9 399.3 810.3 398.9 809.5C398.4 808.7 398.5 807.3 398.9 806.5C399.4 805.7 400.6 805 401.6 804.7C402.6 804.3 403.8 804.3 404.8 804.5C405.8 804.6 407 805 407.7 805.5C408.3 806.1 408.6 807.2 408.5 808Z" fill="none" stroke="#1f6a1f" stroke-width="0.7" filter="url(#bF)"/>
<path d="M433.3 806C433.3 807.1 433.6 808.6 433 809.4C432.4 810.1 430.8 810.4 429.8 810.5C428.7 810.6 427.8 810.3 426.8 809.9C425.8 809.4 424.1 808.8 423.8 807.9C423.4 807 424 805.5 424.4 804.3C424.8 803.2 425.2 801.7 426.2 801.1C427.1 800.4 428.9 800.1 430 800.4C431.1 800.6 432.5 801.7 433 802.6C433.6 803.6 433.3 804.9 433.3 806Z" fill="#0f3a0f" stroke="#1f6a1f" stroke-width="0.7" filter="url(#bF)"/>
<path d="M439.8 775C439.7 775.6 439.4 776.3 439.1 776.7C438.7 777.2 438.1 777.6 437.5 777.7C436.9 777.9 435.9 778.1 435.4 777.8C434.8 777.5 434.3 776.7 434.2 776C434 775.4 434.1 774.6 434.4 774C434.6 773.5 435.2 773.1 435.7 772.8C436.2 772.5 436.9 772.1 437.5 772.2C438.1 772.2 438.8 772.7 439.2 773.1C439.6 773.6 439.8 774.4 439.8 775Z" fill="none" stroke="#2a8a2a" stroke-width="0.7" filter="url(#bF)"/>
</g>
<text class="S" x="434.5" y="806.1" font-size="5.6" fill="#fff" font-weight="bold" text-anchor="middle" >200&#956;m</text>
<line x1="425.7" y1="808.5" x2="442" y2="808.5" stroke="#fff" stroke-width="1.6" />
<rect x="448.5" y="764" width="67.1" height="50.5" fill="#061c06" />
<g clip-path="url(#c60)">
<rect x="448.5" y="764" width="67.1" height="50.5" fill="#000" filter="url(#pm2)" opacity="0.5"/>
<rect x="448.5" y="764" width="67.1" height="50.5" fill="#000" filter="url(#pm1)" opacity="0.25"/>
</g>
<text class="S" x="504" y="806.1" font-size="5.6" fill="#fff" font-weight="bold" text-anchor="middle" >200&#956;m</text>
<line x1="495.2" y1="808.5" x2="511.5" y2="808.5" stroke="#fff" stroke-width="1.6" />
<rect x="518" y="764" width="67.8" height="50.5" fill="#0c2e0c" />
<g clip-path="url(#c70)">
<rect x="518" y="764" width="67.8" height="50.5" fill="#000" filter="url(#pm2)"/>
<rect x="518" y="764" width="67.8" height="50.5" fill="#000" filter="url(#pm1)" opacity="0.4"/>
<path d="M543.1 780C543.1 781.2 542.8 782.6 542 783.6C541.1 784.5 539.5 785.3 538.1 785.5C536.7 785.8 534.9 785.6 533.6 785.1C532.3 784.5 531 783.2 530.4 782C529.9 780.9 529.8 779.2 530.3 777.9C530.7 776.6 531.8 774.8 533.1 774.3C534.4 773.7 536.7 774.1 538.1 774.5C539.6 774.8 540.9 775.7 541.7 776.6C542.5 777.5 543.1 778.8 543.1 780Z" fill="#164416" stroke="#237a23" stroke-width="0.7" filter="url(#bF)"/>
<path d="M570.7 781C570.6 781.8 570.1 782.7 569.5 783.4C568.9 784 567.9 784.8 566.9 785C565.9 785.2 564.4 784.9 563.5 784.4C562.6 784 561.8 783.1 561.6 782.3C561.3 781.5 561.6 780.6 561.9 779.8C562.2 779 562.5 777.8 563.3 777.3C564.1 776.8 565.8 776.7 566.9 776.9C568 777.1 569.3 777.7 570 778.3C570.6 779 570.8 780.2 570.7 781Z" fill="none" stroke="#237a23" stroke-width="0.7" filter="url(#bF)"/>
<ellipse cx="537" cy="806" rx="4" ry="5" fill="#2a7a2a" filter="url(#bF)"/>
</g>
<text class="S" x="574.2" y="806.1" font-size="5.6" fill="#fff" font-weight="bold" text-anchor="middle" >200&#956;m</text>
<line x1="565.4" y1="808.5" x2="581.7" y2="808.5" stroke="#fff" stroke-width="1.6" />
<rect x="309.1" y="817.2" width="67.9" height="50.8" fill="#100303" />
<g clip-path="url(#c41)">
<rect x="309.1" y="817.2" width="67.9" height="50.8" fill="#000" filter="url(#pa1)" opacity="0.8"/>
</g>
<text class="S" x="365.4" y="859.6" font-size="5.6" fill="#fff" font-weight="bold" text-anchor="middle" >200&#956;m</text>
<line x1="356.6" y1="862" x2="372.9" y2="862" stroke="#fff" stroke-width="1.6" />
<rect x="379.2" y="817.2" width="66.9" height="50.8" fill="#160404" />
<g clip-path="url(#c51)">
<rect x="379.2" y="817.2" width="66.9" height="50.8" fill="#000" filter="url(#pa2)"/>
<path d="M415 841.4C415.1 842.4 414.3 844.3 413.4 844.9C412.5 845.5 410.7 845 409.5 844.7C408.3 844.5 406.8 844.1 406.2 843.2C405.6 842.3 405.4 840.5 405.9 839.3C406.4 838.2 408 836.5 409.1 836.4C410.2 836.3 411.5 838 412.5 838.8C413.5 839.6 414.8 840.3 415 841.4Z" fill="#3a0a05" stroke="#c82810" stroke-width="0.8" filter="url(#bF)"/>
<path d="M404.5 824.5C404.8 825.6 405.6 828.1 404.9 829C404.1 829.9 401.5 830.5 400.2 830.1C398.9 829.7 397.7 827.9 397.2 826.6C396.7 825.3 396.7 823.3 397.3 822.4C397.8 821.4 399.6 821 400.6 821C401.7 820.9 402.7 821.4 403.3 822C404 822.5 404.3 823.3 404.5 824.5Z" fill="#3a0a05" stroke="#c82810" stroke-width="0.8" filter="url(#bF)"/>
<path d="M416.8 823.3C416.8 823.9 417 824.7 416.5 825C416.1 825.4 415.1 825.5 414.3 825.4C413.6 825.3 412.3 825 412 824.5C411.7 824 412.1 823 412.4 822.4C412.8 821.8 413.6 821.1 414.3 821C414.9 820.9 416.2 821.2 416.6 821.6C417 822 416.8 822.8 416.8 823.3Z" fill="#3a0a05" stroke="#c82810" stroke-width="0.8" filter="url(#bF)"/>
<path d="M426.7 837.7C426.9 838.6 425.9 840.3 425.1 841C424.4 841.6 423 841.8 422.2 841.5C421.5 841.2 420.9 839.9 420.6 839C420.4 838.2 420.4 837.1 420.7 836.4C421 835.7 421.8 834.8 422.4 834.7C423 834.6 423.6 835.1 424.3 835.6C425 836.1 426.6 836.8 426.7 837.7Z" fill="#3a0a05" stroke="#c82810" stroke-width="0.8" filter="url(#bF)"/>
<path d="M434.8 835.6C434.8 836.9 433.5 838.9 432.5 839.3C431.4 839.8 429.6 838.7 428.5 838.3C427.4 837.9 426.6 837.8 425.9 837C425.2 836.2 423.9 834.4 424.2 833.5C424.6 832.6 426.8 832.2 428.2 831.9C429.6 831.5 431.6 831 432.7 831.7C433.8 832.3 434.8 834.3 434.8 835.6Z" fill="#3a0a05" stroke="#c82810" stroke-width="0.8" filter="url(#bF)"/>
<path d="M410.4 823.8C410.3 824.7 409.5 825.7 408.8 826.3C408.2 826.9 407.3 827.5 406.3 827.5C405.2 827.5 403.2 827.1 402.6 826.1C402.1 825.2 402.4 822.6 403.1 821.7C403.7 820.8 405.4 820.8 406.4 820.7C407.4 820.6 408.4 820.5 409.1 821.1C409.7 821.6 410.4 823 410.4 823.8Z" fill="#3a0a05" stroke="#c82810" stroke-width="0.8" filter="url(#bF)"/>
<path d="M393.7 823.4C393.8 824.1 392.7 825.5 391.8 825.9C391 826.4 389.6 826.2 388.5 826C387.3 825.9 385.2 825.7 384.9 825C384.5 824.4 385.7 823.1 386.3 822.2C386.8 821.3 387.4 819.9 388.2 819.8C389.1 819.6 390.4 820.7 391.3 821.3C392.2 821.9 393.6 822.6 393.7 823.4Z" fill="#3a0a05" stroke="#c82810" stroke-width="0.8" filter="url(#bF)"/>
<path d="M411.9 828.9C411.8 829.7 410.7 830.5 410 831.2C409.3 831.9 408.3 833.2 407.7 833C407 832.8 406.6 831 406.3 830.1C406 829.2 405.8 828.3 406 827.5C406.2 826.6 406.9 825.1 407.7 824.8C408.4 824.5 409.7 825.3 410.4 825.9C411.1 826.6 411.9 828 411.9 828.9Z" fill="#3a0a05" stroke="#c82810" stroke-width="0.8" filter="url(#bF)"/>
<path d="M392.4 856.8C392.4 857.3 391.4 858.1 390.8 858.4C390.1 858.7 389.2 858.9 388.7 858.8C388.1 858.6 387.6 858 387.4 857.6C387.2 857.1 387.1 856.6 387.3 856.1C387.5 855.6 388 854.6 388.6 854.5C389.1 854.4 390 854.9 390.7 855.3C391.3 855.7 392.4 856.3 392.4 856.8Z" fill="#3a0a05" stroke="#c82810" stroke-width="0.8" filter="url(#bF)"/>
<path d="M422.6 834.6C422.6 835.7 422.2 837 421.5 837.8C420.8 838.6 419.1 839.6 418.4 839.3C417.6 839 417.1 837 416.8 836C416.6 835 416.6 834.3 416.9 833.2C417.1 832.2 417.5 830.1 418.3 829.7C419.2 829.4 421.1 830.1 421.8 830.9C422.5 831.7 422.7 833.4 422.6 834.6Z" fill="#3a0a05" stroke="#c82810" stroke-width="0.8" filter="url(#bF)"/>
<path d="M400 830l6 -3l2 5z" fill="#e02a10" filter="url(#bF)"/>
</g>
<text class="S" x="434.5" y="859.6" font-size="5.6" fill="#fff" font-weight="bold" text-anchor="middle" >200&#956;m</text>
<line x1="425.7" y1="862" x2="442" y2="862" stroke="#fff" stroke-width="1.6" />
<rect x="448.5" y="817.2" width="67.1" height="50.8" fill="#120303" />
<g clip-path="url(#c61)">
<rect x="448.5" y="817.2" width="67.1" height="50.8" fill="#000" filter="url(#pa3)"/>
<path d="M483.3 844.9C483.3 845.5 483.4 846.4 482.9 846.7C482.4 847.1 481.2 847.1 480.3 847C479.4 846.9 477.9 846.8 477.4 846.2C477 845.6 477.2 844.3 477.6 843.6C478.1 843 479.3 842.3 480.2 842.2C481.1 842.1 482.6 842.3 483.1 842.8C483.6 843.2 483.4 844.2 483.3 844.9Z" fill="none" stroke="#901808" stroke-width="0.8" filter="url(#bF)"/>
<path d="M495.8 826.4C495.7 826.9 494.2 827.3 493.5 827.7C492.8 828.2 492 829.1 491.4 829C490.9 828.9 490.6 827.8 490.2 827.2C489.9 826.5 489.1 825.8 489.3 825.3C489.5 824.9 490.8 824.5 491.6 824.5C492.4 824.4 493.2 824.4 493.9 824.8C494.6 825.1 495.8 825.9 495.8 826.4Z" fill="none" stroke="#901808" stroke-width="0.8" filter="url(#bF)"/>
<path d="M505.2 821.9C505.2 822.4 504.5 822.8 504 823.3C503.6 823.8 503 825 502.4 825C501.9 824.9 500.8 823.9 500.6 823.2C500.5 822.6 501.2 821.7 501.6 821.1C501.9 820.4 502.2 819.7 502.6 819.6C503 819.5 503.6 820 504.1 820.4C504.5 820.8 505.2 821.4 505.2 821.9Z" fill="none" stroke="#901808" stroke-width="0.8" filter="url(#bF)"/>
</g>
<text class="S" x="504" y="859.6" font-size="5.6" fill="#fff" font-weight="bold" text-anchor="middle" >200&#956;m</text>
<line x1="495.2" y1="862" x2="511.5" y2="862" stroke="#fff" stroke-width="1.6" />
<rect x="518" y="817.2" width="67.8" height="50.8" fill="#1c0404" />
<g clip-path="url(#c71)">
<rect x="518" y="817.2" width="67.8" height="50.8" fill="#000" filter="url(#pa4)"/>
<path d="M540.8 845.9C540.7 847 540.3 848.2 539.6 848.8C539 849.4 537.7 849.5 536.8 849.3C536 849.1 535.1 848.4 534.5 847.5C534 846.5 533.1 844.5 533.5 843.7C533.8 842.8 535.7 842.7 536.9 842.5C538 842.2 539.4 841.7 540.1 842.3C540.7 842.9 540.8 844.8 540.8 845.9Z" fill="#4a0e06" stroke="#e03818" stroke-width="0.8" filter="url(#bF)"/>
<path d="M538.4 831.8C538.2 832.7 537 833.3 536.3 833.9C535.6 834.4 534.8 835.1 534.2 834.9C533.6 834.8 533 833.9 532.5 833.1C532 832.2 530.9 830.8 531.2 829.8C531.4 828.9 532.9 827.8 534 827.5C535 827.3 536.6 827.7 537.3 828.4C538 829.1 538.5 830.9 538.4 831.8Z" fill="#4a0e06" stroke="#e03818" stroke-width="0.8" filter="url(#bF)"/>
<path d="M575.6 848C575.7 849.4 575.9 852 575.1 852.9C574.3 853.7 571.9 853.3 570.6 853C569.2 852.6 567.3 851.8 566.7 850.6C566.2 849.4 566.6 846.9 567.2 845.7C567.9 844.5 569.4 843.5 570.6 843.2C571.8 843 573.4 843.5 574.3 844.3C575.1 845.1 575.4 846.6 575.6 848Z" fill="#4a0e06" stroke="#e03818" stroke-width="0.8" filter="url(#bF)"/>
<path d="M550.7 832.5C550.8 833.4 550.4 834.8 549.8 835.3C549.2 835.8 547.9 835.8 547.2 835.5C546.4 835.3 545.8 834.5 545.5 833.7C545.1 833 544.9 831.7 545.2 831.1C545.5 830.5 546.6 830.5 547.4 830.4C548.1 830.2 549 829.7 549.5 830.1C550.1 830.4 550.7 831.6 550.7 832.5Z" fill="#4a0e06" stroke="#e03818" stroke-width="0.8" filter="url(#bF)"/>
<path d="M550.9 827.6C551 828.2 550.8 829.1 550.3 829.6C549.8 830 548.6 830.4 548 830.3C547.3 830.1 546.5 829.2 546.3 828.6C546.1 828 546.4 827.3 546.7 826.7C547 826.1 547.4 825.2 548 825C548.6 824.9 549.5 825.4 550 825.8C550.5 826.3 550.9 826.9 550.9 827.6Z" fill="#4a0e06" stroke="#e03818" stroke-width="0.8" filter="url(#bF)"/>
<path d="M539.6 828.2C539.7 828.8 539.3 830.2 538.6 830.5C538 830.9 536.4 830.5 535.5 830.3C534.5 830.1 533.4 829.9 532.9 829.3C532.4 828.8 532.1 827.4 532.6 826.9C533 826.5 534.8 826.6 535.6 826.6C536.5 826.5 537 826.5 537.7 826.8C538.3 827 539.4 827.6 539.6 828.2Z" fill="#4a0e06" stroke="#e03818" stroke-width="0.8" filter="url(#bF)"/>
<path d="M574 851.4C574.1 852.2 574.1 853.6 573.3 854.2C572.5 854.9 570.5 855.2 569.3 855C568.1 854.8 566.6 853.7 566.3 852.9C566 852.1 567 851.1 567.5 850.3C568 849.4 568.5 848 569.3 847.8C570.2 847.6 571.8 848.6 572.6 849.2C573.4 849.8 573.9 850.5 574 851.4Z" fill="#4a0e06" stroke="#e03818" stroke-width="0.8" filter="url(#bF)"/>
<path d="M570.3 826.1C570.2 827.3 568.5 828.4 567.4 829.2C566.3 830 565 831.2 563.9 831.1C562.7 830.9 561.1 829.5 560.5 828.3C560 827.1 559.9 825 560.5 824C561.1 822.9 562.7 822.2 564 821.9C565.3 821.6 567.3 821.2 568.3 821.9C569.4 822.6 570.5 824.9 570.3 826.1Z" fill="#4a0e06" stroke="#e03818" stroke-width="0.8" filter="url(#bF)"/>
<path d="M544.5 831.8C544.5 832.4 544.3 833.3 543.8 833.6C543.4 833.9 542.7 833.9 542 833.8C541.4 833.7 540.2 833.7 539.9 833.1C539.6 832.6 539.7 831.3 540 830.6C540.4 829.9 541.3 829.1 541.9 829.1C542.5 829 543.2 829.8 543.7 830.3C544.1 830.7 544.5 831.3 544.5 831.8Z" fill="#4a0e06" stroke="#e03818" stroke-width="0.8" filter="url(#bF)"/>
<path d="M551.5 833.6C551.5 833.9 550.2 834.3 549.6 834.6C548.9 834.8 548.4 835.1 547.9 835C547.4 835 546.8 834.6 546.5 834.2C546.2 833.8 545.8 833.1 546 832.8C546.3 832.4 547.3 832.4 548 832.3C548.6 832.2 549.3 832 549.9 832.2C550.5 832.4 551.6 833.2 551.5 833.6Z" fill="#4a0e06" stroke="#e03818" stroke-width="0.8" filter="url(#bF)"/>
<path d="M546.2 851.2C546.3 851.7 546.2 852.9 545.8 853.2C545.3 853.5 544.1 853.3 543.5 853.1C542.9 852.9 542.3 852.5 542 852.1C541.8 851.6 541.5 850.7 541.8 850.3C542.1 849.9 543 849.6 543.6 849.6C544.1 849.6 544.6 849.9 545 850.2C545.4 850.4 546.1 850.7 546.2 851.2Z" fill="#4a0e06" stroke="#e03818" stroke-width="0.8" filter="url(#bF)"/>
</g>
<text class="S" x="574.2" y="859.6" font-size="5.6" fill="#fff" font-weight="bold" text-anchor="middle" >200&#956;m</text>
<line x1="565.4" y1="862" x2="581.7" y2="862" stroke="#fff" stroke-width="1.6" />
<rect x="309.1" y="870.8" width="67.9" height="50.9" fill="#072207" />
<g clip-path="url(#c42)">
<rect x="309.1" y="870.8" width="67.9" height="50.9" fill="#000" filter="url(#pm1)" opacity="0.35"/>
<rect x="309.1" y="870.8" width="67.9" height="50.9" fill="url(#pdots)" />
</g>
<text class="S" x="365.4" y="913.3" font-size="5.6" fill="#fff" font-weight="bold" text-anchor="middle" >200&#956;m</text>
<line x1="356.6" y1="915.7" x2="372.9" y2="915.7" stroke="#fff" stroke-width="1.6" />
<rect x="379.2" y="870.8" width="66.9" height="50.9" fill="#101a08" />
<g clip-path="url(#c52)">
<rect x="379.2" y="870.8" width="66.9" height="50.9" fill="#000" filter="url(#po2)"/>
<rect x="379.2" y="870.8" width="66.9" height="50.9" fill="#000" filter="url(#pm2)" opacity="0.35"/>
<path d="M415 895C415.1 896 414.3 897.9 413.4 898.5C412.5 899.1 410.7 898.6 409.5 898.3C408.3 898.1 406.8 897.7 406.2 896.8C405.6 895.9 405.4 894.1 405.9 892.9C406.4 891.8 408 890.1 409.1 890C410.2 889.9 411.5 891.6 412.5 892.4C413.5 893.2 414.8 893.9 415 895Z" fill="#2e2408" stroke="#c06a10" stroke-width="0.8" filter="url(#bF)"/>
<path d="M404.5 878.1C404.8 879.2 405.6 881.7 404.9 882.6C404.1 883.5 401.5 884.1 400.2 883.7C398.9 883.3 397.7 881.5 397.2 880.2C396.7 878.9 396.7 876.9 397.3 876C397.8 875 399.6 874.6 400.6 874.6C401.7 874.5 402.7 875 403.3 875.6C404 876.1 404.3 876.9 404.5 878.1Z" fill="#2e2408" stroke="#c06a10" stroke-width="0.8" filter="url(#bF)"/>
<path d="M416.8 876.9C416.8 877.5 417 878.3 416.5 878.6C416.1 879 415.1 879.1 414.3 879C413.6 878.9 412.3 878.6 412 878.1C411.7 877.6 412.1 876.6 412.4 876C412.8 875.4 413.6 874.7 414.3 874.6C414.9 874.5 416.2 874.8 416.6 875.2C417 875.6 416.8 876.4 416.8 876.9Z" fill="#2e2408" stroke="#c06a10" stroke-width="0.8" filter="url(#bF)"/>
<path d="M426.7 891.3C426.9 892.2 425.9 893.9 425.1 894.6C424.4 895.2 423 895.4 422.2 895.1C421.5 894.8 420.9 893.5 420.6 892.6C420.4 891.8 420.4 890.7 420.7 890C421 889.3 421.8 888.4 422.4 888.3C423 888.2 423.6 888.7 424.3 889.2C425 889.7 426.6 890.4 426.7 891.3Z" fill="#2e2408" stroke="#c06a10" stroke-width="0.8" filter="url(#bF)"/>
<path d="M434.8 889.2C434.8 890.5 433.5 892.5 432.5 892.9C431.4 893.4 429.6 892.3 428.5 891.9C427.4 891.5 426.6 891.4 425.9 890.6C425.2 889.8 423.9 888 424.2 887.1C424.6 886.2 426.8 885.8 428.2 885.5C429.6 885.1 431.6 884.6 432.7 885.3C433.8 885.9 434.8 887.9 434.8 889.2Z" fill="#2e2408" stroke="#c06a10" stroke-width="0.8" filter="url(#bF)"/>
<path d="M410.4 877.4C410.3 878.3 409.5 879.3 408.8 879.9C408.2 880.5 407.3 881.1 406.3 881.1C405.2 881.1 403.2 880.7 402.6 879.7C402.1 878.8 402.4 876.2 403.1 875.3C403.7 874.4 405.4 874.4 406.4 874.3C407.4 874.2 408.4 874.1 409.1 874.7C409.7 875.2 410.4 876.6 410.4 877.4Z" fill="#2e2408" stroke="#c06a10" stroke-width="0.8" filter="url(#bF)"/>
<path d="M393.7 877C393.8 877.7 392.7 879.1 391.8 879.5C391 880 389.6 879.8 388.5 879.6C387.3 879.5 385.2 879.3 384.9 878.6C384.5 878 385.7 876.7 386.3 875.8C386.8 874.9 387.4 873.5 388.2 873.4C389.1 873.2 390.4 874.3 391.3 874.9C392.2 875.5 393.6 876.2 393.7 877Z" fill="#2e2408" stroke="#c06a10" stroke-width="0.8" filter="url(#bF)"/>
<path d="M411.9 882.5C411.8 883.3 410.7 884.1 410 884.8C409.3 885.5 408.3 886.8 407.7 886.6C407 886.4 406.6 884.6 406.3 883.7C406 882.8 405.8 881.9 406 881.1C406.2 880.2 406.9 878.7 407.7 878.4C408.4 878.1 409.7 878.9 410.4 879.5C411.1 880.2 411.9 881.6 411.9 882.5Z" fill="#2e2408" stroke="#c06a10" stroke-width="0.8" filter="url(#bF)"/>
<path d="M392.4 910.4C392.4 910.9 391.4 911.7 390.8 912C390.1 912.3 389.2 912.5 388.7 912.4C388.1 912.2 387.6 911.6 387.4 911.2C387.2 910.7 387.1 910.2 387.3 909.7C387.5 909.2 388 908.2 388.6 908.1C389.1 908 390 908.5 390.7 908.9C391.3 909.3 392.4 909.9 392.4 910.4Z" fill="#2e2408" stroke="#c06a10" stroke-width="0.8" filter="url(#bF)"/>
<path d="M422.6 888.2C422.6 889.3 422.2 890.6 421.5 891.4C420.8 892.2 419.1 893.2 418.4 892.9C417.6 892.6 417.1 890.6 416.8 889.6C416.6 888.6 416.6 887.9 416.9 886.8C417.1 885.8 417.5 883.7 418.3 883.3C419.2 883 421.1 883.7 421.8 884.5C422.5 885.3 422.7 887 422.6 888.2Z" fill="#2e2408" stroke="#c06a10" stroke-width="0.8" filter="url(#bF)"/>
</g>
<text class="S" x="434.5" y="913.3" font-size="5.6" fill="#fff" font-weight="bold" text-anchor="middle" >200&#956;m</text>
<line x1="425.7" y1="915.7" x2="442" y2="915.7" stroke="#fff" stroke-width="1.6" />
<rect x="448.5" y="870.8" width="67.1" height="50.9" fill="#0e1606" />
<g clip-path="url(#c62)">
<rect x="448.5" y="870.8" width="67.1" height="50.9" fill="#000" filter="url(#po3)"/>
<rect x="448.5" y="870.8" width="67.1" height="50.9" fill="#000" filter="url(#pm2)" opacity="0.3"/>
<path d="M483.3 898.5C483.3 899.1 483.4 900 482.9 900.3C482.4 900.7 481.2 900.7 480.3 900.6C479.4 900.5 477.9 900.4 477.4 899.8C477 899.2 477.2 897.9 477.6 897.2C478.1 896.6 479.3 895.9 480.2 895.8C481.1 895.7 482.6 895.9 483.1 896.4C483.6 896.8 483.4 897.8 483.3 898.5Z" fill="none" stroke="#806010" stroke-width="0.8" filter="url(#bF)"/>
<path d="M495.8 880C495.7 880.5 494.2 880.9 493.5 881.3C492.8 881.8 492 882.7 491.4 882.6C490.9 882.5 490.6 881.4 490.2 880.8C489.9 880.1 489.1 879.4 489.3 878.9C489.5 878.5 490.8 878.1 491.6 878.1C492.4 878 493.2 878 493.9 878.4C494.6 878.7 495.8 879.5 495.8 880Z" fill="none" stroke="#806010" stroke-width="0.8" filter="url(#bF)"/>
<path d="M505.2 875.5C505.2 876 504.5 876.4 504 876.9C503.6 877.4 503 878.6 502.4 878.6C501.9 878.5 500.8 877.5 500.6 876.8C500.5 876.2 501.2 875.3 501.6 874.7C501.9 874 502.2 873.3 502.6 873.2C503 873.1 503.6 873.6 504.1 874C504.5 874.4 505.2 875 505.2 875.5Z" fill="none" stroke="#806010" stroke-width="0.8" filter="url(#bF)"/>
</g>
<text class="S" x="504" y="913.3" font-size="5.6" fill="#fff" font-weight="bold" text-anchor="middle" >200&#956;m</text>
<line x1="495.2" y1="915.7" x2="511.5" y2="915.7" stroke="#fff" stroke-width="1.6" />
<rect x="518" y="870.8" width="67.8" height="50.9" fill="#1c1206" />
<g clip-path="url(#c72)">
<rect x="518" y="870.8" width="67.8" height="50.9" fill="#000" filter="url(#po4)"/>
<rect x="518" y="870.8" width="67.8" height="50.9" fill="#000" filter="url(#pm2)" opacity="0.3"/>
<path d="M540.8 899.5C540.7 900.6 540.3 901.8 539.6 902.4C539 903 537.7 903.1 536.8 902.9C536 902.7 535.1 902 534.5 901.1C534 900.1 533.1 898.1 533.5 897.3C533.8 896.4 535.7 896.3 536.9 896.1C538 895.8 539.4 895.3 540.1 895.9C540.7 896.5 540.8 898.4 540.8 899.5Z" fill="#3a2208" stroke="#d85810" stroke-width="0.8" filter="url(#bF)"/>
<path d="M538.4 885.4C538.2 886.3 537 886.9 536.3 887.5C535.6 888 534.8 888.7 534.2 888.5C533.6 888.4 533 887.5 532.5 886.7C532 885.8 530.9 884.4 531.2 883.4C531.4 882.5 532.9 881.4 534 881.1C535 880.9 536.6 881.3 537.3 882C538 882.7 538.5 884.5 538.4 885.4Z" fill="#3a2208" stroke="#d85810" stroke-width="0.8" filter="url(#bF)"/>
<path d="M575.6 901.6C575.7 903 575.9 905.6 575.1 906.5C574.3 907.3 571.9 906.9 570.6 906.6C569.2 906.2 567.3 905.4 566.7 904.2C566.2 903 566.6 900.5 567.2 899.3C567.9 898.1 569.4 897.1 570.6 896.8C571.8 896.6 573.4 897.1 574.3 897.9C575.1 898.7 575.4 900.2 575.6 901.6Z" fill="#3a2208" stroke="#d85810" stroke-width="0.8" filter="url(#bF)"/>
<path d="M550.7 886.1C550.8 887 550.4 888.4 549.8 888.9C549.2 889.4 547.9 889.4 547.2 889.1C546.4 888.9 545.8 888.1 545.5 887.3C545.1 886.6 544.9 885.3 545.2 884.7C545.5 884.1 546.6 884.1 547.4 884C548.1 883.8 549 883.3 549.5 883.7C550.1 884 550.7 885.2 550.7 886.1Z" fill="#3a2208" stroke="#d85810" stroke-width="0.8" filter="url(#bF)"/>
<path d="M550.9 881.2C551 881.8 550.8 882.7 550.3 883.2C549.8 883.6 548.6 884 548 883.9C547.3 883.7 546.5 882.8 546.3 882.2C546.1 881.6 546.4 880.9 546.7 880.3C547 879.7 547.4 878.8 548 878.6C548.6 878.5 549.5 879 550 879.4C550.5 879.9 550.9 880.5 550.9 881.2Z" fill="#3a2208" stroke="#d85810" stroke-width="0.8" filter="url(#bF)"/>
<path d="M539.6 881.8C539.7 882.4 539.3 883.8 538.6 884.1C538 884.5 536.4 884.1 535.5 883.9C534.5 883.7 533.4 883.5 532.9 882.9C532.4 882.4 532.1 881 532.6 880.5C533 880.1 534.8 880.2 535.6 880.2C536.5 880.1 537 880.1 537.7 880.4C538.3 880.6 539.4 881.2 539.6 881.8Z" fill="#3a2208" stroke="#d85810" stroke-width="0.8" filter="url(#bF)"/>
<path d="M574 905C574.1 905.8 574.1 907.2 573.3 907.8C572.5 908.5 570.5 908.8 569.3 908.6C568.1 908.4 566.6 907.3 566.3 906.5C566 905.7 567 904.7 567.5 903.9C568 903 568.5 901.6 569.3 901.4C570.2 901.2 571.8 902.2 572.6 902.8C573.4 903.4 573.9 904.1 574 905Z" fill="#3a2208" stroke="#d85810" stroke-width="0.8" filter="url(#bF)"/>
<path d="M570.3 879.7C570.2 880.9 568.5 882 567.4 882.8C566.3 883.6 565 884.8 563.9 884.7C562.7 884.5 561.1 883.1 560.5 881.9C560 880.7 559.9 878.6 560.5 877.6C561.1 876.5 562.7 875.8 564 875.5C565.3 875.2 567.3 874.8 568.3 875.5C569.4 876.2 570.5 878.5 570.3 879.7Z" fill="#3a2208" stroke="#d85810" stroke-width="0.8" filter="url(#bF)"/>
<path d="M544.5 885.4C544.5 886 544.3 886.9 543.8 887.2C543.4 887.5 542.7 887.5 542 887.4C541.4 887.3 540.2 887.3 539.9 886.7C539.6 886.2 539.7 884.9 540 884.2C540.4 883.5 541.3 882.7 541.9 882.7C542.5 882.6 543.2 883.4 543.7 883.9C544.1 884.3 544.5 884.9 544.5 885.4Z" fill="#3a2208" stroke="#d85810" stroke-width="0.8" filter="url(#bF)"/>
<path d="M551.5 887.2C551.5 887.5 550.2 887.9 549.6 888.2C548.9 888.4 548.4 888.7 547.9 888.6C547.4 888.6 546.8 888.2 546.5 887.8C546.2 887.4 545.8 886.7 546 886.4C546.3 886 547.3 886 548 885.9C548.6 885.8 549.3 885.6 549.9 885.8C550.5 886 551.6 886.8 551.5 887.2Z" fill="#3a2208" stroke="#d85810" stroke-width="0.8" filter="url(#bF)"/>
<path d="M546.2 904.8C546.3 905.3 546.2 906.5 545.8 906.8C545.3 907.1 544.1 906.9 543.5 906.7C542.9 906.5 542.3 906.1 542 905.7C541.8 905.2 541.5 904.3 541.8 903.9C542.1 903.5 543 903.2 543.6 903.2C544.1 903.2 544.6 903.5 545 903.8C545.4 904 546.1 904.3 546.2 904.8Z" fill="#3a2208" stroke="#d85810" stroke-width="0.8" filter="url(#bF)"/>
<path d="M535.2 915C535.1 916.2 534.8 917.6 534.1 918.4C533.4 919.3 532.1 920.1 530.9 920.4C529.8 920.6 528.2 920.5 527.2 919.9C526.2 919.3 525.4 918 525 916.8C524.6 915.7 524.2 914 524.7 913.1C525.2 912.1 526.8 911.8 527.9 911.3C528.9 910.8 529.8 910.1 530.9 910.1C531.9 910.1 533.6 910.5 534.3 911.4C535.1 912.2 535.2 913.8 535.2 915Z" fill="#305020" stroke="#60a030" stroke-width="1" filter="url(#bF)"/>
</g>
<text class="S" x="574.2" y="913.3" font-size="5.6" fill="#fff" font-weight="bold" text-anchor="middle" >200&#956;m</text>
<line x1="565.4" y1="915.7" x2="581.7" y2="915.7" stroke="#fff" stroke-width="1.6" />
<text class="S" x="585" y="747" font-size="11.5" font-weight="bold" >Q</text>
<rect x="626.4" y="786.1" width="9.9" height="24.4" fill="#e31a1c" />
<line x1="631.3" y1="783.2" x2="631.3" y2="786.1" stroke="#e31a1c" stroke-width="0.7" />
<line x1="629.1" y1="783.2" x2="633.5" y2="783.2" stroke="#e31a1c" stroke-width="0.7" />
<circle cx="631.3" cy="784.1" r="1.2" fill="#000"/>
<circle cx="631.3" cy="788.5" r="1.2" fill="#000"/>
<circle cx="628.8" cy="786.1" r="1.2" fill="#000"/>
<rect x="641" y="768.3" width="9.2" height="42.2" fill="#3a7dbf" />
<line x1="645.6" y1="766.3" x2="645.6" y2="768.3" stroke="#3a7dbf" stroke-width="0.7" />
<line x1="643.4" y1="766.3" x2="647.8" y2="766.3" stroke="#3a7dbf" stroke-width="0.7" />
<circle cx="645.6" cy="766.6" r="1.2" fill="#000"/>
<circle cx="645.6" cy="769.5" r="1.2" fill="#000"/>
<circle cx="643" cy="767.8" r="1.2" fill="#000"/>
<rect x="655.1" y="791.5" width="9.5" height="19" fill="#4cae4a" />
<line x1="659.9" y1="789" x2="659.9" y2="791.5" stroke="#4cae4a" stroke-width="0.7" />
<line x1="657.6" y1="789" x2="662.1" y2="789" stroke="#4cae4a" stroke-width="0.7" />
<circle cx="659.9" cy="789" r="1.2" fill="#000"/>
<circle cx="659.9" cy="792.9" r="1.2" fill="#000"/>
<circle cx="657.3" cy="792.4" r="1.2" fill="#000"/>
<rect x="669.2" y="761.2" width="8.9" height="49.3" fill="#9a4ea3" />
<line x1="673.7" y1="760" x2="673.7" y2="761.2" stroke="#9a4ea3" stroke-width="0.7" />
<line x1="671.5" y1="760" x2="675.9" y2="760" stroke="#9a4ea3" stroke-width="0.7" />
<circle cx="673.7" cy="760.2" r="1.2" fill="#000"/>
<circle cx="671.1" cy="762.2" r="1.2" fill="#000"/>
<circle cx="676.2" cy="761.2" r="1.2" fill="#000"/>
<line x1="622.2" y1="810.5" x2="622.2" y2="749.5" stroke="#222" stroke-width="0.9" />
<line x1="622.2" y1="810.5" x2="682.4" y2="810.5" stroke="#222" stroke-width="0.9" />
<line x1="620" y1="810.5" x2="622.2" y2="810.5" stroke="#222" stroke-width="0.81" />
<text class="S" x="619.4" y="812.5" font-size="5.6" fill="#222" font-weight="bold" text-anchor="end" letter-spacing="0.3">0.0</text>
<line x1="620" y1="798.3" x2="622.2" y2="798.3" stroke="#222" stroke-width="0.81" />
<text class="S" x="619.4" y="800.3" font-size="5.6" fill="#222" font-weight="bold" text-anchor="end" letter-spacing="0.3">0.5</text>
<line x1="620" y1="786.1" x2="622.2" y2="786.1" stroke="#222" stroke-width="0.81" />
<text class="S" x="619.4" y="788.1" font-size="5.6" fill="#222" font-weight="bold" text-anchor="end" letter-spacing="0.3">1.0</text>
<line x1="620" y1="773.9" x2="622.2" y2="773.9" stroke="#222" stroke-width="0.81" />
<text class="S" x="619.4" y="775.9" font-size="5.6" fill="#222" font-weight="bold" text-anchor="end" letter-spacing="0.3">1.5</text>
<line x1="620" y1="761.7" x2="622.2" y2="761.7" stroke="#222" stroke-width="0.81" />
<text class="S" x="619.4" y="763.7" font-size="5.6" fill="#222" font-weight="bold" text-anchor="end" letter-spacing="0.3">2.0</text>
<line x1="620" y1="749.5" x2="622.2" y2="749.5" stroke="#222" stroke-width="0.81" />
<text class="S" x="619.4" y="751.5" font-size="5.6" fill="#222" font-weight="bold" text-anchor="end" letter-spacing="0.3">2.5</text>
<line x1="631.3" y1="810.5" x2="631.3" y2="812.7" stroke="#222" stroke-width="0.81" />
<line x1="645.6" y1="810.5" x2="645.6" y2="812.7" stroke="#222" stroke-width="0.81" />
<line x1="659.9" y1="810.5" x2="659.9" y2="812.7" stroke="#222" stroke-width="0.81" />
<line x1="673.7" y1="810.5" x2="673.7" y2="812.7" stroke="#222" stroke-width="0.81" />
<line x1="631.3" y1="760.2" x2="643.5" y2="760.2" stroke="#111" stroke-width="0.9" />
<text class="S" x="637.4" y="758.3" font-size="4.4" fill="#111" font-weight="bold" text-anchor="middle" >p &lt; 0.0001</text>
<line x1="650" y1="760.2" x2="662.2" y2="760.2" stroke="#111" stroke-width="0.9" />
<text class="S" x="656.1" y="758.3" font-size="4.4" fill="#111" font-weight="bold" text-anchor="middle" >p &lt; 0.0001</text>
<line x1="647" y1="751.5" x2="674" y2="751.5" stroke="#111" stroke-width="0.9" />
<text class="S" x="660.5" y="749.4" font-size="4.4" fill="#111" font-weight="bold" text-anchor="middle" >p=0.0320</text>
<text class="R" x="602.1" y="779.8" font-size="6.7" font-weight="bold" text-anchor="middle" transform="rotate(-90 602.1 779.8)">Relative fluorescence density</text>
<text class="R" x="609.8" y="779.8" font-size="6.7" font-weight="bold" text-anchor="middle" transform="rotate(-90 609.8 779.8)">of mitoSOX</text>
<g transform="translate(632.9 818) rotate(-45)"><text class="R" x="0" y="0" font-size="5.5" text-anchor="end" >Ctrl</text></g>
<g transform="translate(647.1 818) rotate(-45)"><text class="R" x="0" y="0" font-size="5.5" text-anchor="end" >RANKL</text></g>
<g transform="translate(661.4 818) rotate(-45)"><text class="R" x="0" y="0" font-size="5.5" text-anchor="end" >RANKL+siSTOM</text></g>
<g transform="translate(675.1 818) rotate(-45)"><text class="R" x="0" y="0" font-size="5.5" text-anchor="end" >RANKL+OE-STOM</text></g>
<text class="S" x="586" y="846.5" font-size="11.5" font-weight="bold" >R</text>
<rect x="628.3" y="893.4" width="9.6" height="24.8" fill="#e31a1c" />
<line x1="633.1" y1="891.4" x2="633.1" y2="893.4" stroke="#e31a1c" stroke-width="0.7" />
<line x1="630.9" y1="891.4" x2="635.3" y2="891.4" stroke="#e31a1c" stroke-width="0.7" />
<circle cx="633.1" cy="891.7" r="1.2" fill="#000"/>
<circle cx="633.1" cy="895.1" r="1.2" fill="#000"/>
<circle cx="630.5" cy="893.4" r="1.2" fill="#000"/>
<rect x="642.1" y="875.3" width="9.6" height="42.9" fill="#3a7dbf" />
<line x1="646.9" y1="874.3" x2="646.9" y2="875.3" stroke="#3a7dbf" stroke-width="0.7" />
<line x1="644.7" y1="874.3" x2="649.1" y2="874.3" stroke="#3a7dbf" stroke-width="0.7" />
<circle cx="646.9" cy="874.8" r="1.2" fill="#000"/>
<circle cx="644.3" cy="875.8" r="1.2" fill="#000"/>
<circle cx="649.5" cy="874.8" r="1.2" fill="#000"/>
<rect x="656.2" y="886.9" width="9.6" height="31.3" fill="#4cae4a" />
<line x1="661" y1="884.5" x2="661" y2="886.9" stroke="#4cae4a" stroke-width="0.7" />
<line x1="658.8" y1="884.5" x2="663.2" y2="884.5" stroke="#4cae4a" stroke-width="0.7" />
<circle cx="661" cy="884" r="1.2" fill="#000"/>
<circle cx="661" cy="888.1" r="1.2" fill="#000"/>
<circle cx="658.4" cy="887.6" r="1.2" fill="#000"/>
<rect x="670.1" y="864" width="9.5" height="54.2" fill="#9a4ea3" />
<line x1="674.9" y1="862.5" x2="674.9" y2="864" stroke="#9a4ea3" stroke-width="0.7" />
<line x1="672.6" y1="862.5" x2="677.1" y2="862.5" stroke="#9a4ea3" stroke-width="0.7" />
<circle cx="674.9" cy="862.3" r="1.2" fill="#000"/>
<circle cx="674.9" cy="865.2" r="1.2" fill="#000"/>
<circle cx="672.3" cy="864" r="1.2" fill="#000"/>
<line x1="624.5" y1="918.2" x2="624.5" y2="857.9" stroke="#222" stroke-width="0.9" />
<line x1="624.5" y1="918.2" x2="685" y2="918.2" stroke="#222" stroke-width="0.9" />
<line x1="622.3" y1="918.2" x2="624.5" y2="918.2" stroke="#222" stroke-width="0.81" />
<text class="S" x="621.7" y="919.9" font-size="4.7" fill="#222" font-weight="bold" text-anchor="end" letter-spacing="0.3">0.0</text>
<line x1="622.3" y1="906.2" x2="624.5" y2="906.2" stroke="#222" stroke-width="0.81" />
<text class="S" x="621.7" y="907.8" font-size="4.7" fill="#222" font-weight="bold" text-anchor="end" letter-spacing="0.3">0.5</text>
<line x1="622.3" y1="894.1" x2="624.5" y2="894.1" stroke="#222" stroke-width="0.81" />
<text class="S" x="621.7" y="895.8" font-size="4.7" fill="#222" font-weight="bold" text-anchor="end" letter-spacing="0.3">1.0</text>
<line x1="622.3" y1="882.1" x2="624.5" y2="882.1" stroke="#222" stroke-width="0.81" />
<text class="S" x="621.7" y="883.7" font-size="4.7" fill="#222" font-weight="bold" text-anchor="end" letter-spacing="0.3">1.5</text>
<line x1="622.3" y1="870" x2="624.5" y2="870" stroke="#222" stroke-width="0.81" />
<text class="S" x="621.7" y="871.7" font-size="4.7" fill="#222" font-weight="bold" text-anchor="end" letter-spacing="0.3">2.0</text>
<line x1="622.3" y1="858" x2="624.5" y2="858" stroke="#222" stroke-width="0.81" />
<text class="S" x="621.7" y="859.6" font-size="4.7" fill="#222" font-weight="bold" text-anchor="end" letter-spacing="0.3">2.5</text>
<line x1="633.1" y1="918.2" x2="633.1" y2="920.4" stroke="#222" stroke-width="0.81" />
<line x1="646.9" y1="918.2" x2="646.9" y2="920.4" stroke="#222" stroke-width="0.81" />
<line x1="661" y1="918.2" x2="661" y2="920.4" stroke="#222" stroke-width="0.81" />
<line x1="674.9" y1="918.2" x2="674.9" y2="920.4" stroke="#222" stroke-width="0.81" />
<line x1="632.1" y1="866.4" x2="645.9" y2="866.4" stroke="#111" stroke-width="0.9" />
<text class="S" x="639" y="865" font-size="4.5" fill="#111" font-weight="bold" text-anchor="middle" >p &lt; 0.0001</text>
<line x1="649.7" y1="866.4" x2="662.8" y2="866.4" stroke="#111" stroke-width="0.9" />
<text class="S" x="656.2" y="865" font-size="4.5" fill="#111" font-weight="bold" text-anchor="middle" >p=0.0004</text>
<line x1="649.7" y1="858.1" x2="673.5" y2="858.1" stroke="#111" stroke-width="0.9" />
<text class="S" x="661.6" y="856.7" font-size="4.5" fill="#111" font-weight="bold" text-anchor="middle" >p=0.0066</text>
<text class="R" x="603.6" y="889" font-size="6.4" font-weight="bold" text-anchor="middle" transform="rotate(-90 603.6 889)">Relative fluorescence density of</text>
<text class="R" x="610.5" y="889" font-size="6.4" font-weight="bold" text-anchor="middle" transform="rotate(-90 610.5 889)">JC-1 aggregates/monomers</text>
<g transform="translate(634.6 926) rotate(-45)"><text class="R" x="0" y="0" font-size="5.6" text-anchor="end" >Ctrl</text></g>
<g transform="translate(648.4 926) rotate(-45)"><text class="R" x="0" y="0" font-size="5.6" text-anchor="end" >RANKL</text></g>
<g transform="translate(662.5 926) rotate(-45)"><text class="R" x="0" y="0" font-size="5.6" text-anchor="end" >RANKL+siSTOM</text></g>
<g transform="translate(676.4 926) rotate(-45)"><text class="R" x="0" y="0" font-size="5.6" text-anchor="end" >RANKL+OE-STOM</text></g>
</svg>
</body></html>
